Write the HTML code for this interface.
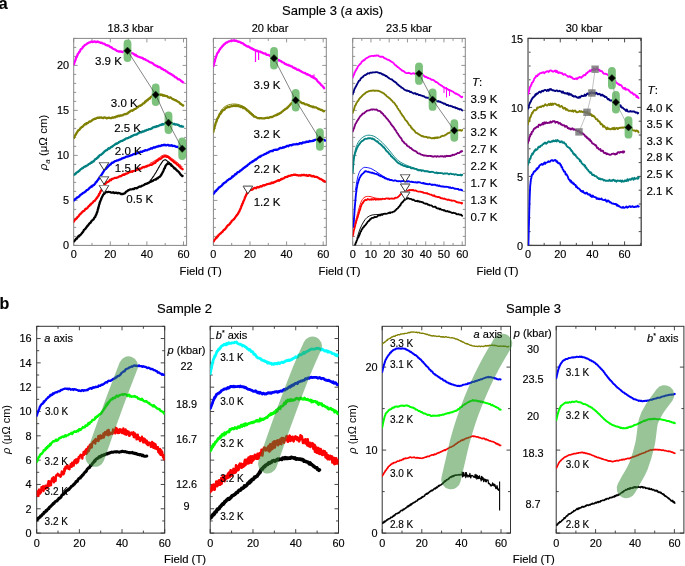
<!DOCTYPE html><html><head><meta charset="utf-8"><style>html,body{margin:0;padding:0;background:#fff;overflow:hidden}svg{display:block;will-change:transform}</style></head><body>
<svg width="685" height="566" viewBox="0 0 685 566" font-family='"Liberation Sans", sans-serif'>
<rect width="685" height="566" fill="#fff"/>
<clipPath id="a1"><rect x="73.7" y="38.4" width="112.89999999999999" height="207.0"/></clipPath>
<path d="M73.70,245.4 v-4.0 M73.70,38.4 v4.0 M92.00,245.4 v-2.5 M92.00,38.4 v2.5 M110.30,245.4 v-4.0 M110.30,38.4 v4.0 M128.60,245.4 v-2.5 M128.60,38.4 v2.5 M146.90,245.4 v-4.0 M146.90,38.4 v4.0 M165.20,245.4 v-2.5 M165.20,38.4 v2.5 M183.50,245.4 v-4.0 M183.50,38.4 v4.0 M73.7,245.40 h4.0 M186.6,245.40 h-4.0 M73.7,236.40 h2.5 M186.6,236.40 h-2.5 M73.7,227.40 h2.5 M186.6,227.40 h-2.5 M73.7,218.40 h2.5 M186.6,218.40 h-2.5 M73.7,209.40 h2.5 M186.6,209.40 h-2.5 M73.7,200.40 h4.0 M186.6,200.40 h-4.0 M73.7,191.40 h2.5 M186.6,191.40 h-2.5 M73.7,182.40 h2.5 M186.6,182.40 h-2.5 M73.7,173.40 h2.5 M186.6,173.40 h-2.5 M73.7,164.40 h2.5 M186.6,164.40 h-2.5 M73.7,155.40 h4.0 M186.6,155.40 h-4.0 M73.7,146.40 h2.5 M186.6,146.40 h-2.5 M73.7,137.40 h2.5 M186.6,137.40 h-2.5 M73.7,128.40 h2.5 M186.6,128.40 h-2.5 M73.7,119.40 h2.5 M186.6,119.40 h-2.5 M73.7,110.40 h4.0 M186.6,110.40 h-4.0 M73.7,101.40 h2.5 M186.6,101.40 h-2.5 M73.7,92.40 h2.5 M186.6,92.40 h-2.5 M73.7,83.40 h2.5 M186.6,83.40 h-2.5 M73.7,74.40 h2.5 M186.6,74.40 h-2.5 M73.7,65.40 h4.0 M186.6,65.40 h-4.0 M73.7,56.40 h2.5 M186.6,56.40 h-2.5 M73.7,47.40 h2.5 M186.6,47.40 h-2.5 M73.7,38.40 h2.5 M186.6,38.40 h-2.5" stroke="#888" stroke-width="0.9" fill="none"/>
<rect x="73.7" y="38.4" width="112.89999999999999" height="207.0" fill="none" stroke="#888" stroke-width="1.0"/>
<clipPath id="a2"><rect x="213.4" y="38.4" width="112.9" height="207.0"/></clipPath>
<path d="M213.40,245.4 v-4.0 M213.40,38.4 v4.0 M231.70,245.4 v-2.5 M231.70,38.4 v2.5 M250.00,245.4 v-4.0 M250.00,38.4 v4.0 M268.30,245.4 v-2.5 M268.30,38.4 v2.5 M286.60,245.4 v-4.0 M286.60,38.4 v4.0 M304.90,245.4 v-2.5 M304.90,38.4 v2.5 M323.20,245.4 v-4.0 M323.20,38.4 v4.0 M213.4,245.40 h4.0 M326.3,245.40 h-4.0 M213.4,236.40 h2.5 M326.3,236.40 h-2.5 M213.4,227.40 h2.5 M326.3,227.40 h-2.5 M213.4,218.40 h2.5 M326.3,218.40 h-2.5 M213.4,209.40 h2.5 M326.3,209.40 h-2.5 M213.4,200.40 h4.0 M326.3,200.40 h-4.0 M213.4,191.40 h2.5 M326.3,191.40 h-2.5 M213.4,182.40 h2.5 M326.3,182.40 h-2.5 M213.4,173.40 h2.5 M326.3,173.40 h-2.5 M213.4,164.40 h2.5 M326.3,164.40 h-2.5 M213.4,155.40 h4.0 M326.3,155.40 h-4.0 M213.4,146.40 h2.5 M326.3,146.40 h-2.5 M213.4,137.40 h2.5 M326.3,137.40 h-2.5 M213.4,128.40 h2.5 M326.3,128.40 h-2.5 M213.4,119.40 h2.5 M326.3,119.40 h-2.5 M213.4,110.40 h4.0 M326.3,110.40 h-4.0 M213.4,101.40 h2.5 M326.3,101.40 h-2.5 M213.4,92.40 h2.5 M326.3,92.40 h-2.5 M213.4,83.40 h2.5 M326.3,83.40 h-2.5 M213.4,74.40 h2.5 M326.3,74.40 h-2.5 M213.4,65.40 h4.0 M326.3,65.40 h-4.0 M213.4,56.40 h2.5 M326.3,56.40 h-2.5 M213.4,47.40 h2.5 M326.3,47.40 h-2.5 M213.4,38.40 h2.5 M326.3,38.40 h-2.5" stroke="#888" stroke-width="0.9" fill="none"/>
<rect x="213.4" y="38.4" width="112.9" height="207.0" fill="none" stroke="#888" stroke-width="1.0"/>
<clipPath id="a3"><rect x="352.7" y="38.4" width="112.60000000000002" height="207.0"/></clipPath>
<path d="M352.70,245.4 v-4.0 M352.70,38.4 v4.0 M361.82,245.4 v-2.5 M361.82,38.4 v2.5 M370.95,245.4 v-4.0 M370.95,38.4 v4.0 M380.07,245.4 v-2.5 M380.07,38.4 v2.5 M389.20,245.4 v-4.0 M389.20,38.4 v4.0 M398.32,245.4 v-2.5 M398.32,38.4 v2.5 M407.45,245.4 v-4.0 M407.45,38.4 v4.0 M416.57,245.4 v-2.5 M416.57,38.4 v2.5 M425.70,245.4 v-4.0 M425.70,38.4 v4.0 M434.82,245.4 v-2.5 M434.82,38.4 v2.5 M443.95,245.4 v-4.0 M443.95,38.4 v4.0 M453.07,245.4 v-2.5 M453.07,38.4 v2.5 M462.20,245.4 v-4.0 M462.20,38.4 v4.0 M352.7,245.40 h4.0 M465.3,245.40 h-4.0 M352.7,236.40 h2.5 M465.3,236.40 h-2.5 M352.7,227.40 h2.5 M465.3,227.40 h-2.5 M352.7,218.40 h2.5 M465.3,218.40 h-2.5 M352.7,209.40 h2.5 M465.3,209.40 h-2.5 M352.7,200.40 h4.0 M465.3,200.40 h-4.0 M352.7,191.40 h2.5 M465.3,191.40 h-2.5 M352.7,182.40 h2.5 M465.3,182.40 h-2.5 M352.7,173.40 h2.5 M465.3,173.40 h-2.5 M352.7,164.40 h2.5 M465.3,164.40 h-2.5 M352.7,155.40 h4.0 M465.3,155.40 h-4.0 M352.7,146.40 h2.5 M465.3,146.40 h-2.5 M352.7,137.40 h2.5 M465.3,137.40 h-2.5 M352.7,128.40 h2.5 M465.3,128.40 h-2.5 M352.7,119.40 h2.5 M465.3,119.40 h-2.5 M352.7,110.40 h4.0 M465.3,110.40 h-4.0 M352.7,101.40 h2.5 M465.3,101.40 h-2.5 M352.7,92.40 h2.5 M465.3,92.40 h-2.5 M352.7,83.40 h2.5 M465.3,83.40 h-2.5 M352.7,74.40 h2.5 M465.3,74.40 h-2.5 M352.7,65.40 h4.0 M465.3,65.40 h-4.0 M352.7,56.40 h2.5 M465.3,56.40 h-2.5 M352.7,47.40 h2.5 M465.3,47.40 h-2.5 M352.7,38.40 h2.5 M465.3,38.40 h-2.5" stroke="#888" stroke-width="0.9" fill="none"/>
<rect x="352.7" y="38.4" width="112.60000000000002" height="207.0" fill="none" stroke="#888" stroke-width="1.0"/>
<clipPath id="a4"><rect x="528.1" y="38.4" width="113.10000000000002" height="207.0"/></clipPath>
<path d="M528.10,245.4 v-4.0 M528.10,38.4 v4.0 M544.18,245.4 v-2.5 M544.18,38.4 v2.5 M560.26,245.4 v-4.0 M560.26,38.4 v4.0 M576.34,245.4 v-2.5 M576.34,38.4 v2.5 M592.42,245.4 v-4.0 M592.42,38.4 v4.0 M608.50,245.4 v-2.5 M608.50,38.4 v2.5 M624.58,245.4 v-4.0 M624.58,38.4 v4.0 M640.66,245.4 v-2.5 M640.66,38.4 v2.5 M528.1,245.40 h4.0 M641.2,245.40 h-4.0 M528.1,231.60 h2.5 M641.2,231.60 h-2.5 M528.1,217.80 h2.5 M641.2,217.80 h-2.5 M528.1,204.00 h2.5 M641.2,204.00 h-2.5 M528.1,190.20 h2.5 M641.2,190.20 h-2.5 M528.1,176.40 h4.0 M641.2,176.40 h-4.0 M528.1,162.60 h2.5 M641.2,162.60 h-2.5 M528.1,148.80 h2.5 M641.2,148.80 h-2.5 M528.1,135.00 h2.5 M641.2,135.00 h-2.5 M528.1,121.20 h2.5 M641.2,121.20 h-2.5 M528.1,107.40 h4.0 M641.2,107.40 h-4.0 M528.1,93.60 h2.5 M641.2,93.60 h-2.5 M528.1,79.80 h2.5 M641.2,79.80 h-2.5 M528.1,66.00 h2.5 M641.2,66.00 h-2.5 M528.1,52.20 h2.5 M641.2,52.20 h-2.5 M528.1,38.40 h4.0 M641.2,38.40 h-4.0" stroke="#333" stroke-width="0.9" fill="none"/>
<rect x="528.1" y="38.4" width="113.10000000000002" height="207.0" fill="none" stroke="#444" stroke-width="1.3"/>
<path d="M528.1,39 V244.8" stroke="#999" stroke-width="1.4"/>
<path d="M73.70,64.37 L73.87,64.54 L74.09,63.86 L74.34,62.67 L74.63,62.08 L74.94,61.16 L75.27,60.43 L75.61,59.63 L75.96,58.08 L76.31,57.14 L76.66,57.04 L77.00,55.94 L77.41,55.41 L77.82,53.93 L78.24,53.57 L78.67,53.08 L79.12,51.92 L79.57,51.87 L80.03,51.16 L80.51,49.72 L81.00,49.07 L81.57,48.82 L82.15,48.49 L82.74,47.31 L83.36,46.51 L83.99,46.07 L84.64,45.13 L85.31,44.75 L86.00,44.44 L86.72,44.03 L87.45,43.35 L88.21,42.94 L88.98,42.55 L89.78,42.44 L90.60,42.01 L91.44,41.54 L92.30,42.10 L93.10,41.75 L93.93,41.78 L94.79,41.36 L95.66,42.11 L96.54,42.06 L97.43,41.50 L98.30,41.82 L99.16,42.32 L100.00,42.49 L100.82,42.91 L101.64,42.71 L102.46,43.37 L103.26,43.56 L104.06,43.58 L104.84,44.19 L105.61,44.83 L106.37,45.16 L107.10,45.20 L107.89,45.67 L108.65,45.58 L109.39,46.19 L110.11,47.11 L110.82,47.18 L111.53,47.39 L112.26,48.14 L113.00,48.68 L113.77,49.08 L114.56,49.25 L115.36,49.76 L116.17,50.27 L116.96,50.93 L117.74,51.07 L118.49,51.27 L119.20,51.59 L120.10,51.35 L120.95,51.42 L121.77,51.97 L122.55,52.13 L123.29,51.67 L124.00,51.40 L124.87,50.96 L125.58,50.90 L126.37,51.09 L127.50,51.04 L128.08,51.04 L128.72,51.62 L129.40,51.40 L130.13,52.06 L130.89,52.89 L131.69,53.02 L132.50,53.39 L133.33,53.70 L134.16,54.41 L135.00,55.21 L135.71,54.70 L136.44,55.75 L137.19,56.13 L137.96,56.54 L138.73,56.77 L139.52,57.18 L140.31,57.28 L141.10,57.68 L141.89,57.92 L142.67,57.96 L143.44,59.06 L144.20,59.16 L144.94,59.20 L145.68,59.86 L146.40,60.21 L147.13,60.48 L147.84,60.85 L148.56,61.41 L149.28,61.88 L150.01,62.26 L150.74,62.52 L151.48,62.54 L152.23,63.14 L153.00,63.51 L153.67,64.24 L154.35,64.87 L155.04,65.19 L155.74,65.57 L156.45,65.98 L157.16,65.87 L157.88,66.80 L158.59,67.04 L159.30,66.91 L160.01,67.26 L160.72,67.66 L161.42,68.73 L162.12,68.67 L162.80,68.95 L163.52,69.84 L164.23,70.01 L164.92,70.18 L165.61,70.68 L166.29,71.43 L166.97,71.53 L167.65,72.05 L168.34,72.87 L169.04,73.08 L169.75,73.41 L170.48,74.01 L171.23,74.08 L172.00,74.90 L172.67,75.35 L173.38,75.61 L174.14,76.02 L174.92,77.24 L175.73,77.42 L176.55,77.68 L177.36,78.57 L178.18,79.29 L178.97,79.09 L179.73,79.59 L180.46,80.19 L181.14,81.15 L181.76,81.05 L182.32,81.91 L182.80,82.20 L183.20,82.34" fill="none" stroke="#ff00ff" stroke-width="2.3" stroke-linejoin="round" stroke-linecap="round" clip-path="url(#a1)"/>
<path d="M73.70,137.75 L73.95,138.00 L74.27,137.28 L74.65,136.37 L75.08,135.36 L75.54,134.95 L76.02,133.90 L76.52,133.24 L77.03,132.22 L77.52,131.77 L78.00,130.60 L78.59,130.09 L79.19,130.00 L79.80,129.26 L80.42,128.13 L81.05,128.02 L81.69,126.95 L82.34,126.95 L83.00,126.22 L83.67,125.39 L84.36,124.72 L85.06,124.01 L85.78,124.31 L86.49,123.09 L87.20,123.35 L87.91,123.04 L88.60,122.26 L89.38,121.43 L90.15,121.60 L90.91,121.26 L91.68,120.60 L92.44,120.02 L93.21,119.53 L94.00,119.16 L94.80,118.71 L95.62,118.83 L96.44,118.33 L97.27,117.86 L98.09,117.56 L98.90,117.88 L99.70,117.42 L100.60,117.53 L101.48,117.38 L102.34,117.93 L103.21,118.04 L104.09,117.32 L105.00,117.53 L105.79,117.67 L106.58,118.30 L107.38,118.15 L108.19,117.78 L109.03,117.66 L109.89,118.04 L110.80,118.10 L111.54,118.09 L112.30,117.42 L113.08,117.76 L113.88,117.41 L114.69,117.03 L115.51,117.28 L116.34,116.39 L117.17,116.62 L118.00,115.83 L118.75,115.71 L119.51,116.18 L120.29,115.35 L121.06,115.64 L121.84,115.28 L122.62,115.28 L123.40,114.61 L124.18,114.33 L124.94,114.01 L125.70,114.23 L126.45,113.67 L127.18,113.64 L127.91,113.22 L128.64,112.16 L129.36,112.13 L130.08,111.32 L130.81,110.85 L131.53,110.46 L132.26,110.75 L133.00,110.26 L133.75,109.87 L134.50,109.00 L135.27,108.81 L136.03,108.52 L136.80,107.71 L137.56,107.43 L138.32,106.66 L139.06,106.07 L139.79,105.76 L140.50,105.85 L141.20,105.07 L141.89,104.90 L142.57,103.97 L143.24,103.29 L143.91,103.23 L144.56,102.75 L145.19,101.50 L145.81,101.60 L146.42,100.59 L147.00,100.15 L147.71,100.28 L148.39,98.96 L149.04,98.60 L149.67,98.74 L150.29,97.72 L150.88,96.98 L151.45,96.59 L152.00,96.27 L152.81,96.19 L153.54,95.17 L154.24,95.55 L154.94,94.79 L155.70,95.12 L156.49,94.95 L157.27,94.36 L158.09,94.35 L158.99,94.65 L160.00,94.44 L160.69,95.03 L161.42,94.59 L162.19,94.68 L162.99,95.70 L163.82,95.26 L164.68,95.74 L165.58,95.86 L166.50,96.03 L167.20,96.06 L167.93,97.09 L168.68,97.44 L169.46,97.76 L170.25,97.32 L171.04,97.77 L171.85,98.50 L172.65,99.21 L173.45,99.21 L174.23,99.75 L175.00,100.15 L175.72,100.20 L176.48,100.92 L177.26,101.21 L178.06,101.68 L178.85,102.07 L179.63,102.79 L180.38,103.95 L181.09,103.96 L181.73,104.61 L182.31,105.01 L182.80,105.63 L183.20,105.40" fill="none" stroke="#808000" stroke-width="2.3" stroke-linejoin="round" stroke-linecap="round" clip-path="url(#a1)"/>
<path d="M73.50,175.03 L73.88,174.75 L74.35,174.38 L74.90,174.43 L75.51,174.00 L76.17,172.96 L76.88,172.44 L77.62,172.05 L78.40,171.49 L79.18,170.91 L79.97,169.99 L80.76,169.20 L81.53,168.83 L82.28,168.13 L83.00,168.05 L83.70,167.13 L84.39,166.67 L85.09,166.72 L85.79,165.96 L86.49,165.98 L87.20,165.27 L87.91,165.16 L88.62,164.08 L89.33,163.94 L90.06,163.74 L90.78,162.61 L91.51,162.89 L92.25,161.66 L93.00,161.65 L93.58,161.38 L94.17,160.76 L94.76,159.82 L95.36,159.12 L95.96,158.96 L96.56,158.80 L97.16,157.69 L97.77,157.69 L98.38,156.46 L98.99,156.60 L99.60,155.25 L100.22,154.96 L100.84,154.94 L101.47,154.32 L102.10,153.88 L102.73,153.30 L103.36,152.71 L104.00,152.17 L104.68,151.21 L105.35,150.94 L106.03,150.20 L106.71,150.21 L107.40,149.69 L108.08,148.85 L108.77,148.21 L109.46,148.55 L110.16,147.95 L110.87,147.27 L111.58,146.81 L112.29,146.64 L113.02,145.83 L113.75,145.33 L114.49,144.84 L115.24,144.32 L116.00,143.67 L116.69,143.84 L117.38,143.24 L118.08,142.99 L118.78,142.15 L119.49,142.03 L120.21,141.46 L120.93,141.07 L121.66,140.82 L122.39,140.96 L123.13,140.20 L123.87,139.83 L124.62,139.65 L125.37,138.95 L126.13,138.38 L126.89,138.48 L127.66,138.09 L128.44,137.86 L129.22,137.31 L130.00,137.17 L130.72,136.88 L131.46,136.10 L132.20,136.00 L132.97,135.64 L133.74,135.08 L134.52,134.91 L135.30,134.70 L136.09,134.68 L136.88,134.35 L137.67,133.44 L138.46,133.44 L139.25,132.58 L140.03,132.27 L140.81,132.35 L141.58,132.37 L142.34,131.41 L143.08,131.66 L143.81,131.47 L144.53,130.67 L145.22,130.74 L145.90,130.61 L146.76,129.85 L147.61,129.82 L148.43,129.54 L149.23,129.12 L150.02,129.06 L150.79,128.82 L151.55,128.61 L152.29,128.00 L153.03,127.38 L153.75,127.20 L154.47,126.93 L155.18,127.00 L155.89,126.94 L156.59,126.07 L157.30,126.40 L158.00,126.20 L158.86,125.57 L159.72,125.41 L160.57,124.78 L161.42,124.98 L162.25,124.05 L163.07,124.60 L163.88,124.16 L164.68,123.74 L165.46,123.18 L166.23,123.55 L166.97,123.42 L167.70,122.56 L168.40,123.05 L169.37,123.08 L170.29,122.98 L171.16,123.16 L172.00,123.13 L172.81,123.81 L173.61,124.12 L174.40,123.88 L175.19,124.53 L176.00,124.44 L176.85,124.45 L177.75,124.88 L178.67,125.00 L179.58,126.02 L180.46,126.37 L181.28,125.91 L182.01,126.61 L182.63,126.65 L183.10,126.56" fill="none" stroke="#008080" stroke-width="2.3" stroke-linejoin="round" stroke-linecap="round" clip-path="url(#a1)"/>
<path d="M73.50,200.62 L73.88,200.26 L74.38,200.31 L74.96,199.16 L75.61,198.79 L76.31,198.44 L77.05,197.46 L77.81,197.39 L78.56,196.75 L79.30,196.36 L80.00,195.24 L80.62,194.81 L81.24,194.55 L81.87,193.81 L82.51,193.59 L83.15,192.79 L83.79,192.68 L84.43,192.27 L85.08,191.78 L85.72,191.43 L86.36,190.54 L87.00,189.99 L87.64,189.82 L88.30,189.25 L88.96,188.58 L89.63,187.92 L90.29,187.33 L90.95,186.68 L91.60,186.81 L92.24,185.69 L92.85,185.75 L93.44,185.06 L94.00,184.92 L94.64,184.10 L95.25,183.66 L95.81,182.27 L96.36,181.95 L96.89,181.36 L97.41,180.46 L97.93,179.95 L98.46,179.11 L99.00,178.53 L99.45,177.42 L99.90,177.16 L100.34,176.49 L100.78,175.67 L101.22,175.05 L101.66,174.68 L102.11,173.88 L102.56,173.01 L103.03,172.46 L103.51,171.54 L104.00,170.73 L104.51,169.91 L105.03,169.52 L105.56,169.16 L106.11,168.78 L106.66,168.11 L107.22,167.21 L107.78,167.04 L108.34,165.99 L108.90,165.79 L109.45,164.89 L110.00,164.72 L110.72,164.36 L111.38,163.26 L112.03,162.72 L112.69,162.73 L113.38,162.28 L114.15,161.75 L115.01,161.02 L116.00,160.90 L116.63,160.64 L117.30,160.32 L118.01,160.42 L118.75,159.85 L119.52,159.65 L120.31,159.47 L121.12,159.00 L121.95,158.43 L122.79,158.33 L123.64,157.90 L124.49,157.58 L125.33,157.24 L126.17,156.72 L127.00,156.62 L127.77,156.34 L128.54,156.35 L129.32,155.94 L130.10,155.74 L130.89,155.41 L131.68,155.20 L132.48,154.76 L133.28,154.28 L134.08,153.95 L134.89,154.09 L135.70,153.99 L136.52,153.44 L137.34,152.82 L138.17,153.17 L139.00,152.59 L139.75,152.32 L140.51,151.69 L141.30,151.85 L142.10,151.80 L142.90,151.24 L143.72,150.91 L144.53,150.91 L145.34,150.07 L146.15,150.23 L146.95,150.36 L147.74,149.87 L148.51,149.36 L149.26,149.37 L149.99,149.05 L150.69,148.46 L151.36,148.24 L152.00,148.65 L153.01,147.76 L153.94,147.27 L154.81,147.66 L155.63,147.11 L156.40,146.71 L157.14,146.60 L157.86,146.58 L158.57,145.86 L159.28,146.11 L160.00,145.99 L160.88,145.89 L161.71,145.23 L162.50,145.39 L163.27,144.93 L164.05,145.13 L164.86,144.72 L165.70,145.25 L166.60,145.33 L167.37,144.88 L168.18,144.84 L169.03,145.59 L169.89,145.46 L170.76,145.70 L171.64,145.11 L172.51,146.04 L173.37,145.96 L174.20,145.85 L175.00,146.14 L175.89,146.67 L176.82,146.97 L177.76,146.75 L178.68,147.47 L179.56,147.39 L180.38,148.43 L181.11,148.24 L181.72,148.90 L182.20,148.91" fill="none" stroke="#0000ff" stroke-width="2.3" stroke-linejoin="round" stroke-linecap="round" clip-path="url(#a1)"/>
<path d="M73.50,221.90 L73.81,221.23 L74.19,221.03 L74.63,220.17 L75.13,219.59 L75.67,219.48 L76.25,218.49 L76.86,218.15 L77.48,216.98 L78.12,216.71 L78.75,216.01 L79.39,214.96 L80.00,214.15 L80.57,213.83 L81.17,213.33 L81.78,212.39 L82.42,211.87 L83.06,211.15 L83.71,211.04 L84.36,210.70 L85.00,209.51 L85.64,208.76 L86.26,208.80 L86.86,208.34 L87.45,207.94 L88.00,207.10 L88.69,206.21 L89.38,206.01 L90.04,204.74 L90.69,204.66 L91.31,203.54 L91.91,203.24 L92.48,202.79 L93.02,202.16 L93.53,201.47 L94.00,201.06 L94.80,200.76 L95.44,199.75 L95.98,199.22 L96.48,198.26 L97.00,197.99 L97.45,196.97 L97.89,196.49 L98.31,196.03 L98.72,195.36 L99.12,193.78 L99.50,193.77 L99.92,193.05 L100.31,191.83 L100.69,191.17 L101.08,190.62 L101.50,190.18 L101.98,188.91 L102.49,188.49 L103.01,187.54 L103.52,186.20 L104.00,186.17 L104.49,184.64 L104.91,184.17 L105.37,184.07 L106.00,182.90 L106.53,182.71 L107.11,181.99 L107.75,181.77 L108.44,181.59 L109.19,181.14 L110.00,179.88 L110.62,179.58 L111.23,180.00 L111.86,179.01 L112.53,178.95 L113.26,178.53 L114.07,178.19 L114.97,177.78 L116.00,177.92 L116.60,177.77 L117.25,177.46 L117.93,177.33 L118.65,176.87 L119.39,176.33 L120.16,176.23 L120.94,176.22 L121.75,175.60 L122.56,174.92 L123.39,174.42 L124.22,174.88 L125.05,174.24 L125.87,173.70 L126.69,173.61 L127.50,173.25 L128.25,172.93 L129.01,172.22 L129.78,172.19 L130.55,171.95 L131.32,171.46 L132.10,171.78 L132.88,171.07 L133.67,170.99 L134.46,170.74 L135.25,170.47 L136.04,170.16 L136.83,169.89 L137.62,169.15 L138.42,169.51 L139.21,168.47 L140.00,168.88 L140.80,168.53 L141.63,168.24 L142.48,167.24 L143.33,166.99 L144.20,167.36 L145.07,166.77 L145.93,166.40 L146.79,166.67 L147.64,165.54 L148.47,165.71 L149.28,165.35 L150.06,164.79 L150.80,164.75 L151.51,164.75 L152.18,164.62 L152.80,163.57 L153.78,163.52 L154.62,162.61 L155.35,162.73 L156.00,161.56 L156.59,161.00 L157.16,160.81 L157.74,160.63 L158.34,159.78 L159.00,159.17 L159.71,159.32 L160.44,158.85 L161.19,158.42 L161.93,157.47 L162.67,157.15 L163.39,156.61 L164.09,156.59 L164.77,156.16 L165.40,156.05 L166.25,156.48 L167.01,156.86 L167.73,156.91 L168.43,156.97 L169.17,158.03 L170.00,158.45 L170.60,159.37 L171.23,159.61 L171.87,160.23 L172.54,160.67 L173.22,161.10 L173.90,162.02 L174.60,162.57 L175.30,162.70 L176.00,163.19 L176.60,163.91 L177.25,164.62 L177.94,164.84 L178.63,165.69 L179.33,166.52 L180.01,166.66 L180.66,167.93 L181.26,168.33 L181.79,168.51 L182.25,168.90 L182.60,169.27" fill="none" stroke="#ff0000" stroke-width="2.3" stroke-linejoin="round" stroke-linecap="round" clip-path="url(#a1)"/>
<path d="M73.80,241.34 L74.20,241.29 L74.75,240.47 L75.40,239.79 L76.11,238.68 L76.82,238.60 L77.50,237.34 L78.04,236.78 L78.56,236.02 L79.09,236.32 L79.63,235.32 L80.20,235.12 L80.82,234.46 L81.50,233.72 L81.93,233.07 L82.38,232.62 L82.85,232.04 L83.33,231.32 L83.83,230.08 L84.34,229.78 L84.86,229.16 L85.38,228.87 L85.91,228.01 L86.44,227.27 L86.97,226.66 L87.50,225.68 L88.04,225.56 L88.61,224.64 L89.21,223.76 L89.81,223.15 L90.42,222.94 L91.03,221.88 L91.62,220.90 L92.19,220.25 L92.73,220.12 L93.24,219.42 L93.70,219.18 L94.10,218.02 L94.75,217.33 L95.24,216.88 L95.61,215.62 L95.91,215.04 L96.19,214.79 L96.50,213.79 L96.78,212.93 L97.04,212.32 L97.28,211.89 L97.51,211.00 L97.73,209.79 L97.96,208.95 L98.20,208.82 L98.41,207.87 L98.62,206.65 L98.83,206.45 L99.04,204.87 L99.25,204.36 L99.46,203.99 L99.68,203.11 L99.90,202.01 L100.21,201.66 L100.53,200.55 L100.85,199.99 L101.17,199.26 L101.49,198.12 L101.80,197.66 L102.20,196.59 L102.56,196.10 L102.97,195.19 L103.50,194.40 L104.04,193.92 L104.66,193.53 L105.34,192.36 L106.06,191.90 L106.80,192.12 L107.57,192.05 L108.38,191.86 L109.22,191.98 L110.09,192.07 L111.00,192.64 L111.75,192.67 L112.50,192.59 L113.26,192.22 L114.08,193.08 L114.98,192.85 L116.00,192.72 L116.70,192.90 L117.48,193.36 L118.32,192.86 L119.20,193.08 L120.09,193.36 L120.98,193.98 L121.84,193.92 L122.64,194.14 L123.37,193.73 L124.00,193.66 L124.90,193.26 L125.45,192.63 L125.91,191.93 L126.51,191.44 L127.50,190.91 L128.13,190.16 L128.84,190.11 L129.62,189.59 L130.46,189.35 L131.35,189.30 L132.26,189.14 L133.18,188.88 L134.10,189.02 L135.00,188.04 L135.88,188.20 L136.70,188.25 L137.49,187.72 L138.27,187.26 L139.04,186.76 L139.81,186.46 L140.56,186.60 L141.31,186.22 L142.06,185.68 L142.80,185.54 L143.53,185.23 L144.27,184.83 L145.00,184.10 L145.82,183.82 L146.65,183.77 L147.49,183.04 L148.33,183.04 L149.16,182.46 L149.96,181.99 L150.74,181.77 L151.48,181.15 L152.17,181.06 L152.80,180.82 L153.72,180.02 L154.49,179.75 L155.17,179.45 L155.79,179.61 L156.38,178.99 L157.00,178.31 L157.75,178.47 L158.47,177.35 L159.17,177.09 L159.84,176.73 L160.50,175.97 L160.96,175.12 L161.41,174.72 L161.85,173.68 L162.28,173.08 L162.69,172.06 L163.10,171.69 L163.50,170.69 L163.95,169.25 L164.39,168.38 L164.81,168.23 L165.22,166.71 L165.62,165.75 L166.00,165.28 L166.67,164.36 L167.28,163.97 L168.00,163.11 L168.63,163.50 L169.31,163.98 L170.09,163.89 L171.00,165.10 L171.52,165.86 L172.07,165.93 L172.66,166.42 L173.28,166.80 L173.92,167.93 L174.59,168.57 L175.28,168.45 L176.00,169.55 L176.56,169.98 L177.19,170.84 L177.86,171.03 L178.56,171.88 L179.26,172.62 L179.96,173.52 L180.62,174.50 L181.23,175.20 L181.78,175.70 L182.24,176.09 L182.60,175.93" fill="none" stroke="#000000" stroke-width="2.3" stroke-linejoin="round" stroke-linecap="round" clip-path="url(#a1)"/>
<path d="M149.50,181.47 L149.81,181.16 L150.23,180.54 L150.73,179.99 L151.28,179.43 L151.86,178.45 L152.44,177.89 L153.00,176.88 L153.43,176.33 L153.86,175.80 L154.31,174.87 L154.77,174.23 L155.23,173.44 L155.69,172.82 L156.14,172.10 L156.57,171.15 L157.00,170.50 L157.47,169.83 L157.93,168.92 L158.39,168.03 L158.84,167.40 L159.28,166.51 L159.71,165.82 L160.11,164.99 L160.50,164.65 L161.07,163.62 L161.59,162.85 L162.07,162.12 L162.54,161.26 L163.00,160.81 L163.73,160.15 L164.43,159.91 L165.20,159.90 L165.83,159.92 L166.49,160.33 L167.20,160.98 L168.00,161.47 L168.64,161.85 L169.39,162.42 L170.18,163.12 L170.92,163.70 L171.55,164.30 L172.00,164.51" fill="none" stroke="#000000" stroke-width="1.1" stroke-linejoin="round" stroke-linecap="round" clip-path="url(#a1)"/>
<path d="M150.00,163.54 L150.47,163.09 L151.10,162.84 L151.85,162.36 L152.69,162.05 L153.56,161.37 L154.43,160.84 L155.26,160.41 L156.00,159.99 L156.78,159.42 L157.55,158.99 L158.29,158.28 L159.01,158.03 L159.71,157.45 L160.37,156.92 L161.00,156.32 L161.98,155.81 L162.84,155.43 L163.66,155.04 L164.50,154.92 L165.32,154.99 L166.09,154.97 L166.95,155.43 L168.00,155.93 L168.55,156.16 L169.13,156.51 L169.74,156.94 L170.39,157.28 L171.06,157.91 L171.76,158.46 L172.48,158.91 L173.23,159.50 L174.00,159.89 L174.62,160.35 L175.31,161.04 L176.05,161.76 L176.81,162.19 L177.60,162.66 L178.38,163.31 L179.13,164.05 L179.85,164.77 L180.52,165.11 L181.11,165.65 L181.61,166.25 L182.00,166.69" fill="none" stroke="#ff0000" stroke-width="1.0" stroke-linejoin="round" stroke-linecap="round" clip-path="url(#a1)"/>
<path d="M213.40,66.36 L213.52,66.12 L213.67,65.45 L213.85,64.30 L214.05,63.78 L214.26,62.75 L214.49,61.94 L214.74,61.48 L214.99,60.47 L215.24,58.99 L215.50,58.15 L215.75,57.93 L216.00,56.64 L216.32,55.97 L216.64,55.12 L216.96,54.16 L217.29,53.41 L217.63,52.81 L218.00,52.35 L218.39,52.13 L218.82,51.16 L219.30,50.07 L219.72,49.83 L220.17,48.81 L220.64,48.36 L221.13,47.51 L221.64,47.40 L222.17,46.20 L222.71,45.96 L223.27,45.20 L223.83,44.81 L224.41,44.07 L225.00,43.83 L225.74,42.90 L226.51,42.67 L227.30,42.18 L228.11,41.72 L228.94,41.42 L229.78,41.11 L230.62,40.76 L231.46,41.06 L232.30,40.72 L233.14,40.62 L234.00,40.23 L234.86,40.76 L235.73,40.63 L236.60,40.89 L237.46,41.35 L238.32,41.73 L239.17,41.77 L240.00,42.09 L240.73,42.62 L241.45,42.90 L242.15,43.20 L242.84,43.31 L243.54,43.95 L244.23,44.61 L244.93,44.93 L245.64,45.34 L246.36,46.02 L247.10,46.30 L247.79,46.62 L248.50,46.40 L249.22,47.02 L249.95,47.73 L250.69,47.63 L251.42,48.68 L252.16,48.35 L252.89,49.37 L253.61,49.11 L254.31,50.00 L255.00,50.31 L255.82,50.20 L256.61,51.01 L257.39,50.65 L258.15,51.55 L258.91,51.40 L259.67,51.71 L260.43,51.69 L261.21,52.40 L262.00,52.39 L262.82,53.05 L263.67,53.48 L264.54,53.61 L265.42,53.39 L266.28,54.55 L267.13,54.84 L267.94,54.90 L268.70,54.98 L269.40,55.46 L270.27,56.19 L270.94,56.22 L271.54,56.93 L272.17,57.21 L272.95,57.55 L274.00,58.59 L274.59,58.42 L275.25,58.93 L275.95,58.78 L276.70,59.51 L277.48,59.50 L278.28,60.48 L279.11,60.24 L279.94,60.67 L280.78,61.13 L281.62,61.55 L282.44,62.27 L283.23,62.51 L284.00,62.79 L284.75,63.79 L285.49,64.07 L286.23,64.19 L286.96,64.67 L287.69,65.03 L288.42,64.85 L289.14,65.70 L289.87,65.53 L290.59,66.16 L291.32,66.32 L292.04,66.49 L292.77,67.39 L293.50,67.87 L294.23,67.69 L294.95,68.56 L295.66,68.44 L296.38,69.08 L297.09,69.74 L297.80,69.91 L298.52,69.63 L299.24,70.34 L299.97,70.66 L300.71,70.96 L301.46,71.81 L302.22,71.86 L303.00,72.48 L303.70,72.77 L304.43,73.01 L305.18,72.95 L305.96,73.87 L306.74,74.43 L307.54,74.15 L308.33,74.94 L309.12,75.17 L309.89,75.41 L310.64,76.11 L311.37,76.72 L312.07,76.22 L312.73,77.36 L313.34,77.25 L313.90,78.00 L314.82,78.03 L315.58,79.12 L316.24,79.16 L316.81,79.95 L317.34,81.11 L317.86,81.41 L318.40,82.13 L319.00,82.47 L319.59,83.08 L320.23,83.76 L320.89,84.70 L321.55,85.36 L322.18,85.56 L322.78,86.42 L323.31,87.09 L323.76,87.60 L324.10,88.28" fill="none" stroke="#ff00ff" stroke-width="2.3" stroke-linejoin="round" stroke-linecap="round" clip-path="url(#a2)"/>
<path d="M255.5,50.5 V61.9 M258.6,51.5 V60 M313.9,77 V74.5" stroke="#ff00ff" stroke-width="1.2"/>
<path d="M213.40,131.81 L213.53,130.72 L213.69,130.33 L213.87,129.40 L214.08,128.55 L214.30,127.75 L214.54,126.96 L214.79,126.55 L215.06,125.52 L215.33,124.70 L215.62,123.31 L215.91,122.30 L216.20,122.20 L216.50,121.29 L216.83,120.61 L217.16,118.99 L217.51,118.56 L217.87,118.01 L218.24,117.35 L218.62,116.78 L219.02,115.73 L219.41,114.90 L219.82,113.89 L220.24,113.96 L220.67,113.51 L221.10,112.87 L221.69,111.92 L222.30,110.95 L222.93,110.22 L223.57,110.10 L224.22,109.70 L224.90,109.21 L225.58,108.03 L226.28,107.97 L227.00,107.51 L227.74,107.09 L228.52,107.12 L229.32,106.99 L230.14,106.59 L230.96,106.39 L231.78,106.24 L232.58,106.09 L233.36,105.90 L234.10,105.57 L235.01,106.01 L235.89,105.44 L236.74,105.98 L237.58,105.86 L238.39,106.17 L239.20,106.42 L240.00,106.48 L240.80,107.16 L241.59,106.76 L242.37,106.86 L243.14,108.04 L243.88,107.82 L244.61,108.18 L245.30,108.72 L246.07,109.42 L246.79,110.37 L247.48,110.76 L248.16,111.07 L248.82,111.91 L249.50,112.45 L250.17,113.12 L250.83,113.67 L251.48,114.07 L252.14,114.87 L252.81,115.42 L253.50,115.73 L254.21,116.70 L254.91,116.64 L255.64,116.76 L256.39,117.40 L257.17,117.89 L258.00,118.05 L258.74,118.09 L259.49,118.36 L260.27,118.16 L261.08,118.10 L261.93,118.29 L262.83,118.40 L263.80,118.30 L264.52,118.41 L265.28,118.03 L266.07,117.90 L266.89,117.88 L267.73,117.66 L268.58,118.03 L269.44,117.58 L270.30,117.05 L271.16,117.01 L272.00,117.13 L272.77,116.61 L273.54,116.30 L274.32,115.85 L275.11,115.35 L275.90,115.40 L276.69,114.55 L277.47,114.82 L278.25,113.77 L279.01,113.98 L279.76,113.23 L280.50,113.06 L281.23,112.52 L281.97,111.60 L282.70,111.43 L283.43,110.46 L284.15,110.04 L284.85,109.59 L285.54,108.93 L286.20,108.71 L286.83,108.45 L287.43,107.36 L288.00,107.30 L288.81,106.02 L289.54,105.73 L290.21,104.72 L290.82,104.23 L291.40,103.21 L291.95,103.30 L292.50,102.24 L293.37,101.67 L294.11,100.84 L294.85,100.82 L295.70,100.38 L296.45,100.45 L297.24,100.80 L298.07,100.71 L298.98,100.96 L300.00,102.10 L300.69,101.92 L301.42,102.69 L302.19,103.16 L302.99,103.23 L303.82,103.13 L304.68,104.18 L305.58,104.36 L306.50,104.37 L307.20,104.59 L307.92,105.12 L308.66,105.02 L309.42,105.98 L310.19,106.06 L310.98,106.42 L311.78,106.29 L312.58,107.04 L313.39,106.60 L314.20,107.40 L315.00,107.28 L315.77,107.34 L316.59,107.76 L317.45,108.17 L318.33,109.02 L319.21,109.02 L320.08,109.47 L320.92,109.92 L321.72,109.93 L322.45,110.56 L323.10,110.85 L323.66,111.30 L324.10,111.10" fill="none" stroke="#808000" stroke-width="2.3" stroke-linejoin="round" stroke-linecap="round" clip-path="url(#a2)"/>
<path d="M216.00,121.50 C216.85,119.67 219.27,113.17 221.10,110.50 C222.93,107.83 224.83,106.58 227.00,105.50 C229.17,104.42 231.93,104.08 234.10,104.00 C236.27,103.92 238.13,104.42 240.00,105.00 C241.87,105.58 243.63,106.42 245.30,107.50 C246.97,108.58 248.55,110.25 250.00,111.50 C251.45,112.75 253.33,114.42 254.00,115.00" fill="none" stroke="#808000" stroke-width="1.0" stroke-linejoin="round" stroke-linecap="round" clip-path="url(#a2)"/>
<path d="M213.40,193.92 L213.72,193.70 L214.10,193.13 L214.53,192.36 L215.01,191.72 L215.54,191.01 L216.11,191.08 L216.70,189.83 L217.33,189.57 L217.97,188.82 L218.64,187.78 L219.31,187.27 L219.99,187.15 L220.67,186.25 L221.34,185.98 L222.00,185.37 L222.58,184.13 L223.18,184.15 L223.78,183.07 L224.40,182.90 L225.03,182.41 L225.66,182.37 L226.31,181.54 L226.96,180.67 L227.62,180.45 L228.28,179.95 L228.95,179.15 L229.62,178.78 L230.29,178.73 L230.97,178.31 L231.65,177.60 L232.32,176.44 L233.00,176.67 L233.64,175.76 L234.29,175.59 L234.95,174.48 L235.62,173.93 L236.29,174.09 L236.96,173.00 L237.64,172.25 L238.32,172.13 L239.00,172.04 L239.68,171.37 L240.36,170.45 L241.04,170.46 L241.71,169.77 L242.38,169.29 L243.05,168.61 L243.71,167.88 L244.36,167.85 L245.00,166.97 L245.71,166.86 L246.42,165.98 L247.12,165.78 L247.82,164.86 L248.51,164.30 L249.20,163.94 L249.88,163.19 L250.56,162.53 L251.24,162.44 L251.92,162.19 L252.60,161.19 L253.27,161.24 L253.95,160.71 L254.63,160.24 L255.31,159.47 L256.00,159.55 L256.73,158.90 L257.46,158.25 L258.18,157.39 L258.91,157.36 L259.63,156.43 L260.35,156.81 L261.08,155.88 L261.80,155.50 L262.53,155.27 L263.26,154.96 L263.99,154.53 L264.74,154.06 L265.48,153.83 L266.24,153.66 L267.00,152.95 L267.77,152.66 L268.56,152.61 L269.35,151.56 L270.15,151.39 L270.96,151.24 L271.78,150.84 L272.59,151.17 L273.41,150.21 L274.22,149.90 L275.04,149.82 L275.85,149.73 L276.65,149.75 L277.44,149.65 L278.23,149.27 L279.00,148.80 L279.81,148.02 L280.62,147.79 L281.41,148.05 L282.19,147.97 L282.96,147.24 L283.73,147.64 L284.50,147.03 L285.27,146.83 L286.04,146.65 L286.81,145.95 L287.59,145.82 L288.38,146.30 L289.19,145.49 L290.00,145.12 L290.78,145.12 L291.57,145.33 L292.38,144.73 L293.21,144.51 L294.04,144.40 L294.87,144.41 L295.71,144.47 L296.54,143.91 L297.37,144.27 L298.19,144.20 L298.99,143.90 L299.78,143.07 L300.54,143.14 L301.29,143.53 L302.00,143.32 L302.93,142.47 L303.82,142.55 L304.67,142.28 L305.50,142.44 L306.30,141.60 L307.08,141.68 L307.86,141.89 L308.63,141.84 L309.41,140.91 L310.20,141.24 L311.00,141.15 L311.83,141.17 L312.68,140.60 L313.54,140.92 L314.40,140.05 L315.27,139.81 L316.12,139.67 L316.95,139.94 L317.75,139.40 L318.51,139.42 L319.23,139.28 L319.90,139.10 L321.03,139.91 L322.07,139.45 L323.01,140.17 L323.82,140.14 L324.49,139.85 L325.00,140.59" fill="none" stroke="#0000ff" stroke-width="2.3" stroke-linejoin="round" stroke-linecap="round" clip-path="url(#a2)"/>
<path d="M213.40,240.96 L213.75,241.42 L214.20,240.02 L214.74,239.56 L215.34,239.10 L215.98,237.84 L216.66,237.74 L217.34,236.35 L218.00,236.29 L218.52,235.04 L219.04,234.96 L219.58,234.16 L220.12,233.72 L220.67,233.39 L221.25,232.74 L221.85,232.19 L222.47,231.81 L223.12,230.74 L223.80,230.01 L224.28,229.95 L224.79,229.04 L225.32,229.03 L225.87,227.96 L226.44,227.38 L227.01,226.32 L227.60,225.66 L228.18,225.07 L228.76,224.88 L229.34,224.25 L229.91,223.85 L230.46,222.74 L231.00,222.36 L231.51,221.43 L232.00,220.62 L232.58,220.24 L233.15,219.84 L233.70,219.30 L234.24,218.81 L234.76,218.10 L235.26,217.26 L235.75,216.65 L236.23,216.01 L236.69,215.38 L237.14,214.95 L237.58,214.22 L238.00,213.82 L238.44,212.72 L238.86,211.98 L239.26,211.53 L239.64,210.60 L240.01,209.67 L240.36,208.91 L240.70,208.33 L241.04,207.37 L241.36,206.28 L241.68,205.57 L242.00,205.09 L242.34,203.79 L242.66,203.37 L242.97,202.97 L243.27,201.59 L243.56,201.01 L243.85,200.49 L244.13,199.95 L244.42,199.03 L244.70,198.28 L245.00,197.40 L245.42,196.53 L245.83,195.82 L246.23,194.72 L246.64,194.30 L247.07,192.85 L247.52,192.84 L248.00,192.22 L248.74,191.12 L249.53,190.31 L250.35,190.15 L251.18,189.98 L252.00,189.76 L252.72,189.46 L253.36,188.55 L254.04,188.14 L254.88,187.86 L256.00,188.24 L256.63,187.72 L257.33,187.02 L258.08,187.29 L258.89,187.28 L259.73,186.70 L260.60,186.10 L261.49,186.49 L262.38,185.98 L263.27,185.24 L264.15,185.50 L265.00,185.00 L265.78,184.83 L266.56,184.40 L267.36,184.10 L268.17,183.98 L268.98,183.83 L269.79,183.53 L270.59,183.66 L271.39,182.70 L272.17,182.57 L272.93,182.99 L273.68,182.45 L274.40,182.21 L275.23,181.92 L276.02,181.27 L276.78,181.10 L277.53,180.63 L278.26,180.27 L278.98,180.72 L279.71,180.19 L280.45,179.99 L281.21,178.88 L282.00,179.18 L282.74,178.51 L283.48,178.34 L284.23,178.15 L284.98,177.20 L285.75,177.14 L286.52,176.95 L287.30,176.89 L288.09,176.25 L288.88,175.78 L289.69,175.79 L290.50,175.58 L291.33,175.16 L292.17,175.28 L293.04,174.97 L293.91,174.69 L294.78,174.94 L295.67,174.74 L296.55,175.12 L297.43,175.15 L298.30,175.50 L299.16,175.41 L300.00,175.42 L300.83,175.65 L301.67,175.00 L302.49,175.10 L303.31,174.99 L304.13,174.89 L304.94,175.29 L305.75,175.32 L306.55,175.03 L307.34,175.81 L308.12,175.94 L308.90,175.21 L309.74,175.27 L310.57,175.45 L311.39,176.20 L312.20,176.46 L313.01,175.93 L313.81,176.07 L314.60,176.76 L315.40,176.80 L316.20,176.78 L317.00,177.06 L317.76,177.55 L318.57,177.90 L319.41,178.39 L320.25,179.05 L321.09,179.22 L321.91,179.65 L322.68,180.06 L323.40,181.07 L324.03,180.84 L324.57,181.42 L325.00,181.56" fill="none" stroke="#ff0000" stroke-width="2.3" stroke-linejoin="round" stroke-linecap="round" clip-path="url(#a2)"/>
<path d="M352.70,77.55 L352.89,77.16 L353.12,76.21 L353.39,75.66 L353.70,75.28 L354.03,74.54 L354.39,73.16 L354.77,72.22 L355.17,72.00 L355.58,70.42 L356.00,70.27 L356.39,69.66 L356.81,68.31 L357.24,68.24 L357.69,66.93 L358.15,66.15 L358.63,65.69 L359.11,65.08 L359.60,64.66 L360.10,63.90 L360.60,63.63 L361.10,62.95 L361.71,61.81 L362.33,61.26 L362.96,61.15 L363.60,60.02 L364.25,60.24 L364.91,59.61 L365.59,58.61 L366.29,58.22 L367.00,57.78 L367.74,57.54 L368.52,57.02 L369.32,56.49 L370.14,56.38 L370.96,56.05 L371.78,55.95 L372.58,55.84 L373.36,56.06 L374.10,55.74 L375.00,55.61 L375.84,55.81 L376.65,55.42 L377.45,55.56 L378.26,55.54 L379.10,56.26 L380.00,56.54 L380.74,56.79 L381.52,56.77 L382.32,56.61 L383.14,56.89 L383.96,57.88 L384.78,58.32 L385.58,58.37 L386.36,59.10 L387.10,59.49 L387.90,59.76 L388.68,59.87 L389.43,60.42 L390.17,60.82 L390.89,61.36 L391.60,61.93 L392.30,62.04 L393.00,62.66 L393.69,63.24 L394.36,64.17 L395.02,65.02 L395.67,65.47 L396.31,65.54 L396.94,66.39 L397.57,67.10 L398.20,67.17 L398.91,67.69 L399.61,68.72 L400.30,68.91 L400.98,69.79 L401.66,69.84 L402.33,70.91 L403.00,70.83 L403.76,71.37 L404.49,71.88 L405.21,72.54 L405.94,72.87 L406.70,73.08 L407.50,73.17 L408.35,72.79 L409.24,73.01 L410.16,73.40 L411.09,73.86 L412.04,73.66 L413.00,73.22 L413.82,73.38 L414.65,73.88 L415.48,73.40 L416.33,73.68 L417.20,73.66 L418.09,73.67 L419.00,73.71 L419.73,73.98 L420.48,73.99 L421.24,74.14 L422.02,75.28 L422.80,74.88 L423.59,75.53 L424.39,76.28 L425.19,77.02 L426.00,76.74 L426.73,77.12 L427.48,78.00 L428.24,77.87 L429.01,78.28 L429.78,78.59 L430.55,78.65 L431.31,79.81 L432.06,79.94 L432.79,79.69 L433.50,80.14 L434.27,80.59 L435.01,81.23 L435.74,82.14 L436.46,81.90 L437.17,82.43 L437.87,82.96 L438.57,83.59 L439.28,84.40 L440.00,84.54 L440.71,85.33 L441.41,85.48 L442.09,85.85 L442.78,86.73 L443.47,86.95 L444.19,87.34 L444.92,87.86 L445.69,88.20 L446.50,88.74 L447.20,88.80 L447.94,89.30 L448.71,90.19 L449.50,90.00 L450.30,90.45 L451.11,90.79 L451.92,91.35 L452.72,91.45 L453.51,92.11 L454.27,92.72 L455.00,93.16 L455.81,93.77 L456.64,93.54 L457.48,94.52 L458.32,94.61 L459.13,95.22 L459.90,95.89 L460.61,96.55 L461.24,96.78 L461.78,97.39 L462.20,96.77" fill="none" stroke="#ff00ff" stroke-width="1.85" stroke-linejoin="round" stroke-linecap="round" clip-path="url(#a3)"/>
<path d="M446.5,87 V97.5 M449.5,89 V96 M444,87 V93" stroke="#ff00ff" stroke-width="1"/>
<path d="M352.70,94.23 L352.87,93.93 L353.07,92.95 L353.31,92.29 L353.58,91.80 L353.88,91.15 L354.19,89.90 L354.53,88.95 L354.88,88.28 L355.25,87.80 L355.62,86.82 L356.00,86.45 L356.39,85.37 L356.81,84.91 L357.24,83.90 L357.69,83.10 L358.15,82.33 L358.63,81.33 L359.11,80.65 L359.60,80.53 L360.10,80.08 L360.60,78.73 L361.10,78.31 L361.71,77.79 L362.33,77.17 L362.96,77.05 L363.60,75.98 L364.25,75.52 L364.91,75.20 L365.59,75.18 L366.29,74.18 L367.00,74.12 L367.74,73.26 L368.52,73.32 L369.32,73.51 L370.14,72.66 L370.96,72.60 L371.78,72.72 L372.58,72.52 L373.36,72.44 L374.10,72.40 L375.00,72.41 L375.84,72.08 L376.65,72.14 L377.45,72.27 L378.26,72.53 L379.10,72.78 L380.00,73.34 L380.66,73.15 L381.33,73.48 L382.02,74.14 L382.72,74.61 L383.43,74.33 L384.14,75.17 L384.87,75.15 L385.61,76.03 L386.35,75.84 L387.10,76.71 L387.79,77.18 L388.50,77.74 L389.22,78.39 L389.95,78.75 L390.69,79.02 L391.42,79.46 L392.16,79.52 L392.89,80.52 L393.61,81.03 L394.31,81.71 L395.00,81.70 L395.67,82.60 L396.34,82.67 L397.00,83.84 L397.65,84.51 L398.30,84.74 L398.94,85.54 L399.57,86.08 L400.19,86.30 L400.80,86.62 L401.40,87.70 L402.00,87.77 L402.79,88.12 L403.55,88.84 L404.28,89.60 L405.01,90.08 L405.73,90.07 L406.46,90.76 L407.21,90.37 L408.00,90.99 L408.72,90.85 L409.43,91.33 L410.15,92.16 L410.88,91.68 L411.63,92.46 L412.40,92.58 L413.20,93.27 L414.03,93.55 L414.90,93.06 L415.58,93.42 L416.30,94.32 L417.03,93.97 L417.79,94.09 L418.56,95.01 L419.34,95.01 L420.13,95.00 L420.92,95.49 L421.71,95.64 L422.49,95.94 L423.25,96.29 L424.00,96.20 L424.81,96.89 L425.61,97.48 L426.41,97.45 L427.21,97.92 L428.01,97.75 L428.80,97.93 L429.58,98.08 L430.35,99.24 L431.12,98.74 L431.87,99.24 L432.60,99.74 L433.48,100.11 L434.34,100.28 L435.19,100.39 L436.02,100.99 L436.84,100.91 L437.64,101.51 L438.44,101.07 L439.22,101.93 L440.00,101.64 L440.84,102.21 L441.64,102.58 L442.42,102.66 L443.18,103.22 L443.96,103.91 L444.76,103.51 L445.60,103.98 L446.50,105.03 L447.20,104.81 L447.94,105.01 L448.71,105.75 L449.50,105.89 L450.30,105.62 L451.11,106.27 L451.92,106.17 L452.72,106.97 L453.51,107.04 L454.27,107.52 L455.00,107.11 L455.90,108.20 L456.83,107.90 L457.76,108.80 L458.68,108.77 L459.57,109.49 L460.38,109.08 L461.11,109.30 L461.72,109.90 L462.20,110.49" fill="none" stroke="#000080" stroke-width="1.85" stroke-linejoin="round" stroke-linecap="round" clip-path="url(#a3)"/>
<path d="M352.70,112.87 L352.87,112.42 L353.07,111.49 L353.31,111.09 L353.58,110.17 L353.88,109.69 L354.19,108.62 L354.53,107.44 L354.88,106.20 L355.25,105.29 L355.62,105.19 L356.00,104.10 L356.43,102.98 L356.89,102.76 L357.37,101.50 L357.87,101.01 L358.39,100.71 L358.92,99.35 L359.45,98.70 L360.00,98.02 L360.55,97.49 L361.10,97.09 L361.71,96.37 L362.33,95.67 L362.96,94.77 L363.60,94.56 L364.25,93.92 L364.91,93.62 L365.59,92.70 L366.29,92.48 L367.00,91.83 L367.74,91.88 L368.52,91.08 L369.32,91.12 L370.14,90.89 L370.96,90.76 L371.78,90.71 L372.58,90.63 L373.36,90.37 L374.10,90.79 L375.00,90.89 L375.84,90.55 L376.65,90.68 L377.45,90.88 L378.26,90.71 L379.10,91.22 L380.00,91.47 L380.66,91.79 L381.33,92.06 L382.02,92.57 L382.72,92.71 L383.43,93.19 L384.14,93.65 L384.87,94.53 L385.61,94.77 L386.35,95.84 L387.10,96.56 L387.68,96.92 L388.28,97.04 L388.89,98.13 L389.50,98.13 L390.12,98.71 L390.74,99.51 L391.37,100.17 L391.99,100.56 L392.61,101.54 L393.22,102.25 L393.83,102.41 L394.42,103.05 L395.00,103.91 L395.46,104.78 L395.92,105.38 L396.38,105.58 L396.84,106.45 L397.29,107.60 L397.73,108.36 L398.18,108.75 L398.62,109.63 L399.06,110.40 L399.49,110.56 L399.92,111.13 L400.34,112.31 L400.76,112.79 L401.18,113.74 L401.59,114.01 L402.00,114.74 L402.53,115.85 L403.05,115.95 L403.55,116.94 L404.04,117.40 L404.53,118.42 L405.01,119.25 L405.49,120.13 L405.97,120.57 L406.46,120.67 L406.96,121.59 L407.47,122.35 L408.00,123.12 L408.50,123.84 L409.01,124.76 L409.53,125.42 L410.05,125.46 L410.58,126.12 L411.11,127.56 L411.65,127.52 L412.19,128.93 L412.73,128.83 L413.28,129.88 L413.82,130.08 L414.36,130.65 L414.90,131.35 L415.59,132.39 L416.27,132.88 L416.94,133.06 L417.61,133.38 L418.28,134.03 L418.97,134.28 L419.68,134.72 L420.42,135.32 L421.19,135.66 L422.00,136.38 L422.72,135.89 L423.49,136.54 L424.30,136.79 L425.13,136.62 L425.98,137.01 L426.84,136.99 L427.70,137.82 L428.54,137.47 L429.37,137.34 L430.16,137.82 L430.90,137.95 L431.60,138.35 L432.55,138.27 L433.42,137.83 L434.23,138.44 L434.99,137.57 L435.73,138.11 L436.46,137.40 L437.21,137.95 L438.00,137.22 L438.79,137.58 L439.56,137.39 L440.32,137.12 L441.09,136.26 L441.89,136.23 L442.73,135.63 L443.63,135.81 L444.60,135.64 L445.25,134.92 L445.94,134.70 L446.66,134.33 L447.42,133.46 L448.19,133.24 L448.97,132.79 L449.77,132.72 L450.56,131.99 L451.35,131.56 L452.12,131.36 L452.88,130.72 L453.60,130.32 L454.30,130.26 L455.30,129.86 L456.33,130.34 L457.36,130.11 L458.37,130.28 L459.33,130.30 L460.22,129.92 L461.01,130.69 L461.68,130.76 L462.20,130.06" fill="none" stroke="#808000" stroke-width="1.85" stroke-linejoin="round" stroke-linecap="round" clip-path="url(#a3)"/>
<path d="M352.70,131.44 L352.87,131.30 L353.07,130.38 L353.31,130.09 L353.58,129.16 L353.88,128.29 L354.19,127.63 L354.53,126.61 L354.88,125.54 L355.25,124.18 L355.62,123.72 L356.00,123.17 L356.39,122.30 L356.81,121.64 L357.24,120.72 L357.69,120.45 L358.15,119.23 L358.63,118.90 L359.11,118.06 L359.60,117.15 L360.10,116.42 L360.60,115.93 L361.10,115.51 L361.72,115.02 L362.35,114.00 L363.00,113.44 L363.65,113.53 L364.31,113.17 L364.98,112.18 L365.65,111.76 L366.33,111.46 L367.00,110.64 L367.76,110.66 L368.51,110.45 L369.28,110.41 L370.04,109.90 L370.82,109.63 L371.60,109.39 L372.39,109.77 L373.20,109.42 L374.02,109.43 L374.86,109.76 L375.71,109.65 L376.56,109.52 L377.42,110.27 L378.29,110.87 L379.15,110.86 L380.00,111.14 L380.57,111.55 L381.13,112.72 L381.69,112.50 L382.25,113.52 L382.81,113.57 L383.38,114.55 L383.94,115.53 L384.50,115.56 L385.07,116.29 L385.64,117.23 L386.22,117.88 L386.80,118.55 L387.30,119.00 L387.79,119.28 L388.29,120.39 L388.78,120.73 L389.27,121.67 L389.77,122.16 L390.27,122.67 L390.77,124.00 L391.29,124.09 L391.81,125.38 L392.34,125.67 L392.88,126.47 L393.43,127.00 L394.00,127.71 L394.43,128.80 L394.87,129.21 L395.33,130.00 L395.79,130.34 L396.27,131.35 L396.75,132.21 L397.23,133.04 L397.72,133.71 L398.21,134.23 L398.70,135.23 L399.19,135.89 L399.68,136.52 L400.16,137.37 L400.64,137.78 L401.11,138.24 L401.58,138.96 L402.03,140.31 L402.47,140.82 L402.90,141.29 L403.55,141.55 L404.17,142.77 L404.76,143.35 L405.33,143.70 L405.89,144.02 L406.44,144.33 L407.00,145.60 L407.56,146.06 L408.13,146.38 L408.73,146.47 L409.35,147.20 L410.00,147.87 L410.63,148.03 L411.28,148.15 L411.95,149.42 L412.63,149.53 L413.32,150.25 L414.03,150.61 L414.74,150.60 L415.45,151.44 L416.17,151.49 L416.88,152.15 L417.60,153.19 L418.30,153.33 L419.00,153.56 L419.82,153.52 L420.63,154.36 L421.44,154.58 L422.26,154.87 L423.07,155.16 L423.88,155.58 L424.70,155.34 L425.52,155.66 L426.34,155.74 L427.17,155.94 L428.00,156.16 L428.82,155.85 L429.63,155.83 L430.42,155.97 L431.21,155.98 L432.00,156.49 L432.81,156.30 L433.65,156.76 L434.52,156.21 L435.42,156.21 L436.38,156.84 L437.40,156.13 L438.10,156.36 L438.83,156.65 L439.59,156.53 L440.38,156.25 L441.19,156.12 L442.02,156.50 L442.86,156.19 L443.72,156.71 L444.57,156.14 L445.43,156.69 L446.28,155.82 L447.13,156.28 L447.96,155.90 L448.78,155.98 L449.58,155.83 L450.35,156.03 L451.10,155.32 L451.94,155.63 L452.80,154.72 L453.66,154.97 L454.54,154.81 L455.40,154.11 L456.26,154.12 L457.10,153.30 L457.91,152.93 L458.68,153.06 L459.42,152.77 L460.10,152.25 L460.73,151.44 L461.30,151.81 L461.79,151.06 L462.20,151.33" fill="none" stroke="#800080" stroke-width="1.85" stroke-linejoin="round" stroke-linecap="round" clip-path="url(#a3)"/>
<path d="M352.70,172.74 L352.74,172.18 L352.78,171.65 L352.82,171.39 L352.87,170.92 L352.92,169.71 L352.98,168.48 L353.04,168.10 L353.10,167.36 L353.17,166.30 L353.24,164.62 L353.32,163.92 L353.40,163.37 L353.49,162.34 L353.58,161.68 L353.68,160.70 L353.78,159.77 L353.89,158.89 L354.00,157.89 L354.18,156.59 L354.37,156.32 L354.56,155.16 L354.77,154.69 L354.98,153.23 L355.21,153.11 L355.45,152.17 L355.71,151.67 L355.98,150.79 L356.27,149.85 L356.58,149.22 L356.90,148.14 L357.27,147.49 L357.67,147.02 L358.08,145.89 L358.51,145.30 L358.96,144.81 L359.43,144.06 L359.91,143.64 L360.41,142.59 L360.93,142.09 L361.46,141.42 L362.00,141.23 L362.70,140.58 L363.45,140.39 L364.23,139.26 L365.04,138.89 L365.85,138.75 L366.67,138.80 L367.48,138.64 L368.26,138.11 L369.00,138.09 L369.90,138.36 L370.75,138.13 L371.58,138.80 L372.40,138.40 L373.23,139.34 L374.09,139.19 L375.00,140.19 L375.61,140.62 L376.24,141.18 L376.89,141.60 L377.55,141.30 L378.21,142.40 L378.89,143.17 L379.56,143.62 L380.23,143.93 L380.90,144.80 L381.56,144.99 L382.20,146.07 L382.78,146.29 L383.35,147.40 L383.92,147.17 L384.49,148.31 L385.05,148.55 L385.61,149.78 L386.17,150.63 L386.73,150.87 L387.30,151.85 L387.86,151.97 L388.43,152.43 L389.00,153.77 L389.58,154.06 L390.17,154.43 L390.76,155.63 L391.36,156.51 L391.95,156.45 L392.55,157.59 L393.14,158.01 L393.73,158.37 L394.32,159.01 L394.89,159.56 L395.45,160.33 L396.00,160.83 L396.79,161.69 L397.53,162.34 L398.24,163.06 L398.95,163.52 L399.66,163.32 L400.40,164.13 L401.17,164.74 L402.00,164.57 L402.70,165.21 L403.41,165.85 L404.13,165.81 L404.88,166.14 L405.64,166.04 L406.42,166.91 L407.23,167.02 L408.06,166.81 L408.91,167.05 L409.80,167.05 L410.49,167.70 L411.16,168.26 L411.84,168.40 L412.53,168.04 L413.22,168.35 L413.93,168.49 L414.67,168.80 L415.44,168.97 L416.25,169.15 L417.11,169.71 L418.01,170.25 L418.97,170.41 L420.00,170.41 L420.68,170.26 L421.40,170.93 L422.15,170.43 L422.94,170.41 L423.75,170.71 L424.59,171.36 L425.44,171.42 L426.32,171.20 L427.21,171.25 L428.10,171.76 L429.00,171.78 L429.90,172.17 L430.80,171.98 L431.69,171.78 L432.57,171.89 L433.43,172.15 L434.28,172.52 L435.10,172.80 L435.90,172.76 L436.67,172.37 L437.40,173.31 L438.38,172.98 L439.32,173.16 L440.23,172.94 L441.11,173.07 L441.97,173.12 L442.80,173.54 L443.62,173.87 L444.43,173.35 L445.22,173.49 L446.01,173.49 L446.79,173.31 L447.58,173.36 L448.38,174.11 L449.18,174.36 L450.00,173.59 L450.85,173.70 L451.74,174.12 L452.66,174.08 L453.60,174.12 L454.55,174.77 L455.49,174.25 L456.43,174.35 L457.34,175.08 L458.22,174.91 L459.05,175.05 L459.83,175.11 L460.55,174.61 L461.19,175.53 L461.74,174.73 L462.20,174.95" fill="none" stroke="#008080" stroke-width="1.85" stroke-linejoin="round" stroke-linecap="round" clip-path="url(#a3)"/>
<path d="M353.50,160.00 C353.83,158.17 354.58,152.17 355.50,149.00 C356.42,145.83 357.58,143.08 359.00,141.00 C360.42,138.92 362.33,137.47 364.00,136.50 C365.67,135.53 367.17,135.15 369.00,135.20 C370.83,135.25 372.80,135.58 375.00,136.80 C377.20,138.02 379.87,140.30 382.20,142.50 C384.53,144.70 386.70,147.33 389.00,150.00 C391.30,152.67 393.83,156.33 396.00,158.50 C398.17,160.67 399.70,161.67 402.00,163.00 C404.30,164.33 406.80,165.37 409.80,166.50 C412.80,167.63 416.63,168.97 420.00,169.80 C423.37,170.63 428.33,171.22 430.00,171.50" fill="none" stroke="#008080" stroke-width="0.9" stroke-linejoin="round" stroke-linecap="round" clip-path="url(#a3)"/>
<path d="M353.50,226.88 L353.53,226.76 L353.56,226.36 L353.60,224.95 L353.64,224.44 L353.69,223.66 L353.73,223.05 L353.78,222.98 L353.83,221.43 L353.89,221.00 L353.95,219.82 L354.00,218.76 L354.06,218.09 L354.13,217.14 L354.19,216.45 L354.25,215.80 L354.32,214.53 L354.38,213.58 L354.44,212.40 L354.51,211.37 L354.57,210.71 L354.64,209.73 L354.70,209.30 L354.76,207.82 L354.83,206.82 L354.89,206.06 L354.94,205.54 L355.00,204.75 L355.08,203.89 L355.16,203.34 L355.24,202.24 L355.32,201.17 L355.40,200.47 L355.48,199.61 L355.56,198.00 L355.64,197.70 L355.72,196.36 L355.80,195.80 L355.88,194.98 L355.96,194.09 L356.05,193.13 L356.13,192.52 L356.22,192.26 L356.31,191.78 L356.40,191.04 L356.50,189.57 L356.66,189.01 L356.83,187.67 L357.00,187.04 L357.17,186.17 L357.35,185.00 L357.53,184.15 L357.71,183.74 L357.90,182.64 L358.10,182.65 L358.30,182.01 L358.50,180.56 L358.83,180.28 L359.16,179.41 L359.51,177.87 L359.87,177.60 L360.23,176.79 L360.61,175.85 L361.00,175.79 L361.58,174.72 L362.19,174.17 L362.81,173.61 L363.42,173.07 L364.00,172.35 L364.65,172.04 L365.24,171.12 L366.50,171.45 L367.10,171.65 L367.79,171.79 L368.56,171.79 L369.40,172.34 L370.28,172.31 L371.20,172.74 L372.15,172.61 L373.11,173.31 L374.06,173.06 L375.00,173.94 L375.73,173.83 L376.50,173.96 L377.29,174.52 L378.10,174.42 L378.92,175.32 L379.74,175.64 L380.57,176.22 L381.38,175.95 L382.17,176.64 L382.93,177.16 L383.67,177.02 L384.36,177.97 L385.00,178.36 L386.04,178.54 L386.92,179.01 L387.69,179.47 L388.43,179.29 L389.18,179.57 L390.02,180.13 L391.00,180.16 L391.70,179.94 L392.44,180.36 L393.22,180.65 L394.02,180.84 L394.84,180.32 L395.69,180.46 L396.54,181.03 L397.41,181.15 L398.27,181.25 L399.14,181.12 L400.00,181.10 L400.79,181.67 L401.58,181.07 L402.38,181.12 L403.19,180.90 L404.01,180.96 L404.83,181.46 L405.65,181.50 L406.47,181.11 L407.30,181.59 L408.13,181.11 L408.97,181.33 L409.80,181.62 L410.61,181.82 L411.39,181.60 L412.15,182.00 L412.90,181.78 L413.66,182.05 L414.43,182.30 L415.22,182.16 L416.05,182.28 L416.93,182.74 L417.88,182.07 L418.90,182.21 L420.00,182.38 L420.65,182.72 L421.33,183.03 L422.05,183.21 L422.79,183.38 L423.56,182.90 L424.36,183.79 L425.17,183.34 L426.00,184.13 L426.84,183.70 L427.69,184.28 L428.55,184.30 L429.41,183.81 L430.27,184.39 L431.12,184.42 L431.97,185.09 L432.81,184.54 L433.63,184.81 L434.43,184.74 L435.21,184.71 L435.97,185.31 L436.70,185.50 L437.40,185.20 L438.38,185.96 L439.32,185.55 L440.23,186.33 L441.11,186.22 L441.97,186.62 L442.80,186.27 L443.62,186.75 L444.43,186.66 L445.22,186.88 L446.01,186.73 L446.79,186.95 L447.58,186.87 L448.38,187.06 L449.18,187.73 L450.00,187.12 L450.85,187.96 L451.74,188.06 L452.66,187.72 L453.60,188.16 L454.55,188.72 L455.49,188.63 L456.43,188.83 L457.34,189.03 L458.22,188.92 L459.05,189.85 L459.83,189.80 L460.55,189.54 L461.19,189.74 L461.74,190.19 L462.20,190.43" fill="none" stroke="#0000ff" stroke-width="1.85" stroke-linejoin="round" stroke-linecap="round" clip-path="url(#a3)"/>
<path d="M355.50,190.00 C355.83,188.00 356.75,181.17 357.50,178.00 C358.25,174.83 359.08,172.67 360.00,171.00 C360.92,169.33 362.00,168.60 363.00,168.00 C364.00,167.40 364.50,167.23 366.00,167.40 C367.50,167.57 369.83,167.98 372.00,169.00 C374.17,170.02 376.67,172.03 379.00,173.50 C381.33,174.97 383.83,176.72 386.00,177.80 C388.17,178.88 391.00,179.63 392.00,180.00" fill="none" stroke="#0000ff" stroke-width="0.9" stroke-linejoin="round" stroke-linecap="round" clip-path="url(#a3)"/>
<path d="M352.70,236.15 L352.81,235.43 L352.93,234.92 L353.07,234.42 L353.23,233.97 L353.40,232.99 L353.59,231.68 L353.79,230.56 L354.01,230.17 L354.24,228.82 L354.48,228.36 L354.73,226.70 L355.00,226.45 L355.19,225.58 L355.39,224.36 L355.61,223.39 L355.83,223.32 L356.07,221.88 L356.31,221.09 L356.56,220.46 L356.81,219.42 L357.07,218.50 L357.33,218.07 L357.58,217.33 L357.83,216.62 L358.08,215.16 L358.32,214.38 L358.56,214.01 L358.78,213.53 L359.00,212.37 L359.20,212.09 L359.53,210.59 L359.83,210.31 L360.10,209.38 L360.36,208.58 L360.61,207.29 L360.85,206.26 L361.11,206.22 L361.38,205.21 L361.67,204.48 L362.00,203.93 L362.50,203.36 L363.02,202.62 L363.57,201.68 L364.15,200.93 L364.76,200.31 L365.41,199.77 L366.10,200.22 L366.85,199.95 L367.66,198.98 L368.52,199.38 L369.40,199.71 L370.28,199.37 L371.16,199.74 L372.00,198.98 L372.79,199.48 L373.54,199.59 L374.27,198.94 L375.02,199.04 L375.80,199.72 L376.66,199.08 L377.60,199.40 L378.32,199.64 L379.08,199.43 L379.86,199.45 L380.68,198.98 L381.53,199.43 L382.39,198.73 L383.27,198.91 L384.17,198.93 L385.08,199.06 L386.00,198.38 L386.79,198.36 L387.61,198.59 L388.46,198.36 L389.33,199.01 L390.21,198.56 L391.09,198.64 L391.97,198.44 L392.84,198.75 L393.68,198.70 L394.49,198.55 L395.27,197.64 L396.00,197.90 L396.82,197.72 L397.61,197.43 L398.35,196.64 L399.07,196.04 L399.76,195.24 L400.42,194.54 L401.06,194.02 L401.68,193.75 L402.30,193.69 L402.90,193.01 L403.87,192.60 L404.77,191.89 L405.62,192.13 L406.44,191.74 L407.23,190.85 L408.00,190.70 L408.77,190.15 L409.36,190.17 L409.98,189.85 L410.82,190.23 L412.10,189.93 L412.70,190.34 L413.38,189.84 L414.13,190.58 L414.94,190.65 L415.79,190.50 L416.67,191.10 L417.58,191.37 L418.50,191.60 L419.42,191.61 L420.32,191.58 L421.21,191.91 L422.06,192.27 L422.86,192.05 L423.60,192.75 L424.56,192.90 L425.45,193.07 L426.30,193.37 L427.11,192.99 L427.89,193.93 L428.67,193.85 L429.46,194.33 L430.27,194.57 L431.11,194.65 L432.00,195.21 L432.72,195.55 L433.45,195.91 L434.20,195.28 L434.96,196.34 L435.73,196.48 L436.51,196.57 L437.29,196.98 L438.08,196.87 L438.87,197.18 L439.66,197.10 L440.45,198.14 L441.23,198.26 L442.00,198.21 L442.83,198.52 L443.66,198.92 L444.50,198.53 L445.33,199.08 L446.16,199.40 L446.99,199.46 L447.82,199.99 L448.65,199.52 L449.49,200.08 L450.32,200.36 L451.16,200.20 L452.00,200.90 L452.81,200.62 L453.66,200.60 L454.55,200.85 L455.46,201.29 L456.37,202.07 L457.28,202.25 L458.16,202.47 L459.01,202.49 L459.81,202.56 L460.54,202.88 L461.19,203.02 L461.75,203.49 L462.20,203.10" fill="none" stroke="#ff0000" stroke-width="1.85" stroke-linejoin="round" stroke-linecap="round" clip-path="url(#a3)"/>
<path d="M355.00,224.00 C355.58,221.67 357.42,213.83 358.50,210.00 C359.58,206.17 360.42,203.17 361.50,201.00 C362.58,198.83 363.58,197.75 365.00,197.00 C366.42,196.25 368.33,196.33 370.00,196.50 C371.67,196.67 373.33,197.67 375.00,198.00 C376.67,198.33 379.17,198.42 380.00,198.50" fill="none" stroke="#ff0000" stroke-width="0.9" stroke-linejoin="round" stroke-linecap="round" clip-path="url(#a3)"/>
<path d="M354.50,245.90 L354.71,245.73 L354.98,245.18 L355.29,244.39 L355.65,243.06 L356.03,242.60 L356.43,241.35 L356.84,240.43 L357.24,239.49 L357.63,238.38 L358.00,237.66 L358.35,237.37 L358.68,236.68 L359.02,235.27 L359.35,235.23 L359.69,234.01 L360.03,233.52 L360.38,232.09 L360.74,231.37 L361.11,231.30 L361.50,229.94 L361.96,229.12 L362.43,228.92 L362.92,227.64 L363.42,227.26 L363.93,226.92 L364.45,225.61 L364.97,225.60 L365.49,225.01 L366.00,224.43 L366.58,223.39 L367.17,222.85 L367.77,221.55 L368.36,221.24 L368.96,220.86 L369.55,220.25 L370.13,219.08 L370.70,219.20 L371.58,218.22 L372.42,217.91 L373.26,217.85 L374.11,217.46 L375.00,216.84 L375.77,217.04 L376.54,216.84 L377.34,216.48 L378.16,215.54 L379.01,215.24 L379.90,215.47 L380.70,214.78 L381.54,214.50 L382.41,214.92 L383.29,213.89 L384.19,213.83 L385.10,213.58 L386.00,213.89 L386.80,213.71 L387.62,213.41 L388.45,212.98 L389.29,212.54 L390.12,213.15 L390.94,212.29 L391.73,212.43 L392.50,212.25 L393.24,211.64 L393.96,211.58 L394.66,211.18 L395.35,210.19 L396.03,209.97 L396.69,208.86 L397.35,208.57 L398.00,208.15 L398.52,207.24 L399.02,206.71 L399.52,206.38 L400.02,205.19 L400.51,205.12 L400.99,203.71 L401.47,203.10 L401.95,202.80 L402.42,201.87 L402.90,201.91 L403.65,200.72 L404.35,199.83 L405.04,199.73 L405.76,199.05 L406.57,198.89 L407.50,198.25 L408.20,198.19 L408.95,198.50 L409.74,198.87 L410.57,198.82 L411.43,199.10 L412.31,199.96 L413.20,199.72 L414.10,200.11 L415.00,200.83 L415.74,201.14 L416.50,201.13 L417.27,200.75 L418.05,201.51 L418.85,201.10 L419.64,201.94 L420.44,201.68 L421.24,201.84 L422.03,202.26 L422.82,202.23 L423.60,202.95 L424.37,203.35 L425.12,203.47 L425.86,203.86 L426.60,203.57 L427.34,203.96 L428.08,204.76 L428.84,204.61 L429.60,205.29 L430.38,205.44 L431.18,205.37 L432.00,205.75 L432.72,206.65 L433.45,206.91 L434.20,206.92 L434.96,206.70 L435.73,206.99 L436.51,208.12 L437.29,208.29 L438.08,208.50 L438.87,208.40 L439.66,209.27 L440.45,208.79 L441.23,209.61 L442.00,209.87 L442.83,209.85 L443.66,210.50 L444.50,210.18 L445.33,211.11 L446.16,211.32 L446.99,211.01 L447.82,211.22 L448.65,211.86 L449.49,211.67 L450.32,212.12 L451.16,212.44 L452.00,212.90 L452.81,212.96 L453.66,212.77 L454.55,213.09 L455.46,213.10 L456.37,214.01 L457.28,214.31 L458.16,214.00 L459.01,214.47 L459.81,214.58 L460.54,214.73 L461.19,214.69 L461.75,215.36 L462.20,215.81" fill="none" stroke="#000000" stroke-width="1.85" stroke-linejoin="round" stroke-linecap="round" clip-path="url(#a3)"/>
<path d="M357.00,238.00 C357.50,236.50 358.92,231.67 360.00,229.00 C361.08,226.33 362.33,223.92 363.50,222.00 C364.67,220.08 365.58,218.67 367.00,217.50 C368.42,216.33 370.17,215.50 372.00,215.00 C373.83,214.50 376.33,214.67 378.00,214.50 C379.67,214.33 381.33,214.08 382.00,214.00" fill="none" stroke="#000000" stroke-width="0.9" stroke-linejoin="round" stroke-linecap="round" clip-path="url(#a3)"/>
<path d="M528.00,93.41 L528.16,93.97 L528.36,93.36 L528.59,92.17 L528.86,91.89 L529.14,90.20 L529.45,89.61 L529.76,87.65 L530.08,86.85 L530.40,86.73 L530.70,86.35 L531.00,84.95 L531.40,84.88 L531.79,83.25 L532.20,82.32 L532.61,82.25 L533.02,81.80 L533.44,81.10 L533.87,80.02 L534.30,78.59 L534.87,77.95 L535.43,77.64 L536.01,76.00 L536.61,75.81 L537.27,76.08 L538.00,74.55 L538.67,74.83 L539.36,73.82 L540.08,73.16 L540.85,73.20 L541.68,72.87 L542.59,72.50 L543.60,72.26 L544.31,73.15 L545.09,72.32 L545.93,71.97 L546.81,71.33 L547.71,71.17 L548.62,71.89 L549.52,70.87 L550.41,70.39 L551.26,70.70 L552.06,71.14 L552.80,71.59 L553.71,71.44 L554.55,70.94 L555.32,70.53 L556.05,72.05 L556.76,70.79 L557.48,72.06 L558.22,73.05 L559.00,72.17 L559.74,72.82 L560.50,72.73 L561.28,73.26 L562.07,73.05 L562.85,74.31 L563.63,74.81 L564.38,74.12 L565.11,74.23 L565.80,74.93 L566.62,75.49 L567.38,75.97 L568.10,76.79 L568.80,76.74 L569.50,76.15 L570.23,76.39 L571.00,77.40 L571.82,77.15 L572.69,78.56 L573.57,78.70 L574.46,79.02 L575.34,78.84 L576.19,78.19 L577.00,79.23 L577.90,78.16 L578.77,77.64 L579.61,77.03 L580.43,77.21 L581.22,77.77 L582.00,76.83 L582.75,76.34 L583.47,75.36 L584.17,74.96 L584.86,75.31 L585.53,74.97 L586.20,73.30 L586.97,73.21 L587.71,72.49 L588.44,71.46 L589.20,71.50 L590.00,70.26 L590.73,71.12 L591.52,69.99 L592.33,70.03 L593.13,69.89 L593.89,68.61 L594.60,69.71 L595.50,69.68 L596.28,68.85 L597.07,68.34 L598.00,69.75 L598.63,70.14 L599.31,69.72 L600.04,71.19 L600.78,70.80 L601.51,71.26 L602.23,71.43 L602.90,72.81 L603.76,73.57 L604.56,73.92 L605.35,73.67 L606.15,74.12 L607.00,74.20 L607.65,74.83 L608.34,75.40 L609.04,75.76 L609.75,75.92 L610.45,77.04 L611.14,76.82 L611.80,78.21 L612.42,77.81 L613.01,79.01 L613.57,79.02 L614.14,79.68 L614.72,81.20 L615.34,80.65 L616.00,82.50 L616.60,82.85 L617.21,83.32 L617.84,83.67 L618.48,84.57 L619.16,84.24 L619.88,85.15 L620.66,85.04 L621.50,85.61 L622.10,86.74 L622.74,87.50 L623.41,88.52 L624.11,88.70 L624.83,87.68 L625.56,89.65 L626.31,89.12 L627.06,89.57 L627.80,89.54 L628.55,89.86 L629.28,90.95 L630.00,91.58 L630.68,92.59 L631.39,92.75 L632.14,92.42 L632.89,93.69 L633.66,94.66 L634.41,94.18 L635.15,94.81 L635.85,95.28 L636.51,97.06 L637.12,96.03 L637.66,97.31 L638.12,97.17 L638.50,98.10" fill="none" stroke="#ff00ff" stroke-width="1.9" stroke-linejoin="round" stroke-linecap="round" clip-path="url(#a4)"/>
<path d="M528.00,108.80 L528.18,107.82 L528.40,108.35 L528.67,107.02 L528.97,105.26 L529.29,104.72 L529.63,103.71 L529.98,103.07 L530.33,101.91 L530.67,101.97 L531.00,101.20 L531.43,99.91 L531.85,98.85 L532.27,98.76 L532.70,97.57 L533.17,97.59 L533.70,97.10 L534.30,96.20 L534.86,96.04 L535.43,94.35 L536.03,94.83 L536.67,93.54 L537.37,93.88 L538.15,93.01 L539.02,92.00 L540.00,91.60 L540.68,92.42 L541.44,91.52 L542.26,90.71 L543.12,91.27 L544.03,90.28 L544.95,89.94 L545.89,90.13 L546.82,90.89 L547.74,89.73 L548.63,90.79 L549.47,89.20 L550.27,89.66 L551.00,89.01 L552.06,90.22 L553.01,90.14 L553.88,90.55 L554.70,90.76 L555.49,91.11 L556.29,90.45 L557.11,90.56 L558.00,91.20 L558.76,91.14 L559.55,90.79 L560.36,91.41 L561.19,91.54 L562.01,92.64 L562.83,91.40 L563.63,92.78 L564.39,92.96 L565.12,93.54 L565.80,93.12 L566.81,93.70 L567.70,92.98 L568.51,94.65 L569.30,93.50 L570.12,94.84 L571.00,94.30 L571.70,94.81 L572.42,95.99 L573.15,95.81 L573.89,96.72 L574.64,96.22 L575.41,96.28 L576.20,96.93 L577.00,97.31 L577.73,97.84 L578.47,97.85 L579.23,96.81 L580.00,97.62 L580.78,96.69 L581.57,95.74 L582.37,96.03 L583.18,96.08 L584.00,95.97 L584.76,94.58 L585.57,95.85 L586.39,94.81 L587.24,93.52 L588.08,93.72 L588.90,94.42 L589.70,92.75 L590.46,92.98 L591.16,93.45 L591.80,92.33 L592.86,93.29 L593.70,93.10 L594.43,92.67 L595.16,93.85 L596.00,92.73 L596.78,93.10 L597.57,94.29 L598.38,94.19 L599.23,93.73 L600.14,94.34 L601.10,95.53 L601.78,94.61 L602.49,94.76 L603.23,95.93 L603.99,95.81 L604.77,97.09 L605.56,96.74 L606.36,97.09 L607.18,98.28 L608.00,99.33 L608.77,98.96 L609.58,100.10 L610.42,100.53 L611.27,100.49 L612.13,100.56 L612.97,100.58 L613.78,100.44 L614.55,101.63 L615.26,101.37 L615.90,102.42 L616.79,102.74 L617.51,103.48 L618.12,104.01 L618.69,104.49 L619.30,105.69 L620.00,105.60 L620.59,105.31 L621.19,107.23 L621.80,107.54 L622.43,107.45 L623.08,108.16 L623.76,108.91 L624.47,109.09 L625.20,110.01 L625.98,110.94 L626.80,109.51 L627.66,111.30 L628.54,111.63 L629.42,111.58 L630.30,111.03 L631.17,111.58 L632.00,111.44 L632.85,111.52 L633.74,111.39 L634.64,111.75 L635.52,112.52 L636.36,112.43 L637.10,112.53 L637.73,113.45 L638.20,113.01" fill="none" stroke="#000080" stroke-width="1.9" stroke-linejoin="round" stroke-linecap="round" clip-path="url(#a4)"/>
<path d="M528.00,124.20 L528.18,122.40 L528.40,122.04 L528.67,121.67 L528.97,120.48 L529.29,120.74 L529.63,119.23 L529.98,117.56 L530.33,116.96 L530.67,117.06 L531.00,115.66 L531.42,114.76 L531.79,113.78 L532.16,112.66 L532.56,113.27 L533.03,111.79 L533.60,110.94 L534.30,109.99 L534.82,110.25 L535.38,110.20 L535.97,110.10 L536.60,109.60 L537.27,107.49 L537.97,107.90 L538.71,107.44 L539.49,107.15 L540.29,106.54 L541.13,107.09 L542.00,106.17 L542.73,105.66 L543.51,106.39 L544.34,105.38 L545.21,104.27 L546.10,105.20 L547.01,105.65 L547.93,104.94 L548.85,103.99 L549.76,105.03 L550.64,103.50 L551.50,104.89 L552.32,103.56 L553.09,104.81 L553.80,103.62 L554.80,103.63 L555.72,103.97 L556.56,104.64 L557.34,105.24 L558.09,105.21 L558.81,104.74 L559.52,106.65 L560.25,106.79 L561.00,106.26 L561.75,105.99 L562.47,107.01 L563.17,108.39 L563.87,108.75 L564.57,107.73 L565.29,108.16 L566.05,109.92 L566.84,109.11 L567.70,110.05 L568.44,110.69 L569.22,110.71 L570.02,110.86 L570.85,110.69 L571.70,111.21 L572.57,110.34 L573.44,111.69 L574.33,110.59 L575.22,110.56 L576.11,111.86 L577.00,112.38 L577.84,112.07 L578.71,111.91 L579.61,111.02 L580.53,111.87 L581.46,111.29 L582.38,112.00 L583.29,111.82 L584.17,111.40 L585.01,112.21 L585.80,112.75 L586.54,112.74 L587.20,111.85 L588.16,113.60 L588.95,113.95 L589.60,113.32 L590.18,114.87 L590.74,113.93 L591.33,114.80 L592.00,116.11 L592.63,115.22 L593.26,116.24 L593.89,116.03 L594.54,116.90 L595.20,117.70 L595.90,119.15 L596.63,119.42 L597.40,119.17 L597.91,120.93 L598.45,121.41 L599.02,121.20 L599.60,121.60 L600.20,123.27 L600.81,124.31 L601.42,123.68 L602.02,124.53 L602.62,125.16 L603.20,126.88 L603.76,125.76 L604.30,126.16 L604.80,126.83 L605.76,127.90 L606.60,129.13 L607.37,127.60 L608.16,129.00 L609.01,128.51 L610.00,129.20 L610.74,129.37 L611.50,128.95 L612.30,128.11 L613.13,129.28 L613.99,127.63 L614.89,129.34 L615.82,128.26 L616.79,127.95 L617.80,128.99 L618.54,128.24 L619.35,127.96 L620.20,127.73 L621.08,127.83 L621.99,127.42 L622.90,127.79 L623.81,127.54 L624.70,127.13 L625.57,126.59 L626.39,126.79 L627.17,127.89 L627.87,127.75 L628.50,128.16 L629.60,126.94 L630.42,128.63 L631.08,128.93 L631.66,128.39 L632.26,129.91 L633.00,130.37 L633.78,130.48 L634.66,130.36 L635.58,131.34 L636.48,130.46 L637.30,130.80 L637.99,131.12 L638.50,132.35" fill="none" stroke="#808000" stroke-width="1.9" stroke-linejoin="round" stroke-linecap="round" clip-path="url(#a4)"/>
<path d="M528.00,143.03 L528.18,141.18 L528.40,140.46 L528.67,141.07 L528.97,140.24 L529.29,138.01 L529.63,136.94 L529.98,136.48 L530.33,135.60 L530.67,134.32 L531.00,133.86 L531.42,134.22 L531.79,132.02 L532.16,131.98 L532.56,131.73 L533.03,131.02 L533.60,129.59 L534.30,128.54 L534.82,128.58 L535.39,127.96 L536.00,127.60 L536.65,126.80 L537.33,126.62 L538.04,127.01 L538.79,124.78 L539.56,124.71 L540.35,125.39 L541.17,124.36 L542.00,124.51 L542.74,122.96 L543.53,124.34 L544.35,122.31 L545.21,123.49 L546.09,122.30 L546.98,122.94 L547.88,122.93 L548.77,122.65 L549.64,122.91 L550.49,121.48 L551.31,122.53 L552.08,122.05 L552.80,121.23 L553.76,121.30 L554.63,121.14 L555.45,122.72 L556.22,121.86 L556.96,122.10 L557.70,121.95 L558.44,123.45 L559.20,123.29 L560.00,122.97 L560.73,124.33 L561.45,124.20 L562.17,125.03 L562.88,125.27 L563.61,125.18 L564.35,125.47 L565.12,126.86 L565.93,126.00 L566.79,126.28 L567.70,128.05 L568.40,128.02 L569.16,128.74 L569.96,128.46 L570.80,129.45 L571.66,128.71 L572.53,128.34 L573.41,129.72 L574.28,129.26 L575.13,129.80 L575.96,130.05 L576.75,130.25 L577.49,130.88 L578.18,131.30 L578.80,130.63 L579.85,132.63 L580.70,132.13 L581.40,133.31 L582.03,133.08 L582.64,133.17 L583.27,134.09 L584.00,134.51 L584.62,135.15 L585.24,136.34 L585.87,136.91 L586.51,136.61 L587.16,138.12 L587.82,138.58 L588.49,138.39 L589.19,139.78 L589.90,139.50 L590.45,141.11 L591.03,140.94 L591.62,142.09 L592.22,143.30 L592.83,143.48 L593.45,143.80 L594.07,144.42 L594.68,144.42 L595.28,145.39 L595.87,145.19 L596.45,146.50 L597.00,147.84 L597.71,147.61 L598.39,148.61 L599.06,149.44 L599.71,149.35 L600.35,149.05 L600.99,151.07 L601.62,150.65 L602.26,150.94 L602.90,150.71 L603.62,152.39 L604.32,153.10 L605.02,153.01 L605.71,152.83 L606.42,154.18 L607.15,153.59 L607.90,154.15 L608.70,154.13 L609.44,154.71 L610.20,154.92 L610.99,154.68 L611.79,153.83 L612.61,153.79 L613.44,153.57 L614.29,153.89 L615.14,154.51 L616.00,153.78 L616.82,153.99 L617.71,152.42 L618.65,152.10 L619.61,152.82 L620.56,152.04 L621.47,152.02 L622.31,152.55 L623.07,151.22 L623.71,152.49 L624.20,151.54" fill="none" stroke="#800080" stroke-width="1.9" stroke-linejoin="round" stroke-linecap="round" clip-path="url(#a4)"/>
<path d="M528.00,164.67 L528.17,163.19 L528.39,162.59 L528.65,162.94 L528.94,160.95 L529.25,161.12 L529.58,159.60 L529.93,158.65 L530.29,158.92 L530.65,157.91 L531.00,156.15 L531.40,155.53 L531.81,154.62 L532.23,153.59 L532.67,154.40 L533.11,153.19 L533.57,152.66 L534.04,151.52 L534.51,150.54 L535.00,150.74 L535.63,149.36 L536.27,149.94 L536.93,149.42 L537.60,148.92 L538.30,147.03 L539.03,146.66 L539.80,147.15 L540.49,145.97 L541.20,145.67 L541.93,145.49 L542.69,144.13 L543.47,144.14 L544.28,143.04 L545.12,142.54 L546.00,143.84 L546.73,143.09 L547.49,142.59 L548.27,141.52 L549.06,141.37 L549.88,142.19 L550.72,142.06 L551.57,141.20 L552.43,141.52 L553.31,140.46 L554.20,141.22 L554.97,141.03 L555.78,140.18 L556.63,141.54 L557.49,140.04 L558.37,140.67 L559.24,141.27 L560.11,142.29 L560.95,141.49 L561.76,141.31 L562.53,142.70 L563.25,142.90 L563.90,142.22 L564.66,143.67 L565.31,143.60 L565.89,144.16 L566.40,145.63 L566.88,146.01 L567.36,146.87 L567.85,147.01 L568.39,147.10 L569.00,147.77 L569.49,147.90 L569.99,148.32 L570.50,149.70 L571.02,149.67 L571.55,151.05 L572.09,151.01 L572.65,152.18 L573.21,153.56 L573.79,153.45 L574.38,154.96 L574.98,154.54 L575.60,154.94 L576.11,156.55 L576.62,156.64 L577.15,157.66 L577.69,158.10 L578.24,158.46 L578.80,158.96 L579.36,159.32 L579.93,161.35 L580.50,160.58 L581.08,161.69 L581.66,163.11 L582.25,163.62 L582.83,164.57 L583.42,164.57 L584.00,164.61 L584.55,166.28 L585.10,165.47 L585.65,167.71 L586.21,167.48 L586.77,168.58 L587.33,169.64 L587.90,169.64 L588.47,170.86 L589.04,171.56 L589.61,171.61 L590.19,172.97 L590.77,172.39 L591.35,172.81 L591.93,174.36 L592.51,175.10 L593.10,174.84 L593.83,174.71 L594.56,175.95 L595.31,176.07 L596.06,176.25 L596.81,176.85 L597.57,178.03 L598.32,178.00 L599.08,179.09 L599.83,178.37 L600.58,179.35 L601.33,179.02 L602.07,179.29 L602.80,179.27 L603.65,180.55 L604.49,179.88 L605.32,180.69 L606.14,180.78 L606.95,180.57 L607.77,180.77 L608.59,180.80 L609.43,179.74 L610.27,180.95 L611.12,180.50 L612.00,181.07 L612.83,179.85 L613.68,179.80 L614.56,180.92 L615.45,180.37 L616.35,181.64 L617.24,180.48 L618.14,180.78 L619.02,180.63 L619.88,181.04 L620.72,180.42 L621.53,181.76 L622.30,180.49 L623.26,181.58 L624.16,181.59 L625.02,180.28 L625.84,180.98 L626.64,180.95 L627.45,179.21 L628.26,180.71 L629.11,179.46 L630.00,179.21 L630.79,179.90 L631.65,178.60 L632.56,178.18 L633.49,179.71 L634.42,177.83 L635.33,178.78 L636.20,178.50 L637.00,178.08 L637.72,178.68 L638.33,178.56 L638.80,177.04" fill="none" stroke="#008080" stroke-width="1.9" stroke-linejoin="round" stroke-linecap="round" clip-path="url(#a4)"/>
<path d="M528.40,245.21 L528.41,245.22 L528.42,243.89 L528.44,242.89 L528.45,243.12 L528.46,241.49 L528.48,241.49 L528.50,240.99 L528.52,239.74 L528.53,239.64 L528.55,239.27 L528.57,237.80 L528.60,237.07 L528.62,235.56 L528.64,234.34 L528.66,234.27 L528.68,232.95 L528.71,232.70 L528.73,230.81 L528.76,230.50 L528.78,229.67 L528.80,229.21 L528.83,226.95 L528.85,227.53 L528.88,225.28 L528.90,225.75 L528.92,224.83 L528.94,224.21 L528.96,223.50 L528.98,221.20 L529.00,220.89 L529.02,220.49 L529.04,219.19 L529.07,218.94 L529.09,218.47 L529.11,216.42 L529.13,215.76 L529.16,215.90 L529.18,214.05 L529.20,212.74 L529.23,213.07 L529.25,211.38 L529.27,211.04 L529.30,209.25 L529.32,209.30 L529.34,208.90 L529.37,207.40 L529.39,206.43 L529.41,206.35 L529.44,205.11 L529.46,204.24 L529.48,202.93 L529.51,203.09 L529.53,202.64 L529.55,200.44 L529.58,200.31 L529.60,200.27 L529.64,198.28 L529.68,198.50 L529.71,196.18 L529.75,195.40 L529.78,194.84 L529.81,193.35 L529.85,193.85 L529.88,192.27 L529.92,191.24 L529.95,190.84 L529.99,190.31 L530.03,189.19 L530.07,188.64 L530.11,188.00 L530.15,186.86 L530.20,185.91 L530.25,184.97 L530.30,185.29 L530.40,183.68 L530.50,183.71 L530.60,181.57 L530.71,181.64 L530.82,180.24 L530.94,178.99 L531.07,178.72 L531.20,178.49 L531.35,177.94 L531.50,176.73 L531.77,175.54 L532.06,174.58 L532.37,174.62 L532.71,174.11 L533.09,173.86 L533.50,172.48 L534.06,171.46 L534.69,171.63 L535.36,170.70 L536.03,170.24 L536.70,168.42 L537.33,169.13 L537.96,167.70 L538.59,167.55 L539.26,165.84 L540.00,165.10 L540.63,164.68 L541.26,164.31 L541.91,163.89 L542.64,164.85 L543.49,163.84 L544.50,162.51 L545.14,163.92 L545.85,162.57 L546.62,162.67 L547.43,162.27 L548.28,161.35 L549.14,161.86 L550.00,161.80 L550.85,160.54 L551.68,160.25 L552.46,160.27 L553.20,161.00 L554.05,160.52 L554.89,160.04 L555.71,160.21 L556.51,161.80 L557.27,161.37 L558.01,163.02 L558.71,163.29 L559.38,163.19 L560.00,163.52 L560.56,165.21 L561.04,164.95 L561.48,167.11 L561.88,166.99 L562.26,167.41 L562.64,169.05 L563.05,169.52 L563.50,170.43 L564.00,171.52 L564.38,171.54 L564.79,171.47 L565.21,172.37 L565.64,174.59 L566.09,174.66 L566.54,174.32 L567.00,175.29 L567.46,175.95 L567.92,176.93 L568.38,178.34 L568.83,179.49 L569.27,179.46 L569.70,179.90 L570.31,181.40 L570.92,180.63 L571.53,182.62 L572.13,182.71 L572.72,182.50 L573.31,183.96 L573.88,183.39 L574.45,184.64 L575.00,184.93 L575.58,184.90 L576.11,186.99 L576.61,186.24 L577.11,187.13 L577.63,188.19 L578.18,188.10 L578.80,188.33 L579.50,189.24 L580.13,189.80 L580.80,190.98 L581.51,190.90 L582.26,191.97 L583.03,190.94 L583.82,192.56 L584.62,193.23 L585.42,193.60 L586.22,192.75 L587.00,192.78 L587.71,194.34 L588.42,194.13 L589.15,194.86 L589.87,194.27 L590.60,196.21 L591.34,195.56 L592.07,196.95 L592.80,195.58 L593.54,196.43 L594.27,197.06 L595.00,197.16 L595.80,197.16 L596.61,198.79 L597.41,198.23 L598.22,199.12 L599.02,198.55 L599.83,199.21 L600.63,199.13 L601.43,198.41 L602.22,199.63 L603.00,199.95 L603.79,200.14 L604.58,200.01 L605.38,199.50 L606.17,201.19 L606.96,201.74 L607.74,200.41 L608.49,200.66 L609.23,201.64 L609.93,202.47 L610.60,202.21 L611.48,203.22 L612.28,203.64 L613.02,203.44 L613.74,203.77 L614.46,204.12 L615.20,203.94 L616.00,203.97 L616.73,205.57 L617.48,204.76 L618.24,206.17 L619.01,206.01 L619.80,206.77 L620.61,207.18 L621.44,207.62 L622.30,207.71 L623.09,206.86 L623.90,207.78 L624.72,207.79 L625.57,207.30 L626.43,206.39 L627.30,207.68 L628.19,207.22 L629.09,206.37 L630.00,206.15 L630.79,207.02 L631.65,206.70 L632.56,206.14 L633.49,207.06 L634.42,207.16 L635.33,206.56 L636.20,206.80 L637.00,206.35 L637.72,205.79 L638.33,206.66 L638.80,206.46" fill="none" stroke="#0000ff" stroke-width="1.9" stroke-linejoin="round" stroke-linecap="round" clip-path="url(#a4)"/>
<rect x="123.60" y="39.60" width="7.8" height="22.4" rx="3.9" ry="3.9" fill="#7cc17c" fill-opacity="1.0"/>
<rect x="151.80" y="83.50" width="7.8" height="22.4" rx="3.9" ry="3.9" fill="#7cc17c" fill-opacity="1.0"/>
<rect x="164.60" y="111.60" width="7.8" height="22.4" rx="3.9" ry="3.9" fill="#7cc17c" fill-opacity="1.0"/>
<rect x="178.30" y="137.50" width="7.8" height="22.4" rx="3.9" ry="3.9" fill="#7cc17c" fill-opacity="1.0"/>
<rect x="270.10" y="47.00" width="7.8" height="22.4" rx="3.9" ry="3.9" fill="#7cc17c" fill-opacity="1.0"/>
<rect x="291.80" y="89.10" width="7.8" height="22.4" rx="3.9" ry="3.9" fill="#7cc17c" fill-opacity="1.0"/>
<rect x="316.00" y="128.30" width="7.8" height="22.4" rx="3.9" ry="3.9" fill="#7cc17c" fill-opacity="1.0"/>
<rect x="415.10" y="62.40" width="7.8" height="22.4" rx="3.9" ry="3.9" fill="#7cc17c" fill-opacity="1.0"/>
<rect x="428.70" y="88.40" width="7.8" height="22.4" rx="3.9" ry="3.9" fill="#7cc17c" fill-opacity="1.0"/>
<rect x="450.40" y="119.30" width="7.8" height="22.4" rx="3.9" ry="3.9" fill="#7cc17c" fill-opacity="1.0"/>
<rect x="608.00" y="66.90" width="7.8" height="22.4" rx="3.9" ry="3.9" fill="#7cc17c" fill-opacity="1.0"/>
<rect x="612.00" y="91.10" width="7.8" height="22.4" rx="3.9" ry="3.9" fill="#7cc17c" fill-opacity="1.0"/>
<rect x="624.60" y="116.20" width="7.8" height="22.4" rx="3.9" ry="3.9" fill="#7cc17c" fill-opacity="1.0"/>
<polyline points="127.5,50.8 155.7,94.7 168.5,122.8 182.2,148.7" fill="none" stroke="#333" stroke-width="0.6"/>
<polyline points="274,58.2 295.7,100.3 319.9,139.5" fill="none" stroke="#333" stroke-width="0.6"/>
<polyline points="419,73.6 432.6,99.6 454.3,130.5" fill="none" stroke="#333" stroke-width="0.6"/>
<polyline points="611.9,78.1 615.9,102.3 628.5,127.4" fill="none" stroke="#7a9a7a" stroke-width="0.6"/>
<polyline points="595.1,69.2 591.9,93 587,112.3 579,131.9" fill="none" stroke="#999" stroke-width="0.6"/>
<path d="M127.5,47.099999999999994 L131.2,50.8 L127.5,54.5 L123.8,50.8 Z" fill="#000" stroke="#1f5f1f" stroke-width="0.5"/>
<path d="M155.7,91.0 L159.39999999999998,94.7 L155.7,98.4 L152.0,94.7 Z" fill="#000" stroke="#1f5f1f" stroke-width="0.5"/>
<path d="M168.5,119.1 L172.2,122.8 L168.5,126.5 L164.8,122.8 Z" fill="#000" stroke="#1f5f1f" stroke-width="0.5"/>
<path d="M182.2,145.0 L185.89999999999998,148.7 L182.2,152.39999999999998 L178.5,148.7 Z" fill="#000" stroke="#1f5f1f" stroke-width="0.5"/>
<path d="M274,54.5 L277.7,58.2 L274,61.900000000000006 L270.3,58.2 Z" fill="#000" stroke="#1f5f1f" stroke-width="0.5"/>
<path d="M295.7,96.6 L299.4,100.3 L295.7,104.0 L292.0,100.3 Z" fill="#000" stroke="#1f5f1f" stroke-width="0.5"/>
<path d="M319.9,135.8 L323.59999999999997,139.5 L319.9,143.2 L316.2,139.5 Z" fill="#000" stroke="#1f5f1f" stroke-width="0.5"/>
<path d="M419,69.89999999999999 L422.7,73.6 L419,77.3 L415.3,73.6 Z" fill="#000" stroke="#1f5f1f" stroke-width="0.5"/>
<path d="M432.6,95.89999999999999 L436.3,99.6 L432.6,103.3 L428.90000000000003,99.6 Z" fill="#000" stroke="#1f5f1f" stroke-width="0.5"/>
<path d="M454.3,126.8 L458.0,130.5 L454.3,134.2 L450.6,130.5 Z" fill="#000" stroke="#1f5f1f" stroke-width="0.5"/>
<path d="M611.9,74.39999999999999 L615.6,78.1 L611.9,81.8 L608.1999999999999,78.1 Z" fill="#000" stroke="#1f5f1f" stroke-width="0.5"/>
<path d="M615.9,98.6 L619.6,102.3 L615.9,106.0 L612.1999999999999,102.3 Z" fill="#000" stroke="#1f5f1f" stroke-width="0.5"/>
<path d="M628.5,123.7 L632.2,127.4 L628.5,131.1 L624.8,127.4 Z" fill="#000" stroke="#1f5f1f" stroke-width="0.5"/>
<rect x="591.4" y="65.5" width="7.4" height="7.4" fill="#6e6e6e" fill-opacity="0.8"/>
<rect x="588.1999999999999" y="89.3" width="7.4" height="7.4" fill="#6e6e6e" fill-opacity="0.8"/>
<rect x="583.3" y="108.6" width="7.4" height="7.4" fill="#6e6e6e" fill-opacity="0.8"/>
<rect x="575.3" y="128.20000000000002" width="7.4" height="7.4" fill="#6e6e6e" fill-opacity="0.8"/>
<path d="M99.20,162.6 L108.80,162.6 L104,170.2 Z" fill="#fff" stroke="#222" stroke-width="0.9" stroke-linejoin="round"/>
<path d="M99.50,162.6 H108.50" stroke="#999" stroke-width="1"/>
<path d="M99.20,176.7 L108.80,176.7 L104,184.29999999999998 Z" fill="#fff" stroke="#222" stroke-width="0.9" stroke-linejoin="round"/>
<path d="M99.50,176.7 H108.50" stroke="#999" stroke-width="1"/>
<path d="M99.20,185.5 L108.80,185.5 L104,193.1 Z" fill="#fff" stroke="#222" stroke-width="0.9" stroke-linejoin="round"/>
<path d="M99.50,185.5 H108.50" stroke="#999" stroke-width="1"/>
<path d="M243.10,186.2 L252.70,186.2 L247.9,193.79999999999998 Z" fill="#fff" stroke="#222" stroke-width="0.9" stroke-linejoin="round"/>
<path d="M243.40,186.2 H252.40" stroke="#999" stroke-width="1"/>
<path d="M400.40,174.6 L410.00,174.6 L405.2,182.2 Z" fill="#fff" stroke="#222" stroke-width="0.9" stroke-linejoin="round"/>
<path d="M400.70,174.6 H409.70" stroke="#999" stroke-width="1"/>
<path d="M400.40,184 L410.00,184 L405.2,191.6 Z" fill="#fff" stroke="#222" stroke-width="0.9" stroke-linejoin="round"/>
<path d="M400.70,184 H409.70" stroke="#999" stroke-width="1"/>
<path d="M400.40,192 L410.00,192 L405.2,199.6 Z" fill="#fff" stroke="#222" stroke-width="0.9" stroke-linejoin="round"/>
<path d="M400.70,192 H409.70" stroke="#999" stroke-width="1"/>
<clipPath id="b1"><rect x="36.7" y="326.3" width="127.99999999999999" height="206.8"/></clipPath>
<path d="M36.70,533.1 v-4.0 M36.70,326.3 v4.0 M58.03,533.1 v-2.5 M58.03,326.3 v2.5 M79.37,533.1 v-4.0 M79.37,326.3 v4.0 M100.70,533.1 v-2.5 M100.70,326.3 v2.5 M122.03,533.1 v-4.0 M122.03,326.3 v4.0 M143.37,533.1 v-2.5 M143.37,326.3 v2.5 M164.70,533.1 v-4.0 M164.70,326.3 v4.0 M36.7,533.10 h4.0 M164.7,533.10 h-4.0 M36.7,520.94 h2.5 M164.7,520.94 h-2.5 M36.7,508.78 h4.0 M164.7,508.78 h-4.0 M36.7,496.62 h2.5 M164.7,496.62 h-2.5 M36.7,484.46 h4.0 M164.7,484.46 h-4.0 M36.7,472.30 h2.5 M164.7,472.30 h-2.5 M36.7,460.14 h4.0 M164.7,460.14 h-4.0 M36.7,447.98 h2.5 M164.7,447.98 h-2.5 M36.7,435.82 h4.0 M164.7,435.82 h-4.0 M36.7,423.66 h2.5 M164.7,423.66 h-2.5 M36.7,411.50 h4.0 M164.7,411.50 h-4.0 M36.7,399.34 h2.5 M164.7,399.34 h-2.5 M36.7,387.18 h4.0 M164.7,387.18 h-4.0 M36.7,375.02 h2.5 M164.7,375.02 h-2.5 M36.7,362.86 h4.0 M164.7,362.86 h-4.0 M36.7,350.70 h2.5 M164.7,350.70 h-2.5 M36.7,338.54 h4.0 M164.7,338.54 h-4.0 M36.7,326.38 h2.5 M164.7,326.38 h-2.5" stroke="#333" stroke-width="0.9" fill="none"/>
<rect x="36.7" y="326.3" width="127.99999999999999" height="206.8" fill="none" stroke="#333" stroke-width="1.0"/>
<clipPath id="b2"><rect x="210.2" y="326.3" width="128.3" height="206.8"/></clipPath>
<path d="M210.20,533.1 v-4.0 M210.20,326.3 v4.0 M231.58,533.1 v-2.5 M231.58,326.3 v2.5 M252.97,533.1 v-4.0 M252.97,326.3 v4.0 M274.35,533.1 v-2.5 M274.35,326.3 v2.5 M295.73,533.1 v-4.0 M295.73,326.3 v4.0 M317.12,533.1 v-2.5 M317.12,326.3 v2.5 M338.50,533.1 v-4.0 M338.50,326.3 v4.0 M210.2,533.10 h4.0 M338.5,533.10 h-4.0 M210.2,520.94 h2.5 M338.5,520.94 h-2.5 M210.2,508.78 h4.0 M338.5,508.78 h-4.0 M210.2,496.62 h2.5 M338.5,496.62 h-2.5 M210.2,484.46 h4.0 M338.5,484.46 h-4.0 M210.2,472.30 h2.5 M338.5,472.30 h-2.5 M210.2,460.14 h4.0 M338.5,460.14 h-4.0 M210.2,447.98 h2.5 M338.5,447.98 h-2.5 M210.2,435.82 h4.0 M338.5,435.82 h-4.0 M210.2,423.66 h2.5 M338.5,423.66 h-2.5 M210.2,411.50 h4.0 M338.5,411.50 h-4.0 M210.2,399.34 h2.5 M338.5,399.34 h-2.5 M210.2,387.18 h4.0 M338.5,387.18 h-4.0 M210.2,375.02 h2.5 M338.5,375.02 h-2.5 M210.2,362.86 h4.0 M338.5,362.86 h-4.0 M210.2,350.70 h2.5 M338.5,350.70 h-2.5 M210.2,338.54 h4.0 M338.5,338.54 h-4.0 M210.2,326.38 h2.5 M338.5,326.38 h-2.5" stroke="#333" stroke-width="0.9" fill="none"/>
<rect x="210.2" y="326.3" width="128.3" height="206.8" fill="none" stroke="#333" stroke-width="1.0"/>
<clipPath id="b3"><rect x="382.2" y="326.3" width="128.3" height="206.8"/></clipPath>
<path d="M382.20,533.1 v-4.0 M382.20,326.3 v4.0 M402.00,533.1 v-2.5 M402.00,326.3 v2.5 M421.80,533.1 v-4.0 M421.80,326.3 v4.0 M441.60,533.1 v-2.5 M441.60,326.3 v2.5 M461.40,533.1 v-4.0 M461.40,326.3 v4.0 M481.20,533.1 v-2.5 M481.20,326.3 v2.5 M501.00,533.1 v-4.0 M501.00,326.3 v4.0 M382.2,533.10 h4.0 M510.5,533.10 h-4.0 M382.2,491.60 h2.5 M510.5,491.60 h-2.5 M382.2,450.10 h4.0 M510.5,450.10 h-4.0 M382.2,408.60 h2.5 M510.5,408.60 h-2.5 M382.2,367.10 h4.0 M510.5,367.10 h-4.0" stroke="#333" stroke-width="0.9" fill="none"/>
<rect x="382.2" y="326.3" width="128.3" height="206.8" fill="none" stroke="#333" stroke-width="1.0"/>
<clipPath id="b4"><rect x="556.2" y="326.3" width="127.69999999999993" height="206.8"/></clipPath>
<path d="M556.20,533.1 v-4.0 M556.20,326.3 v4.0 M575.90,533.1 v-2.5 M575.90,326.3 v2.5 M595.60,533.1 v-4.0 M595.60,326.3 v4.0 M615.30,533.1 v-2.5 M615.30,326.3 v2.5 M635.00,533.1 v-4.0 M635.00,326.3 v4.0 M654.70,533.1 v-2.5 M654.70,326.3 v2.5 M674.40,533.1 v-4.0 M674.40,326.3 v4.0 M556.2,533.10 h4.0 M683.9,533.10 h-4.0 M556.2,491.60 h2.5 M683.9,491.60 h-2.5 M556.2,450.10 h4.0 M683.9,450.10 h-4.0 M556.2,408.60 h2.5 M683.9,408.60 h-2.5 M556.2,367.10 h4.0 M683.9,367.10 h-4.0" stroke="#333" stroke-width="0.9" fill="none"/>
<rect x="556.2" y="326.3" width="127.69999999999993" height="206.8" fill="none" stroke="#333" stroke-width="1.0"/>
<path d="M36.70,415.86 L36.87,414.77 L37.06,414.90 L37.29,413.92 L37.55,413.22 L37.83,412.50 L38.14,411.17 L38.47,410.74 L38.82,409.92 L39.20,409.15 L39.59,407.88 L40.00,406.47 L40.44,405.97 L40.93,405.19 L41.44,404.40 L41.99,403.97 L42.55,403.52 L43.13,403.31 L43.70,401.54 L44.28,401.94 L44.84,400.82 L45.38,400.53 L45.90,399.99 L46.56,398.71 L47.19,398.47 L47.80,397.91 L48.39,396.84 L49.00,397.02 L49.62,396.46 L50.29,394.91 L51.00,395.43 L51.67,394.43 L52.37,394.70 L53.10,393.22 L53.84,393.77 L54.60,393.00 L55.38,392.36 L56.18,392.27 L56.98,392.34 L57.80,391.51 L58.55,391.24 L59.30,391.44 L60.07,391.06 L60.86,390.00 L61.65,390.05 L62.46,389.64 L63.27,389.14 L64.10,388.93 L64.95,388.65 L65.80,388.60 L66.59,388.85 L67.41,388.64 L68.24,389.24 L69.08,388.55 L69.93,388.82 L70.79,389.80 L71.65,389.45 L72.50,389.11 L73.35,389.99 L74.18,389.13 L75.00,389.57 L75.89,389.46 L76.78,389.90 L77.66,390.09 L78.54,390.76 L79.41,390.38 L80.28,390.97 L81.13,391.12 L81.97,390.08 L82.79,390.16 L83.60,390.97 L84.47,390.25 L85.30,390.30 L86.11,390.33 L86.91,389.82 L87.70,390.08 L88.50,388.79 L89.30,388.78 L90.14,388.25 L91.00,388.21 L91.73,388.86 L92.48,387.49 L93.24,387.88 L94.01,387.25 L94.79,387.64 L95.57,386.70 L96.36,387.14 L97.15,386.61 L97.94,386.86 L98.72,385.50 L99.50,385.73 L100.27,385.87 L101.03,385.05 L101.79,384.58 L102.55,384.81 L103.31,384.31 L104.08,383.87 L104.84,383.02 L105.62,382.52 L106.40,382.06 L107.19,382.48 L108.00,380.99 L108.70,380.71 L109.43,380.95 L110.19,380.89 L110.95,380.64 L111.72,379.82 L112.50,379.75 L113.26,378.78 L114.02,378.58 L114.76,378.51 L115.47,377.42 L116.15,377.68 L116.80,376.98 L117.40,376.15 L118.19,376.00 L118.89,375.93 L119.52,375.48 L120.11,374.81 L120.67,374.34 L121.22,373.39 L121.78,372.80 L122.37,372.39 L123.00,371.93 L123.66,371.27 L124.32,371.40 L124.99,370.63 L125.66,369.43 L126.35,368.87 L127.06,368.77 L127.78,368.49 L128.53,368.12 L129.30,367.41 L130.03,367.28 L130.78,367.03 L131.56,366.39 L132.35,366.76 L133.16,365.99 L133.97,365.56 L134.79,365.42 L135.60,365.91 L136.41,365.61 L137.20,366.01 L138.07,366.06 L138.93,365.34 L139.80,366.11 L140.66,366.14 L141.52,366.18 L142.38,366.90 L143.25,366.14 L144.12,366.67 L145.00,366.89 L145.79,366.93 L146.56,367.57 L147.32,368.08 L148.08,367.87 L148.86,367.64 L149.64,368.13 L150.45,368.98 L151.30,369.00 L152.18,368.86 L153.10,369.50 L153.77,370.14 L154.50,370.23 L155.28,370.46 L156.09,371.07 L156.93,371.17 L157.78,372.53 L158.63,372.29 L159.47,372.90 L160.29,373.39 L161.07,373.71 L161.80,374.66 L162.47,374.09 L163.07,374.81 L163.58,374.67 L164.00,374.77" fill="none" stroke="#0000ff" stroke-width="2.3" stroke-linejoin="round" stroke-linecap="round" clip-path="url(#b1)"/>
<path d="M36.70,462.07 L36.93,460.98 L37.21,461.17 L37.54,460.07 L37.91,458.54 L38.31,457.84 L38.74,456.93 L39.19,457.10 L39.65,455.98 L40.11,455.00 L40.56,454.29 L41.00,453.88 L41.53,453.95 L42.08,453.33 L42.64,452.59 L43.22,451.85 L43.80,450.14 L44.39,450.02 L44.99,450.26 L45.59,448.56 L46.20,448.91 L46.81,447.17 L47.44,447.81 L48.07,446.16 L48.70,445.52 L49.35,446.16 L50.00,444.00 L50.66,444.82 L51.33,443.16 L52.00,442.60 L52.68,441.87 L53.36,441.26 L54.04,441.42 L54.74,441.14 L55.44,440.52 L56.16,439.59 L56.89,440.80 L57.63,440.32 L58.40,439.53 L59.11,438.27 L59.83,437.91 L60.56,438.12 L61.30,437.17 L62.06,436.98 L62.82,436.48 L63.60,437.09 L64.39,436.53 L65.19,435.33 L66.00,436.31 L66.75,435.37 L67.51,435.42 L68.29,434.91 L69.07,434.26 L69.87,434.00 L70.67,433.64 L71.48,432.71 L72.28,433.99 L73.09,432.60 L73.90,431.75 L74.70,431.49 L75.44,431.65 L76.18,431.89 L76.92,431.14 L77.67,430.47 L78.42,431.12 L79.17,429.22 L79.92,429.17 L80.66,429.87 L81.41,428.69 L82.14,428.25 L82.88,427.10 L83.60,427.57 L84.26,427.38 L84.91,427.13 L85.55,425.38 L86.19,425.75 L86.82,425.72 L87.45,425.38 L88.08,423.45 L88.71,423.05 L89.35,423.91 L90.00,422.44 L90.65,421.98 L91.32,421.99 L92.00,420.49 L92.61,419.86 L93.24,420.08 L93.89,419.64 L94.56,419.65 L95.23,417.59 L95.91,417.99 L96.59,416.47 L97.27,416.70 L97.94,416.22 L98.59,415.22 L99.22,414.60 L99.84,414.05 L100.43,414.21 L100.98,413.69 L101.50,412.41 L102.10,412.25 L102.64,411.00 L103.14,410.32 L103.60,409.95 L104.03,409.23 L104.44,408.28 L104.85,407.64 L105.25,407.67 L105.66,406.06 L106.08,405.95 L106.52,404.46 L107.00,405.36 L107.54,403.04 L108.09,403.73 L108.64,402.00 L109.19,402.28 L109.76,400.50 L110.33,400.51 L110.92,399.44 L111.51,399.59 L112.13,399.44 L112.75,397.88 L113.40,398.39 L114.14,397.66 L114.90,398.06 L115.70,396.79 L116.50,395.74 L117.33,395.76 L118.15,396.58 L118.98,395.59 L119.80,395.17 L120.61,394.83 L121.40,394.62 L122.26,394.23 L123.10,394.94 L123.94,394.18 L124.77,394.23 L125.60,394.32 L126.44,394.60 L127.28,395.92 L128.13,394.81 L129.00,394.66 L129.80,396.45 L130.61,395.78 L131.43,396.82 L132.26,396.68 L133.09,396.31 L133.92,396.46 L134.75,395.92 L135.58,396.93 L136.39,396.86 L137.20,397.38 L137.99,398.53 L138.78,398.39 L139.56,399.29 L140.33,399.30 L141.11,399.79 L141.88,398.79 L142.65,399.88 L143.43,400.81 L144.21,401.11 L145.00,401.57 L145.71,401.23 L146.42,401.04 L147.11,402.09 L147.81,402.53 L148.50,403.25 L149.21,402.92 L149.94,404.28 L150.68,404.67 L151.45,404.90 L152.26,405.40 L153.10,406.38 L153.72,405.18 L154.40,406.12 L155.13,406.79 L155.88,407.30 L156.67,408.33 L157.46,408.49 L158.26,408.97 L159.06,408.93 L159.83,409.55 L160.59,410.91 L161.30,411.15 L161.98,411.50 L162.59,411.58 L163.14,412.10 L163.61,412.64 L164.00,413.46" fill="none" stroke="#00ff00" stroke-width="2.4" stroke-linejoin="round" stroke-linecap="round" clip-path="url(#b1)"/>
<path d="M36.70,492.89 L36.89,494.09 L37.10,495.58 L37.33,491.37 L37.59,494.45 L37.87,494.97 L38.17,495.58 L38.48,495.83 L38.81,490.68 L39.16,489.50 L39.52,492.80 L39.89,491.83 L40.27,493.65 L40.66,491.44 L41.05,492.44 L41.45,487.21 L41.85,489.60 L42.26,487.60 L42.66,487.14 L43.06,486.12 L43.46,491.01 L43.86,487.34 L44.25,489.43 L44.63,488.96 L45.00,488.85 L45.34,485.53 L45.68,488.03 L46.03,485.87 L46.37,488.46 L46.72,486.66 L47.07,487.68 L47.42,487.73 L47.77,483.87 L48.13,483.58 L48.49,481.18 L48.84,485.87 L49.20,484.30 L49.56,481.30 L49.92,483.76 L50.29,485.40 L50.65,485.01 L51.01,485.12 L51.38,480.90 L51.74,480.09 L52.11,478.32 L52.47,478.87 L52.84,479.25 L53.20,481.17 L53.57,477.15 L53.93,482.38 L54.30,480.39 L54.64,481.36 L54.98,477.63 L55.32,478.77 L55.66,480.82 L55.99,475.70 L56.33,475.21 L56.67,475.34 L57.01,475.36 L57.35,474.90 L57.69,473.72 L58.03,474.16 L58.38,475.56 L58.72,474.53 L59.06,474.98 L59.41,475.00 L59.75,475.93 L60.10,474.84 L60.45,476.89 L60.79,476.42 L61.14,475.84 L61.50,473.27 L61.85,471.29 L62.20,472.23 L62.56,472.16 L62.92,471.99 L63.28,474.24 L63.64,472.32 L64.00,473.62 L64.34,468.62 L64.69,471.28 L65.04,468.75 L65.40,466.98 L65.76,466.61 L66.13,468.53 L66.50,467.12 L66.87,467.69 L67.24,465.70 L67.62,465.34 L67.99,466.36 L68.37,468.94 L68.75,467.20 L69.12,468.35 L69.50,469.23 L69.87,466.45 L70.25,466.70 L70.62,464.09 L70.98,464.73 L71.35,466.83 L71.71,466.78 L72.06,462.66 L72.42,462.69 L72.76,464.02 L73.10,463.68 L73.44,464.41 L73.76,465.66 L74.08,461.69 L74.40,460.52 L74.70,460.23 L75.10,461.24 L75.49,461.25 L75.87,459.44 L76.24,463.39 L76.60,460.25 L76.95,459.28 L77.29,459.18 L77.62,462.48 L77.95,460.66 L78.27,461.45 L78.59,457.05 L78.90,457.01 L79.21,458.16 L79.52,458.21 L79.82,455.96 L80.13,456.02 L80.44,455.02 L80.74,454.68 L81.05,454.87 L81.36,455.10 L81.68,455.13 L82.00,456.61 L82.32,458.67 L82.65,455.79 L82.97,454.88 L83.29,453.99 L83.61,451.98 L83.93,454.94 L84.25,453.36 L84.57,454.24 L84.89,452.31 L85.21,450.86 L85.52,451.24 L85.84,449.79 L86.15,450.15 L86.47,453.90 L86.78,449.02 L87.09,451.08 L87.39,452.71 L87.70,449.23 L88.00,448.41 L88.30,446.79 L88.60,446.62 L88.90,451.07 L89.24,447.96 L89.58,446.72 L89.91,444.67 L90.24,448.31 L90.56,444.50 L90.89,446.34 L91.21,447.52 L91.52,447.47 L91.84,447.46 L92.16,443.51 L92.47,442.57 L92.79,442.01 L93.10,442.87 L93.42,442.68 L93.73,441.48 L94.05,440.70 L94.36,442.14 L94.68,441.84 L95.00,439.80 L95.33,443.58 L95.66,438.86 L95.98,440.32 L96.30,439.97 L96.62,439.68 L96.93,440.70 L97.24,439.76 L97.56,439.95 L97.87,440.41 L98.20,436.25 L98.52,441.17 L98.86,438.21 L99.20,439.29 L99.56,435.65 L99.92,437.00 L100.30,438.50 L100.69,435.49 L101.10,436.64 L101.46,438.30 L101.84,436.00 L102.22,435.73 L102.61,436.55 L103.01,437.66 L103.42,433.46 L103.84,437.52 L104.26,435.89 L104.69,433.59 L105.13,432.04 L105.56,432.36 L106.00,433.04 L106.45,434.63 L106.89,432.62 L107.34,430.33 L107.79,430.31 L108.23,435.28 L108.68,429.95 L109.12,434.72 L109.56,434.63 L110.00,432.67 L110.44,432.81 L110.87,433.83 L111.31,433.58 L111.74,432.70 L112.18,432.81 L112.61,433.69 L113.05,429.48 L113.49,430.36 L113.93,432.30 L114.37,431.78 L114.82,429.98 L115.26,433.47 L115.71,427.68 L116.16,428.46 L116.61,428.16 L117.07,429.26 L117.53,432.82 L117.99,433.12 L118.46,431.79 L118.93,429.70 L119.40,432.78 L119.82,429.23 L120.24,430.51 L120.67,431.66 L121.11,429.53 L121.55,431.77 L121.99,433.13 L122.43,429.85 L122.88,432.51 L123.33,428.43 L123.78,433.58 L124.23,431.09 L124.68,430.58 L125.13,434.35 L125.59,429.31 L126.04,432.02 L126.49,434.83 L126.94,431.54 L127.39,431.03 L127.83,432.37 L128.27,433.79 L128.71,431.56 L129.14,435.82 L129.57,435.82 L130.00,435.21 L130.42,433.84 L130.84,433.39 L131.27,432.45 L131.68,433.33 L132.10,434.21 L132.52,433.60 L132.94,434.93 L133.35,432.08 L133.76,437.06 L134.18,436.98 L134.59,437.35 L134.99,433.44 L135.40,434.69 L135.80,434.61 L136.20,436.87 L136.60,439.46 L137.00,436.05 L137.39,439.12 L137.79,434.55 L138.17,438.54 L138.56,437.05 L138.94,437.04 L139.32,439.08 L139.70,440.37 L140.15,441.12 L140.59,438.19 L141.02,439.01 L141.45,438.92 L141.88,436.70 L142.30,439.92 L142.72,441.24 L143.14,442.51 L143.55,438.47 L143.96,440.74 L144.36,442.37 L144.77,439.00 L145.17,439.68 L145.58,440.71 L145.98,442.50 L146.38,443.71 L146.78,440.59 L147.19,442.68 L147.59,445.04 L148.00,445.21 L148.41,444.68 L148.81,442.42 L149.22,444.36 L149.62,443.26 L150.02,443.66 L150.42,442.94 L150.82,446.95 L151.22,445.70 L151.61,444.68 L152.01,441.83 L152.41,443.80 L152.81,447.26 L153.20,442.88 L153.60,447.90 L154.00,445.50 L154.40,443.65 L154.80,446.25 L155.20,448.49 L155.60,444.36 L156.00,447.37 L156.30,448.81 L156.62,447.58 L156.94,447.05 L157.27,449.26 L157.61,449.23 L157.95,447.05 L158.29,452.06 L158.64,452.22 L158.99,450.69 L159.34,453.41 L159.69,452.00 L160.04,448.90 L160.38,454.75 L160.72,453.51 L161.05,450.82 L161.37,450.43 L161.69,455.19 L162.00,453.34 L162.29,452.21 L162.57,455.78 L162.84,455.42 L163.10,457.36 L163.33,456.30 L163.56,455.66 L163.76,455.17 L163.94,459.36 L164.10,459.31" fill="none" stroke="#ff0000" stroke-width="2.3" stroke-linejoin="round" stroke-linecap="round" clip-path="url(#b1)"/>
<path d="M36.70,519.28 L37.02,520.08 L37.41,519.44 L37.86,518.41 L38.35,518.58 L38.90,517.91 L39.48,517.34 L40.09,517.05 L40.73,515.77 L41.38,515.77 L42.05,514.83 L42.73,513.97 L43.41,514.04 L44.08,512.32 L44.74,512.31 L45.38,512.00 L46.00,510.48 L46.57,510.88 L47.14,509.93 L47.72,509.40 L48.30,508.55 L48.89,508.53 L49.48,507.21 L50.07,507.04 L50.66,506.32 L51.25,505.96 L51.85,504.97 L52.44,504.80 L53.04,503.58 L53.63,503.74 L54.23,503.12 L54.82,502.01 L55.41,501.65 L56.00,501.23 L56.59,501.14 L57.18,500.76 L57.76,499.72 L58.35,499.39 L58.94,498.34 L59.53,498.42 L60.12,497.92 L60.71,497.41 L61.29,496.41 L61.88,495.21 L62.47,494.81 L63.06,494.26 L63.65,494.17 L64.24,493.30 L64.82,492.84 L65.41,492.68 L66.00,491.32 L66.59,490.67 L67.19,490.35 L67.79,490.28 L68.40,489.22 L69.00,489.47 L69.61,488.42 L70.22,487.87 L70.82,487.25 L71.43,486.14 L72.02,486.26 L72.62,485.63 L73.21,485.21 L73.78,484.20 L74.35,484.31 L74.92,483.20 L75.46,483.06 L76.00,481.60 L76.64,481.64 L77.27,481.41 L77.88,479.86 L78.49,479.00 L79.09,478.38 L79.68,478.16 L80.26,478.08 L80.82,476.72 L81.38,476.64 L81.93,476.20 L82.46,474.93 L82.98,475.12 L83.50,474.17 L84.00,473.40 L84.62,472.65 L85.21,471.72 L85.78,471.84 L86.33,471.17 L86.87,469.80 L87.39,468.99 L87.90,468.48 L88.41,468.16 L88.90,467.52 L89.40,467.62 L89.90,466.82 L90.50,465.38 L91.07,465.54 L91.62,464.92 L92.17,464.23 L92.71,463.01 L93.26,462.53 L93.81,462.20 L94.39,460.71 L95.00,461.10 L95.62,459.67 L96.23,459.19 L96.86,458.53 L97.49,458.57 L98.14,458.11 L98.82,457.02 L99.54,456.55 L100.29,457.03 L101.10,456.37 L101.80,455.37 L102.54,455.69 L103.31,455.22 L104.11,454.57 L104.93,454.87 L105.76,454.32 L106.61,453.49 L107.46,453.98 L108.31,453.07 L109.16,453.35 L110.00,452.79 L110.84,452.51 L111.70,452.10 L112.58,452.33 L113.46,452.22 L114.34,451.86 L115.22,451.67 L116.09,451.96 L116.95,451.75 L117.79,451.84 L118.61,452.05 L119.40,452.22 L120.32,451.68 L121.19,451.77 L122.03,451.17 L122.85,451.31 L123.65,451.58 L124.46,451.81 L125.28,451.48 L126.12,451.94 L127.00,452.29 L127.83,452.36 L128.71,452.65 L129.61,452.49 L130.52,452.82 L131.44,452.84 L132.34,452.37 L133.22,453.18 L134.07,453.39 L134.87,453.10 L135.60,453.85 L136.54,453.55 L137.36,454.35 L138.12,454.59 L138.83,454.26 L139.52,454.92 L140.24,454.48 L141.00,454.63 L141.86,455.66 L142.80,455.00 L143.76,455.98 L144.70,456.31 L145.55,456.25 L146.27,456.16 L146.80,456.04" fill="none" stroke="#000000" stroke-width="3.0" stroke-linejoin="round" stroke-linecap="round" clip-path="url(#b1)"/>
<path d="M128.50,365.80 C126.08,372.17 119.58,388.75 114.00,404.00 C108.42,419.25 98.17,448.42 95.00,457.30" fill="none" stroke="#328a32" stroke-opacity="0.5" stroke-width="19" stroke-linecap="round"/>
<path d="M210.20,373.85 L210.30,373.40 L210.41,372.92 L210.53,371.90 L210.67,371.28 L210.82,370.40 L210.98,369.42 L211.15,368.79 L211.33,368.61 L211.52,367.66 L211.72,366.24 L211.92,365.48 L212.13,364.46 L212.34,363.52 L212.56,362.47 L212.78,361.98 L213.00,360.82 L213.31,359.81 L213.64,358.79 L213.98,358.14 L214.34,357.76 L214.72,355.94 L215.09,356.16 L215.47,355.41 L215.86,354.50 L216.23,353.75 L216.60,352.34 L216.96,352.00 L217.30,351.10 L217.85,350.67 L218.38,349.80 L218.89,349.05 L219.40,349.26 L219.91,347.91 L220.44,348.02 L221.00,346.75 L221.62,346.03 L222.20,345.80 L222.79,345.40 L223.47,345.16 L224.32,344.20 L225.40,344.59 L226.00,344.86 L226.66,343.45 L227.38,344.19 L228.14,343.34 L228.94,342.72 L229.76,343.41 L230.61,343.47 L231.48,342.94 L232.34,342.89 L233.21,342.85 L234.06,342.76 L234.89,342.27 L235.70,342.38 L236.44,341.96 L237.20,343.12 L237.97,343.60 L238.74,343.99 L239.52,344.35 L240.29,344.06 L241.06,344.90 L241.82,344.82 L242.56,345.92 L243.29,345.44 L243.99,345.70 L244.66,346.32 L245.30,346.83 L245.90,347.05 L246.76,348.02 L247.53,348.86 L248.24,349.04 L248.89,350.06 L249.51,349.47 L250.12,349.75 L250.72,350.66 L251.34,351.72 L252.00,351.56 L252.60,351.86 L253.19,352.79 L253.77,354.22 L254.35,353.96 L254.94,354.40 L255.53,355.18 L256.14,356.07 L256.76,357.04 L257.42,357.42 L258.10,358.21 L258.75,358.08 L259.42,358.20 L260.11,358.61 L260.81,358.84 L261.54,360.04 L262.27,360.05 L263.01,360.48 L263.75,360.88 L264.50,360.75 L265.25,361.56 L266.00,361.52 L266.83,361.81 L267.66,363.13 L268.51,362.39 L269.36,363.34 L270.21,363.23 L271.07,363.24 L271.93,364.26 L272.79,363.73 L273.65,364.37 L274.50,363.40 L275.34,363.83 L276.18,363.33 L277.01,363.99 L277.83,362.80 L278.66,362.85 L279.50,363.63 L280.35,362.81 L281.21,362.46 L282.09,362.03 L283.00,362.67 L283.71,362.46 L284.43,361.59 L285.16,361.37 L285.90,360.66 L286.65,360.84 L287.41,360.28 L288.17,360.55 L288.94,360.04 L289.72,360.46 L290.50,359.90 L291.30,359.78 L292.10,359.31 L292.90,358.34 L293.60,358.37 L294.32,357.83 L295.04,357.62 L295.77,356.73 L296.50,357.44 L297.24,357.19 L297.98,356.75 L298.73,355.24 L299.48,354.68 L300.23,354.86 L300.99,354.99 L301.74,354.26 L302.50,353.92 L303.25,352.71 L304.00,352.35 L304.75,353.26 L305.51,352.25 L306.27,351.85 L307.04,351.49 L307.81,351.05 L308.58,350.65 L309.35,349.86 L310.12,349.76 L310.88,349.36 L311.65,348.88 L312.41,349.07 L313.17,349.16 L313.92,349.31 L314.66,348.95 L315.40,348.92 L316.24,348.19 L317.06,348.66 L317.88,348.05 L318.68,348.42 L319.48,348.59 L320.28,349.18 L321.07,349.98 L321.87,348.91 L322.68,349.41 L323.49,350.08 L324.31,350.74 L325.15,351.19 L326.00,350.61 L326.78,350.56 L327.60,352.16 L328.47,351.33 L329.37,352.12 L330.28,352.23 L331.20,352.44 L332.11,353.60 L333.01,353.70 L333.87,353.88 L334.70,354.18 L335.47,355.30 L336.18,355.54 L336.81,354.67 L337.35,356.00 L337.80,355.23" fill="none" stroke="#00ffff" stroke-width="2.8" stroke-linejoin="round" stroke-linecap="round" clip-path="url(#b2)"/>
<path d="M210.20,408.42 L210.36,408.33 L210.56,407.97 L210.79,407.21 L211.04,405.86 L211.32,406.27 L211.61,405.11 L211.93,404.03 L212.26,403.64 L212.60,402.80 L212.94,401.37 L213.29,400.34 L213.65,399.87 L214.00,399.34 L214.45,397.55 L214.89,397.73 L215.33,396.71 L215.78,396.20 L216.25,394.89 L216.76,394.14 L217.30,394.22 L217.90,393.29 L218.56,393.41 L219.30,393.06 L219.88,392.08 L220.50,392.15 L221.16,390.79 L221.86,390.50 L222.58,390.07 L223.33,389.71 L224.09,388.85 L224.87,389.02 L225.66,388.75 L226.44,389.08 L227.23,387.91 L228.00,387.45 L228.76,388.18 L229.50,387.66 L230.35,386.45 L231.20,386.51 L232.05,386.38 L232.90,386.89 L233.74,386.10 L234.59,386.88 L235.44,386.51 L236.29,386.69 L237.14,386.65 L237.99,386.42 L238.85,386.27 L239.70,386.87 L240.48,385.98 L241.26,386.64 L242.03,386.75 L242.80,386.62 L243.57,387.23 L244.34,387.02 L245.11,387.89 L245.90,387.45 L246.69,388.54 L247.49,388.72 L248.31,389.47 L249.15,389.30 L250.00,389.69 L250.71,389.79 L251.45,390.29 L252.20,390.41 L252.97,391.13 L253.75,391.32 L254.54,391.46 L255.34,390.77 L256.13,391.11 L256.93,392.40 L257.72,392.85 L258.50,392.12 L259.27,393.28 L260.03,392.34 L260.78,393.12 L261.50,393.03 L262.20,394.07 L263.10,393.06 L263.96,393.47 L264.80,394.12 L265.61,393.73 L266.41,394.00 L267.19,393.42 L267.97,392.68 L268.76,392.85 L269.54,393.13 L270.34,392.74 L271.16,393.33 L272.00,392.59 L272.79,392.29 L273.58,392.42 L274.38,392.00 L275.18,391.85 L275.98,391.66 L276.79,391.69 L277.61,392.34 L278.43,391.37 L279.27,391.86 L280.11,391.05 L280.96,390.85 L281.83,391.29 L282.70,390.67 L283.38,389.91 L284.09,389.35 L284.80,390.12 L285.53,388.94 L286.27,389.22 L287.02,389.01 L287.77,387.91 L288.52,387.50 L289.28,386.70 L290.02,387.24 L290.76,385.97 L291.49,386.29 L292.21,385.05 L292.91,384.82 L293.60,385.29 L294.26,384.29 L294.90,383.66 L295.77,383.35 L296.59,383.10 L297.39,383.74 L298.16,382.28 L298.90,381.83 L299.63,381.53 L300.35,381.42 L301.07,381.00 L301.78,381.07 L302.51,380.56 L303.24,380.41 L304.00,380.33 L304.75,379.87 L305.48,378.71 L306.19,378.53 L306.90,378.93 L307.61,378.41 L308.33,377.69 L309.06,378.37 L309.82,377.71 L310.62,377.40 L311.46,377.24 L312.35,377.71 L313.30,377.39 L313.98,377.45 L314.69,377.44 L315.44,377.34 L316.22,377.32 L317.02,377.61 L317.85,378.22 L318.69,377.91 L319.54,377.46 L320.39,377.93 L321.25,378.82 L322.11,378.28 L322.95,378.46 L323.79,378.65 L324.60,379.68 L325.40,379.91 L326.16,380.32 L326.90,380.18 L327.60,380.66 L328.55,380.12 L329.50,381.02 L330.44,381.14 L331.38,381.79 L332.29,382.46 L333.17,381.78 L334.01,383.28 L334.81,383.16 L335.55,382.77 L336.23,383.54 L336.83,384.12 L337.36,384.76 L337.80,384.73" fill="none" stroke="#0000ff" stroke-width="2.8" stroke-linejoin="round" stroke-linecap="round" clip-path="url(#b2)"/>
<path d="M210.20,451.00 L210.45,450.88 L210.76,449.20 L211.12,450.00 L211.53,447.71 L211.97,447.90 L212.45,445.92 L212.94,446.84 L213.45,444.33 L213.97,445.17 L214.49,444.12 L215.00,443.04 L215.51,441.91 L216.04,442.08 L216.57,441.16 L217.12,440.74 L217.68,439.40 L218.26,438.42 L218.84,438.59 L219.44,438.44 L220.05,436.70 L220.67,437.46 L221.30,436.56 L221.94,434.66 L222.60,434.28 L223.27,434.80 L223.95,435.13 L224.65,432.72 L225.35,434.03 L226.07,433.08 L226.79,432.37 L227.52,431.76 L228.26,431.57 L229.00,432.05 L229.74,429.54 L230.47,429.91 L231.20,428.94 L231.94,428.57 L232.68,428.48 L233.45,429.03 L234.23,428.72 L235.04,427.55 L235.89,428.27 L236.77,428.53 L237.70,427.17 L238.37,426.61 L239.07,427.48 L239.78,427.34 L240.52,426.15 L241.28,425.04 L242.05,426.45 L242.84,425.47 L243.63,424.40 L244.43,425.76 L245.24,423.69 L246.04,423.87 L246.85,424.93 L247.65,424.05 L248.44,423.68 L249.23,423.34 L250.00,423.17 L250.77,422.92 L251.56,422.36 L252.36,422.80 L253.16,421.85 L253.97,422.36 L254.78,421.56 L255.58,421.43 L256.38,420.56 L257.17,420.23 L257.95,421.23 L258.72,420.96 L259.46,421.07 L260.19,418.72 L260.89,420.31 L261.56,419.73 L262.20,418.98 L263.16,419.58 L264.06,418.91 L264.90,418.31 L265.70,417.89 L266.46,417.38 L267.18,417.62 L267.89,416.39 L268.59,415.67 L269.29,414.84 L270.00,415.09 L270.78,413.61 L271.55,414.47 L272.30,413.10 L273.03,413.58 L273.75,413.31 L274.46,411.90 L275.15,412.70 L275.83,411.03 L276.50,409.99 L277.15,411.33 L277.76,409.40 L278.36,409.06 L278.94,407.82 L279.52,408.39 L280.11,408.71 L280.71,406.97 L281.34,406.33 L282.00,406.16 L282.60,406.07 L283.19,405.16 L283.77,404.88 L284.37,402.91 L284.98,403.89 L285.63,403.64 L286.32,400.93 L287.07,401.79 L287.90,400.02 L288.80,400.47 L289.46,400.02 L290.18,400.83 L290.95,399.54 L291.75,400.39 L292.59,399.97 L293.44,400.38 L294.32,399.71 L295.21,399.35 L296.09,398.33 L296.97,398.19 L297.84,398.52 L298.68,399.30 L299.49,399.10 L300.27,398.13 L301.00,397.86 L301.94,399.00 L302.83,399.28 L303.67,399.04 L304.49,398.00 L305.28,399.39 L306.06,399.48 L306.83,399.65 L307.60,399.22 L308.38,400.02 L309.18,400.15 L310.00,400.60 L310.77,399.87 L311.55,401.98 L312.34,400.80 L313.13,401.90 L313.93,401.42 L314.73,401.34 L315.52,401.33 L316.31,402.40 L317.10,401.94 L317.87,403.67 L318.64,404.47 L319.40,403.15 L320.14,404.05 L320.87,403.91 L321.58,403.63 L322.28,405.26 L322.98,405.78 L323.67,405.49 L324.37,405.96 L325.07,406.48 L325.78,406.74 L326.51,407.18 L327.24,407.08 L328.00,408.52 L328.74,409.00 L329.54,408.94 L330.38,408.24 L331.25,408.79 L332.13,409.81 L333.00,409.66 L333.86,410.42 L334.69,412.12 L335.47,410.84 L336.18,411.75 L336.82,412.17 L337.36,413.07 L337.80,413.86" fill="none" stroke="#00ff00" stroke-width="2.8" stroke-linejoin="round" stroke-linecap="round" clip-path="url(#b2)"/>
<path d="M210.20,492.27 L210.38,491.38 L210.58,491.17 L210.81,489.22 L211.05,488.00 L211.31,490.73 L211.60,488.39 L211.89,485.45 L212.20,489.92 L212.53,488.61 L212.87,484.96 L213.22,487.01 L213.58,484.54 L213.94,488.99 L214.32,489.65 L214.70,489.61 L215.09,485.70 L215.48,484.93 L215.88,484.59 L216.28,481.49 L216.67,482.97 L217.07,486.18 L217.46,483.74 L217.86,482.91 L218.24,485.15 L218.63,480.49 L219.00,480.26 L219.32,481.33 L219.65,480.39 L219.98,484.77 L220.31,484.65 L220.65,481.45 L220.99,480.20 L221.33,477.99 L221.68,483.73 L222.03,478.51 L222.37,480.77 L222.72,480.01 L223.08,475.74 L223.43,478.99 L223.79,477.05 L224.14,478.16 L224.50,481.11 L224.86,479.41 L225.22,479.39 L225.58,478.92 L225.94,475.97 L226.30,477.99 L226.66,476.19 L227.01,478.22 L227.37,477.71 L227.73,474.82 L228.09,473.64 L228.44,477.58 L228.80,473.45 L229.15,473.14 L229.50,472.16 L229.86,476.91 L230.23,475.85 L230.59,470.22 L230.95,470.37 L231.32,471.24 L231.68,472.94 L232.05,475.59 L232.41,471.51 L232.78,470.59 L233.14,471.44 L233.51,468.93 L233.87,470.74 L234.23,470.63 L234.60,472.99 L234.96,469.11 L235.33,468.60 L235.69,472.45 L236.05,465.33 L236.42,471.15 L236.78,468.83 L237.14,468.50 L237.50,466.46 L237.86,469.63 L238.22,470.01 L238.58,469.67 L238.93,467.67 L239.29,464.46 L239.65,465.79 L240.00,463.67 L240.41,466.21 L240.83,467.04 L241.25,463.72 L241.67,467.75 L242.09,464.43 L242.52,466.30 L242.95,464.30 L243.37,466.60 L243.80,466.19 L244.22,464.34 L244.65,461.21 L245.07,459.75 L245.48,465.17 L245.90,461.10 L246.30,463.24 L246.71,462.69 L247.11,459.65 L247.50,463.41 L247.88,458.79 L248.26,463.33 L248.63,457.61 L248.98,459.56 L249.33,463.03 L249.67,461.04 L250.00,458.59 L250.52,456.40 L250.99,459.04 L251.44,462.64 L251.86,460.70 L252.26,456.35 L252.63,458.93 L253.00,460.51 L253.36,459.39 L253.72,457.88 L254.08,459.29 L254.45,456.09 L254.83,454.80 L255.23,458.23 L255.65,456.99 L256.10,458.15 L256.45,458.60 L256.81,457.92 L257.18,455.33 L257.56,453.75 L257.94,458.81 L258.32,454.14 L258.71,458.02 L259.11,453.57 L259.50,455.91 L259.91,453.16 L260.31,455.14 L260.72,454.78 L261.13,454.69 L261.54,449.79 L261.95,453.32 L262.36,455.59 L262.77,452.42 L263.18,451.20 L263.59,448.85 L264.00,447.92 L264.37,447.68 L264.75,448.70 L265.13,447.95 L265.51,449.60 L265.89,450.34 L266.28,449.28 L266.66,449.29 L267.05,450.24 L267.44,449.32 L267.83,447.31 L268.22,448.54 L268.61,446.14 L269.00,449.31 L269.38,451.46 L269.77,448.72 L270.15,444.36 L270.54,450.30 L270.91,444.48 L271.29,444.69 L271.66,444.91 L272.03,448.76 L272.40,448.92 L272.82,442.51 L273.24,446.25 L273.65,441.72 L274.07,446.44 L274.48,441.29 L274.89,447.55 L275.30,443.94 L275.70,441.92 L276.11,443.03 L276.51,441.19 L276.90,442.35 L277.30,444.16 L277.69,440.29 L278.08,445.16 L278.47,443.56 L278.86,441.38 L279.24,441.80 L279.62,443.77 L280.00,439.59 L280.46,441.79 L280.90,441.34 L281.31,444.11 L281.71,438.16 L282.09,438.92 L282.48,441.51 L282.86,438.01 L283.25,438.62 L283.66,438.38 L284.09,442.68 L284.54,438.94 L285.02,439.95 L285.53,440.17 L286.09,437.35 L286.70,436.03 L287.06,436.44 L287.44,438.62 L287.84,441.79 L288.26,441.37 L288.69,439.08 L289.14,437.03 L289.60,435.70 L290.07,436.45 L290.54,440.87 L291.03,439.88 L291.52,438.13 L292.02,438.85 L292.52,436.84 L293.02,440.26 L293.52,441.27 L294.02,440.43 L294.52,438.60 L295.01,436.82 L295.50,436.38 L295.98,438.58 L296.45,437.02 L296.91,438.65 L297.36,439.99 L297.79,437.65 L298.21,438.63 L298.61,439.06 L299.00,441.35 L299.52,440.49 L300.02,438.85 L300.50,435.35 L300.96,438.73 L301.40,436.94 L301.83,436.36 L302.25,439.02 L302.65,440.61 L303.05,443.00 L303.44,440.08 L303.82,440.74 L304.21,442.47 L304.59,440.51 L304.98,442.44 L305.36,439.20 L305.76,443.53 L306.16,443.05 L306.58,443.21 L307.00,443.25 L307.36,445.44 L307.71,439.41 L308.06,445.44 L308.41,444.65 L308.76,442.87 L309.11,446.14 L309.46,444.24 L309.81,442.83 L310.16,445.20 L310.51,446.93 L310.86,445.69 L311.22,445.20 L311.57,444.96 L311.93,445.34 L312.30,443.17 L312.67,443.49 L313.04,445.88 L313.42,448.85 L313.80,447.21 L314.19,447.56 L314.59,444.72 L314.99,451.74 L315.40,446.38 L315.75,447.54 L316.11,452.04 L316.47,447.85 L316.84,452.67 L317.21,451.42 L317.58,448.16 L317.96,451.65 L318.34,447.96 L318.73,453.46 L319.11,451.52 L319.50,452.44 L319.89,454.03 L320.29,450.67 L320.69,448.97 L321.09,453.40 L321.49,451.73 L321.89,451.96 L322.30,455.02 L322.70,450.99 L323.11,450.90 L323.52,454.16 L323.93,454.59 L324.34,453.73 L324.76,451.36 L325.17,453.77 L325.59,457.38 L326.00,456.83 L326.37,453.01 L326.75,456.78 L327.14,456.27 L327.55,459.18 L327.96,455.25 L328.39,457.24 L328.82,457.12 L329.25,459.37 L329.69,458.07 L330.13,455.82 L330.58,457.19 L331.02,459.13 L331.47,456.93 L331.91,456.47 L332.35,462.52 L332.78,461.54 L333.21,457.71 L333.62,458.95 L334.04,458.04 L334.44,464.19 L334.82,459.38 L335.20,458.37 L335.56,463.80 L335.91,462.68 L336.24,458.35 L336.55,460.53 L336.85,459.71 L337.12,463.01 L337.37,463.39 L337.60,463.11 L337.80,460.19" fill="none" stroke="#ff0000" stroke-width="2.6" stroke-linejoin="round" stroke-linecap="round" clip-path="url(#b2)"/>
<path d="M210.20,518.32 L210.50,517.36 L210.83,517.58 L211.19,517.41 L211.59,516.86 L212.01,516.22 L212.45,515.10 L212.93,515.23 L213.42,514.01 L213.94,514.48 L214.48,513.77 L215.04,512.04 L215.62,512.05 L216.22,511.84 L216.82,510.25 L217.45,509.19 L218.08,509.37 L218.72,508.78 L219.38,508.29 L220.04,506.78 L220.70,506.41 L221.37,505.52 L222.05,504.70 L222.72,503.77 L223.40,504.14 L224.07,503.10 L224.74,501.84 L225.40,501.65 L225.97,501.02 L226.56,500.09 L227.18,500.04 L227.81,499.05 L228.46,498.60 L229.12,499.10 L229.80,498.43 L230.49,497.80 L231.19,497.14 L231.90,495.95 L232.61,495.47 L233.33,495.38 L234.05,494.78 L234.78,494.45 L235.50,493.77 L236.22,492.92 L236.93,492.51 L237.64,492.22 L238.34,491.14 L239.03,490.38 L239.71,490.24 L240.38,490.26 L241.03,489.37 L241.66,488.34 L242.28,488.47 L242.87,488.20 L243.44,487.57 L243.99,487.32 L244.51,485.88 L245.00,486.48 L245.47,486.37 L245.90,485.91 L247.09,484.70 L248.04,483.01 L248.79,483.21 L249.38,481.84 L249.85,482.71 L250.25,481.00 L250.62,481.08 L251.01,481.41 L251.45,480.03 L252.00,479.55 L252.62,479.02 L253.26,479.34 L253.90,478.56 L254.55,477.17 L255.19,477.41 L255.82,476.86 L256.43,476.33 L257.02,476.13 L257.58,475.30 L258.10,474.49 L258.69,473.98 L259.22,473.15 L259.71,472.01 L260.16,472.32 L260.60,470.59 L261.05,469.72 L261.51,469.37 L262.00,468.55 L262.56,468.92 L263.10,467.77 L263.64,467.02 L264.20,466.43 L264.81,466.68 L265.50,465.34 L266.30,464.91 L266.93,464.55 L267.61,464.48 L268.33,463.27 L269.09,462.70 L269.88,463.17 L270.68,462.23 L271.51,462.16 L272.34,461.03 L273.17,460.84 L274.00,460.58 L274.76,461.19 L275.53,460.63 L276.32,460.19 L277.12,459.63 L277.92,459.19 L278.73,459.78 L279.54,458.97 L280.34,459.20 L281.14,459.22 L281.93,459.50 L282.70,458.10 L283.53,458.01 L284.36,458.66 L285.17,457.75 L285.98,458.50 L286.78,457.95 L287.58,458.53 L288.38,458.31 L289.18,458.10 L289.99,458.25 L290.80,457.57 L291.62,457.27 L292.43,457.72 L293.25,457.69 L294.07,458.18 L294.89,457.74 L295.72,458.96 L296.54,459.14 L297.36,458.89 L298.18,459.01 L299.00,459.13 L299.83,458.95 L300.68,459.17 L301.54,459.73 L302.40,459.53 L303.25,459.84 L304.09,461.18 L304.92,461.02 L305.71,461.47 L306.48,461.84 L307.20,462.00 L308.04,462.22 L308.80,463.14 L309.52,463.80 L310.21,463.03 L310.89,463.96 L311.56,464.58 L312.26,465.02 L313.00,465.45 L313.72,466.33 L314.50,466.78 L315.33,467.56 L316.15,467.83 L316.96,467.89 L317.72,469.55 L318.40,469.66 L318.97,470.29 L319.40,469.84" fill="none" stroke="#000000" stroke-width="3.6" stroke-linejoin="round" stroke-linecap="round" clip-path="url(#b2)"/>
<path d="M312.50,346.00 C310.42,350.83 304.92,362.67 300.00,375.00 C295.08,387.33 288.42,405.17 283.00,420.00 C277.58,434.83 270.08,456.67 267.50,464.00" fill="none" stroke="#328a32" stroke-opacity="0.5" stroke-width="19" stroke-linecap="round"/>
<path d="M382.20,344.76 L382.59,343.76 L383.09,343.30 L383.69,342.71 L384.35,342.51 L385.07,341.72 L385.81,341.51 L386.57,340.26 L387.30,340.32 L388.00,339.15 L388.74,338.87 L389.46,338.50 L390.18,338.38 L390.91,337.68 L391.67,337.02 L392.47,336.97 L393.35,336.26 L394.30,336.27 L394.99,336.29 L395.71,335.36 L396.46,335.39 L397.24,335.21 L398.04,334.63 L398.87,334.61 L399.71,334.85 L400.56,334.01 L401.42,334.12 L402.28,333.86 L403.14,333.79 L404.00,333.77 L404.80,333.35 L405.61,333.40 L406.43,333.38 L407.26,333.10 L408.10,332.73 L408.95,332.40 L409.79,332.74 L410.64,332.16 L411.49,331.98 L412.33,332.08 L413.16,331.83 L413.99,332.15 L414.80,332.16 L415.67,332.37 L416.53,332.08 L417.39,332.73 L418.24,332.40 L419.09,332.38 L419.94,333.14 L420.78,333.09 L421.62,333.38 L422.46,333.19 L423.31,333.38 L424.15,333.60 L425.00,333.94 L425.77,333.96 L426.53,334.55 L427.27,334.23 L428.00,334.73 L428.74,335.22 L429.47,334.91 L430.22,335.45 L430.98,335.76 L431.76,335.81 L432.57,335.96 L433.40,335.70 L434.28,336.17 L435.20,335.85 L435.95,336.07 L436.74,336.51 L437.57,336.39 L438.43,336.11 L439.31,336.20 L440.22,336.77 L441.14,336.76 L442.06,336.97 L442.98,336.73 L443.89,337.01 L444.79,337.22 L445.67,336.65 L446.52,336.88 L447.33,337.34 L448.10,337.33 L448.83,337.26 L449.50,337.57 L450.64,337.87 L451.64,337.75 L452.53,337.75 L453.34,338.17 L454.09,338.24 L454.80,338.51 L455.51,338.96 L456.23,338.87 L457.00,339.14 L457.79,339.69 L458.57,339.79 L459.34,340.43 L460.10,340.58 L460.86,341.26 L461.60,341.07 L462.34,342.15 L463.07,341.96 L463.80,342.28 L464.60,342.96 L465.39,343.48 L466.17,343.44 L466.94,344.00 L467.71,343.77 L468.47,344.36 L469.23,344.71 L470.00,345.26 L470.86,345.22 L471.70,345.51 L472.53,345.79 L473.37,346.07 L474.23,345.91 L475.13,346.41 L476.10,346.40 L476.90,346.29 L477.72,346.62 L478.58,346.12 L479.45,346.13 L480.35,346.73 L481.26,346.13 L482.17,346.40 L483.09,346.45 L484.00,346.29 L484.83,346.17 L485.68,345.54 L486.54,346.07 L487.40,345.50 L488.27,346.03 L489.14,345.17 L490.00,345.63 L490.85,345.39 L491.69,345.22 L492.50,345.27 L493.37,345.59 L494.21,345.12 L495.03,345.71 L495.83,345.40 L496.63,345.61 L497.44,346.12 L498.27,346.25 L499.12,346.19 L500.00,346.27 L500.78,345.95 L501.64,346.20 L502.54,346.37 L503.47,346.00 L504.41,346.43 L505.32,346.05 L506.19,346.49 L507.00,346.77 L507.72,346.81 L508.33,346.75 L508.80,346.25" fill="none" stroke="#808000" stroke-width="1.4" stroke-linejoin="round" stroke-linecap="round" clip-path="url(#b3)"/>
<path d="M382.20,372.10 L382.32,371.30 L382.46,370.82 L382.62,370.33 L382.81,369.03 L383.01,368.56 L383.23,367.46 L383.46,366.79 L383.71,365.65 L383.97,364.94 L384.23,364.14 L384.50,363.24 L384.80,362.37 L385.11,361.09 L385.43,360.40 L385.76,359.56 L386.11,359.23 L386.48,358.23 L386.87,357.61 L387.28,356.98 L387.73,356.12 L388.20,355.53 L388.70,354.84 L389.23,354.61 L389.79,353.38 L390.37,352.59 L390.97,352.56 L391.59,351.27 L392.24,351.29 L392.91,350.27 L393.59,349.98 L394.30,349.57 L395.05,349.50 L395.85,348.94 L396.69,348.40 L397.56,348.53 L398.44,348.36 L399.31,348.45 L400.17,348.45 L401.00,348.81 L401.78,348.47 L402.50,348.33 L403.42,348.62 L404.23,348.65 L404.98,348.76 L405.69,349.02 L406.41,349.82 L407.17,349.80 L408.00,350.28 L408.69,350.69 L409.40,351.14 L410.12,351.91 L410.86,351.81 L411.61,352.54 L412.38,353.01 L413.17,353.72 L413.98,354.10 L414.80,354.94 L415.39,355.01 L415.99,355.19 L416.60,356.10 L417.22,356.18 L417.86,357.49 L418.50,357.54 L419.14,358.29 L419.79,359.00 L420.44,359.19 L421.09,360.01 L421.73,360.63 L422.37,361.73 L423.00,361.72 L423.55,362.81 L424.09,363.28 L424.65,363.94 L425.20,364.62 L425.75,365.00 L426.30,366.02 L426.86,366.34 L427.41,366.82 L427.95,367.22 L428.49,367.89 L429.03,368.81 L429.56,369.55 L430.08,369.64 L430.60,370.15 L431.10,371.19 L431.77,371.29 L432.42,371.83 L433.05,372.85 L433.68,373.67 L434.29,373.87 L434.90,374.62 L435.50,374.49 L436.11,375.33 L436.73,375.64 L437.36,375.97 L438.00,376.57 L438.72,377.16 L439.46,377.24 L440.21,378.15 L440.96,378.78 L441.72,378.63 L442.47,379.08 L443.22,380.26 L443.96,380.49 L444.69,380.75 L445.40,380.83 L446.17,381.80 L446.92,382.30 L447.66,382.38 L448.38,382.98 L449.10,383.45 L449.82,383.22 L450.54,383.94 L451.27,383.97 L452.00,384.59 L452.84,384.61 L453.68,384.74 L454.52,385.35 L455.37,385.24 L456.21,385.74 L457.05,385.77 L457.88,386.08 L458.70,385.70 L459.50,386.16 L460.29,385.81 L461.06,385.87 L461.83,385.57 L462.60,384.92 L463.39,384.76 L464.18,384.61 L465.00,384.45 L465.74,384.16 L466.49,384.27 L467.24,383.99 L468.01,383.17 L468.78,383.64 L469.57,383.22 L470.36,382.81 L471.17,382.75 L472.00,381.81 L472.76,381.98 L473.53,381.88 L474.31,381.73 L475.11,380.97 L475.91,381.22 L476.72,380.68 L477.54,380.69 L478.36,380.07 L479.18,380.08 L480.00,379.56 L480.84,379.24 L481.70,379.24 L482.58,378.81 L483.47,378.40 L484.35,378.07 L485.22,377.79 L486.07,377.44 L486.89,377.29 L487.67,377.35 L488.40,376.78 L489.34,377.30 L490.17,377.34 L490.94,376.97 L491.68,377.54 L492.41,377.66 L493.17,377.87 L494.00,377.65 L494.82,378.59 L495.73,378.21 L496.69,378.99 L497.65,379.35 L498.56,379.45 L499.39,379.36 L500.08,379.30 L500.60,379.44" fill="none" stroke="#0000ff" stroke-width="2.0" stroke-linejoin="round" stroke-linecap="round" clip-path="url(#b3)"/>
<path d="M382.20,427.41 L382.31,427.00 L382.44,426.36 L382.60,425.48 L382.77,424.23 L382.96,423.78 L383.16,422.59 L383.37,421.72 L383.59,420.32 L383.80,420.05 L384.00,418.88 L384.24,418.10 L384.46,417.46 L384.68,416.40 L384.91,415.85 L385.17,415.25 L385.46,414.57 L385.80,413.16 L386.20,413.10 L386.74,412.60 L387.36,411.87 L388.04,411.12 L388.76,410.19 L389.51,409.60 L390.26,409.53 L391.00,409.20 L391.70,408.67 L392.36,407.81 L393.02,407.59 L393.72,407.79 L394.49,406.86 L395.37,406.87 L396.40,406.52 L397.10,406.50 L397.88,406.76 L398.72,406.60 L399.62,406.13 L400.55,405.71 L401.50,405.71 L402.45,405.48 L403.38,405.71 L404.27,405.99 L405.12,405.64 L405.90,405.42 L406.60,405.45 L407.61,405.47 L408.45,406.12 L409.17,406.09 L409.83,406.81 L410.49,406.94 L411.19,407.16 L412.00,407.55 L412.69,407.40 L413.41,407.95 L414.14,408.36 L414.90,408.46 L415.67,409.62 L416.46,409.56 L417.26,409.91 L418.07,410.55 L418.90,411.06 L419.59,411.10 L420.30,411.65 L421.02,412.04 L421.75,411.90 L422.50,412.77 L423.24,413.16 L424.00,413.61 L424.75,413.41 L425.50,413.84 L426.26,414.19 L427.00,414.66 L427.81,414.97 L428.61,414.63 L429.40,414.87 L430.20,415.23 L430.99,415.91 L431.80,415.93 L432.62,415.68 L433.46,415.53 L434.31,415.75 L435.20,415.85 L435.96,415.59 L436.73,415.85 L437.52,415.71 L438.31,415.32 L439.12,415.78 L439.94,415.10 L440.77,415.13 L441.61,414.92 L442.45,414.57 L443.30,414.83 L444.15,414.34 L445.00,413.90 L445.80,413.86 L446.62,413.51 L447.46,413.23 L448.30,413.08 L449.16,413.25 L450.02,412.47 L450.87,412.56 L451.72,412.12 L452.56,412.31 L453.38,411.42 L454.18,411.44 L454.95,411.02 L455.70,410.72 L456.48,410.66 L457.23,410.10 L457.95,409.17 L458.66,409.38 L459.34,408.83 L460.02,407.62 L460.68,407.17 L461.34,406.99 L462.00,406.78 L462.66,405.66 L463.33,405.10 L464.00,404.91 L464.74,404.28 L465.47,403.96 L466.20,403.44 L466.93,403.14 L467.66,402.35 L468.38,402.09 L469.10,402.10 L469.83,401.17 L470.55,401.25 L471.27,400.70 L472.00,400.69 L472.80,400.08 L473.59,400.66 L474.39,400.60 L475.18,400.35 L475.97,400.85 L476.77,400.61 L477.57,401.30 L478.37,400.92 L479.18,401.54 L480.00,401.13 L480.84,401.88 L481.70,401.55 L482.58,402.20 L483.47,401.92 L484.35,402.63 L485.22,402.75 L486.07,402.98 L486.89,403.33 L487.67,403.25 L488.40,403.84 L489.34,403.94 L490.17,403.95 L490.94,404.98 L491.68,405.26 L492.41,404.87 L493.17,405.59 L494.00,406.12 L494.73,406.13 L495.53,406.92 L496.37,407.03 L497.23,407.57 L498.06,407.90 L498.85,408.86 L499.56,409.57 L500.15,409.46 L500.60,409.69" fill="none" stroke="#00ff00" stroke-width="2.0" stroke-linejoin="round" stroke-linecap="round" clip-path="url(#b3)"/>
<path d="M382.20,476.07 L382.45,475.50 L382.78,475.07 L383.17,474.70 L383.60,473.91 L384.07,472.87 L384.56,472.17 L385.05,471.71 L385.53,470.40 L386.00,470.33 L386.50,469.49 L386.98,468.62 L387.47,468.31 L387.97,467.62 L388.49,466.46 L389.04,466.21 L389.64,465.47 L390.30,465.27 L390.93,464.23 L391.61,464.12 L392.32,463.33 L393.06,463.50 L393.83,462.69 L394.61,462.59 L395.40,462.36 L396.20,462.10 L397.00,461.44 L397.73,461.06 L398.49,461.22 L399.26,460.92 L400.05,460.22 L400.84,460.33 L401.62,460.08 L402.40,459.30 L403.16,459.53 L403.90,458.62 L404.60,458.76 L405.55,458.16 L406.45,458.31 L407.31,458.25 L408.15,457.96 L408.99,457.67 L409.83,457.12 L410.70,457.13 L411.59,457.73 L412.49,457.52 L413.40,457.44 L414.31,457.17 L415.22,457.70 L416.11,458.02 L417.00,457.58 L417.86,457.87 L418.68,457.90 L419.49,458.06 L420.30,458.06 L421.15,458.24 L422.04,458.30 L423.00,457.96 L423.72,457.83 L424.47,457.48 L425.24,457.16 L426.04,457.25 L426.86,456.60 L427.68,456.36 L428.51,456.42 L429.35,456.34 L430.18,455.49 L431.00,455.34 L431.83,454.91 L432.67,454.75 L433.52,455.06 L434.38,454.10 L435.23,454.36 L436.08,454.09 L436.92,453.39 L437.74,453.18 L438.53,452.71 L439.30,452.77 L440.11,452.16 L440.88,451.69 L441.62,451.72 L442.34,451.09 L443.05,450.65 L443.76,450.67 L444.48,449.91 L445.22,450.29 L446.00,449.55 L446.74,449.20 L447.51,448.72 L448.31,448.26 L449.13,447.98 L449.94,447.18 L450.75,447.24 L451.53,446.94 L452.27,446.25 L452.97,446.06 L453.60,445.70 L454.50,445.07 L455.25,444.24 L455.91,444.14 L456.55,443.30 L457.22,443.24 L458.00,442.34 L458.64,442.12 L459.30,441.74 L459.97,441.44 L460.66,440.65 L461.39,440.22 L462.15,440.50 L462.95,439.64 L463.80,439.79 L464.53,439.18 L465.31,438.61 L466.12,438.40 L466.96,438.12 L467.83,437.98 L468.69,437.53 L469.55,437.23 L470.40,437.04 L471.22,436.63 L472.00,436.30 L472.93,436.02 L473.83,436.58 L474.70,436.21 L475.56,436.52 L476.41,436.93 L477.26,436.79 L478.12,436.98 L479.00,437.68 L479.80,437.63 L480.61,438.04 L481.43,438.26 L482.26,438.64 L483.08,438.35 L483.90,438.38 L484.71,438.77 L485.51,439.53 L486.30,439.13 L487.16,439.88 L488.00,439.94 L488.82,440.52 L489.63,440.89 L490.45,440.93 L491.28,441.32 L492.12,441.48 L493.00,441.68 L493.76,442.01 L494.58,442.49 L495.45,442.89 L496.34,443.86 L497.22,443.55 L498.06,444.58 L498.85,444.33 L499.55,445.40 L500.14,445.44 L500.60,445.34" fill="none" stroke="#ff0000" stroke-width="1.7" stroke-linejoin="round" stroke-linecap="round" clip-path="url(#b3)"/>
<path d="M382.20,523.32 L382.42,523.30 L382.64,523.24 L382.89,522.40 L383.14,523.02 L383.40,522.67 L383.67,522.67 L383.96,521.63 L384.25,522.31 L384.56,521.95 L384.87,521.15 L385.20,521.53 L385.53,521.25 L385.88,520.76 L386.23,520.78 L386.59,520.13 L386.96,519.79 L387.34,519.79 L387.72,519.99 L388.11,519.06 L388.51,518.86 L388.92,518.82 L389.33,518.71 L389.75,518.75 L390.18,518.16 L390.61,517.55 L391.05,517.31 L391.49,517.38 L391.94,517.34 L392.39,517.05 L392.84,516.40 L393.31,515.81 L393.77,516.07 L394.24,515.12 L394.71,515.51 L395.19,514.59 L395.67,514.14 L396.15,513.71 L396.63,513.81 L397.12,513.41 L397.60,513.46 L398.09,513.29 L398.58,512.54 L399.07,512.72 L399.56,512.46 L400.06,511.51 L400.55,511.00 L401.04,510.58 L401.53,510.45 L402.03,510.20 L402.52,510.54 L403.01,509.53 L403.50,509.07 L403.98,509.54 L404.47,508.88 L404.95,508.61 L405.43,508.46 L405.91,507.80 L406.38,507.80 L406.85,507.33 L407.32,506.49 L407.78,506.11 L408.24,506.57 L408.70,505.52 L409.09,506.01 L409.49,505.35 L409.90,505.62 L410.31,504.48 L410.73,504.21 L411.15,504.80 L411.57,503.81 L412.00,504.09 L412.44,503.23 L412.88,503.32 L413.32,502.65 L413.76,502.69 L414.21,502.59 L414.67,502.13 L415.12,502.12 L415.58,501.27 L416.04,501.20 L416.51,500.97 L416.97,500.96 L417.44,500.39 L417.91,499.44 L418.38,499.58 L418.85,498.80 L419.32,498.79 L419.80,499.06 L420.27,498.20 L420.75,497.94 L421.22,498.14 L421.70,497.60 L422.17,496.69 L422.65,497.26 L423.12,496.61 L423.59,496.52 L424.06,496.15 L424.53,496.01 L425.00,494.87 L425.47,494.46 L425.94,494.10 L426.40,494.27 L426.86,493.46 L427.32,493.91 L427.77,492.99 L428.22,493.34 L428.67,492.56 L429.12,492.43 L429.56,491.72 L430.00,491.52 L430.43,491.08 L430.86,491.39 L431.29,490.54 L431.71,490.34 L432.12,490.33 L432.53,490.64 L432.93,489.92 L433.33,489.72 L433.73,489.18 L434.11,488.62 L434.49,488.38 L434.87,488.63 L435.23,488.84 L435.60,488.25 L435.95,487.65 L436.29,487.50 L436.63,487.87 L436.96,486.90 L437.29,487.37 L437.60,486.69 L437.91,486.77 L438.20,486.35 L438.49,485.70 L438.77,485.59 L439.04,486.09 L439.30,485.72 L440.37,485.00 L441.27,484.66 L442.02,484.04 L442.63,483.14 L443.13,483.31 L443.52,482.54 L443.83,482.39 L444.08,481.72 L444.29,482.08 L444.46,481.46 L444.63,481.11 L444.81,481.42 L445.02,480.78 L445.28,481.45 L445.60,481.26 L446.00,480.75 L446.40,479.88 L446.81,479.93 L447.22,479.53 L447.63,479.75 L448.05,479.33 L448.47,478.57 L448.89,478.83 L449.32,477.86 L449.75,477.70 L450.18,477.15 L450.62,477.09 L451.05,477.33 L451.49,476.41 L451.93,476.39 L452.37,476.68 L452.81,475.76 L453.26,476.41 L453.70,475.52 L454.22,475.89 L454.77,475.34 L455.34,475.30 L455.93,475.07 L456.53,475.20 L457.13,475.02 L457.74,474.94 L458.33,474.98 L458.91,474.52 L459.47,474.97 L460.00,474.60 L460.49,474.78 L460.95,474.67 L461.36,474.36 L461.71,474.57 L462.00,474.83" fill="none" stroke="#000000" stroke-width="1.6" stroke-linejoin="round" stroke-linecap="round" clip-path="url(#b3)"/>
<path d="M462.00,472.15 L462.26,473.03 L462.58,476.93 L462.94,474.44 L463.34,472.40 L463.79,476.09 L464.26,475.90 L464.76,475.50 L465.27,472.65 L465.81,477.70 L466.35,472.71 L466.89,476.03 L467.44,475.04 L467.97,477.14 L468.50,475.59 L469.00,475.25 L469.44,476.67 L469.90,473.43 L470.36,476.86 L470.84,477.89 L471.31,475.44 L471.80,475.84 L472.28,475.59 L472.77,475.46 L473.25,476.76 L473.73,476.54 L474.21,477.41 L474.67,477.07 L475.13,474.35 L475.57,477.89 L476.00,476.84 L476.41,474.90 L476.80,479.06 L477.32,475.47 L477.82,478.37 L478.28,476.45 L478.72,478.62 L479.15,478.33 L479.56,475.73 L479.96,478.48 L480.36,478.94 L480.75,478.34 L481.16,480.84 L481.57,476.38 L482.00,479.84 L482.40,477.11 L482.81,479.38 L483.21,477.85 L483.61,481.74 L484.01,479.33 L484.42,479.41 L484.82,478.93 L485.23,481.28 L485.64,479.56 L486.05,481.93 L486.46,481.74 L486.88,479.73 L487.30,480.21 L487.69,480.24 L488.09,480.06 L488.49,483.61 L488.89,482.95 L489.30,483.73 L489.70,483.70 L490.11,485.17 L490.52,484.63 L490.93,486.19 L491.35,485.04 L491.76,485.56 L492.17,484.84 L492.59,482.77 L493.00,485.31 L493.40,483.91 L493.82,485.03 L494.26,486.23 L494.71,484.23 L495.17,485.34 L495.63,488.04 L496.08,488.63 L496.53,488.34 L496.96,485.55 L497.36,486.82 L497.74,489.58 L498.09,489.78 L498.41,488.95 L498.68,490.36 L498.90,490.48" fill="none" stroke="#000000" stroke-width="1.2" stroke-linejoin="round" stroke-linecap="round" clip-path="url(#b3)"/>
<path d="M499.6,481.5 V510.5" stroke="#000" stroke-width="1.1"/>
<path d="M502.50,343.50 C500.62,346.72 494.70,356.37 491.20,362.80 C487.70,369.23 484.50,375.67 481.50,382.10 C478.50,388.53 475.77,394.98 473.20,401.40 C470.63,407.82 468.25,414.18 466.10,420.60 C463.95,427.02 462.03,433.47 460.30,439.90 C458.57,446.33 457.25,452.60 455.70,459.20 C454.15,465.80 451.78,476.12 451.00,479.50" fill="none" stroke="#328a32" stroke-opacity="0.5" stroke-width="19.5" stroke-linecap="round"/>
<path d="M556.30,378.27 L556.42,377.86 L556.56,376.91 L556.73,376.42 L556.91,375.13 L557.12,374.47 L557.34,373.53 L557.56,372.47 L557.80,371.38 L558.03,370.69 L558.27,369.76 L558.50,369.04 L558.81,368.22 L559.12,367.18 L559.44,366.32 L559.77,365.69 L560.12,365.01 L560.49,364.23 L560.88,363.62 L561.30,362.93 L561.90,362.35 L562.53,361.28 L563.19,360.66 L563.91,360.18 L564.67,360.05 L565.50,359.26 L566.24,358.89 L567.01,359.10 L567.82,358.62 L568.67,358.07 L569.58,358.11 L570.55,357.88 L571.60,357.41 L572.33,357.56 L573.11,357.29 L573.94,357.42 L574.80,357.13 L575.68,357.21 L576.58,356.77 L577.47,356.87 L578.35,356.92 L579.21,356.94 L580.03,356.51 L580.80,357.00 L581.68,356.54 L582.52,357.22 L583.31,357.26 L584.09,357.23 L584.85,357.80 L585.61,357.69 L586.38,358.42 L587.17,358.40 L588.00,358.91 L588.71,359.13 L589.43,359.83 L590.18,360.35 L590.93,360.22 L591.69,361.18 L592.45,361.13 L593.21,361.61 L593.95,362.33 L594.69,362.47 L595.41,363.16 L596.10,364.03 L596.72,364.24 L597.31,364.76 L597.90,365.45 L598.47,366.07 L599.03,366.68 L599.59,367.11 L600.15,367.85 L600.71,368.26 L601.27,369.17 L601.83,369.37 L602.41,370.33 L603.00,370.78 L603.51,371.31 L604.03,372.42 L604.55,372.71 L605.07,373.67 L605.60,374.49 L606.13,374.99 L606.66,375.70 L607.19,376.55 L607.72,377.02 L608.26,377.90 L608.79,378.21 L609.33,379.18 L609.86,379.60 L610.40,380.49 L610.98,380.67 L611.55,381.32 L612.12,382.01 L612.69,382.91 L613.26,383.50 L613.83,384.15 L614.41,384.42 L614.99,385.09 L615.57,385.63 L616.17,386.51 L616.77,386.71 L617.38,387.56 L618.00,387.98 L618.64,388.34 L619.29,389.02 L619.96,389.52 L620.64,390.00 L621.33,390.67 L622.02,391.34 L622.72,391.99 L623.41,392.48 L624.09,392.60 L624.77,393.36 L625.43,393.86 L626.07,393.97 L626.70,394.47 L627.49,395.15 L628.25,395.69 L629.00,396.18 L629.73,396.56 L630.45,397.14 L631.16,397.21 L631.87,397.87 L632.58,398.05 L633.28,398.92 L634.00,399.27 L634.80,399.14 L635.60,399.49 L636.39,399.74 L637.18,400.08 L637.97,400.36 L638.76,400.88 L639.54,400.58 L640.32,400.96 L641.10,400.71 L641.97,401.15 L642.83,401.23 L643.68,400.92 L644.53,401.03 L645.38,400.65 L646.24,401.02 L647.11,400.58 L648.00,400.54 L648.79,400.64 L649.57,399.91 L650.35,399.81 L651.13,399.77 L651.93,399.86 L652.75,399.17 L653.60,398.99 L654.48,398.84 L655.40,398.61 L656.12,398.53 L656.87,398.06 L657.64,397.78 L658.43,397.70 L659.23,397.75 L660.05,397.52 L660.87,397.26 L661.70,396.68 L662.53,396.56 L663.36,396.37 L664.19,396.32 L665.00,395.93 L665.84,395.51 L666.74,395.43 L667.67,395.34 L668.61,395.01 L669.57,394.79 L670.50,394.87 L671.40,394.54 L672.25,394.67 L673.03,394.31 L673.73,394.40 L674.33,394.19 L674.80,393.92" fill="none" stroke="#0000ff" stroke-width="2.0" stroke-linejoin="round" stroke-linecap="round" clip-path="url(#b4)"/>
<path d="M556.30,420.18 L556.43,419.72 L556.59,418.82 L556.78,418.03 L556.99,416.94 L557.22,416.38 L557.47,414.90 L557.73,413.83 L557.99,413.32 L558.25,412.45 L558.50,411.56 L558.82,410.45 L559.14,409.59 L559.47,408.78 L559.81,408.04 L560.16,407.47 L560.52,406.92 L560.90,405.96 L561.30,405.75 L561.97,405.13 L562.68,404.49 L563.42,404.04 L564.19,403.52 L565.00,402.83 L565.81,402.48 L566.61,402.72 L567.47,402.46 L568.41,402.65 L569.50,402.10 L570.19,402.47 L570.94,402.38 L571.73,401.68 L572.56,401.79 L573.41,401.94 L574.27,401.69 L575.11,401.63 L575.92,401.37 L576.70,401.36 L577.53,401.75 L578.32,402.05 L579.10,402.19 L579.86,402.13 L580.63,402.59 L581.40,402.58 L582.19,403.38 L583.00,403.76 L583.74,403.94 L584.49,404.09 L585.24,404.17 L586.01,404.66 L586.78,404.93 L587.57,405.42 L588.36,405.89 L589.17,406.48 L590.00,406.62 L590.63,407.09 L591.27,407.54 L591.92,407.75 L592.58,408.40 L593.25,409.13 L593.92,409.39 L594.59,409.87 L595.27,410.59 L595.96,411.06 L596.64,411.69 L597.32,412.32 L598.00,413.23 L598.59,413.40 L599.18,414.23 L599.77,414.48 L600.37,415.31 L600.97,415.98 L601.57,416.53 L602.17,417.12 L602.77,417.92 L603.37,418.11 L603.96,419.08 L604.56,419.46 L605.14,419.85 L605.72,420.60 L606.30,421.06 L607.02,421.36 L607.72,422.02 L608.42,422.46 L609.10,422.83 L609.78,423.56 L610.47,423.76 L611.15,424.21 L611.84,424.64 L612.55,425.01 L613.26,425.34 L614.00,425.42 L614.76,425.82 L615.54,426.22 L616.34,426.41 L617.15,426.53 L617.97,426.81 L618.78,427.14 L619.60,427.29 L620.40,428.06 L621.19,427.72 L621.96,428.12 L622.70,428.24 L623.57,428.06 L624.42,428.24 L625.25,428.19 L626.06,428.27 L626.85,427.67 L627.64,427.96 L628.42,427.20 L629.21,426.99 L630.00,426.70 L630.79,426.92 L631.58,426.39 L632.36,426.31 L633.13,425.89 L633.91,425.28 L634.68,424.99 L635.45,424.69 L636.22,424.72 L637.00,424.34 L637.78,423.78 L638.55,423.48 L639.32,423.06 L640.09,422.94 L640.87,422.28 L641.64,422.01 L642.42,421.87 L643.21,421.09 L644.00,420.73 L644.77,420.97 L645.51,420.24 L646.23,420.14 L646.96,420.14 L647.70,419.44 L648.49,419.34 L649.34,419.13 L650.27,419.09 L651.30,419.23 L651.97,419.19 L652.69,418.80 L653.44,418.79 L654.23,419.07 L655.04,418.74 L655.87,418.88 L656.72,419.14 L657.58,419.35 L658.45,419.30 L659.32,419.26 L660.18,419.28 L661.04,419.36 L661.88,419.65 L662.70,419.69 L663.50,419.96 L664.36,420.11 L665.26,420.21 L666.18,420.59 L667.12,421.08 L668.07,421.01 L669.00,421.06 L669.91,421.76 L670.80,421.69 L671.64,422.08 L672.42,422.54 L673.14,422.47 L673.79,422.93 L674.34,422.77 L674.80,423.22" fill="none" stroke="#00ff00" stroke-width="2.0" stroke-linejoin="round" stroke-linecap="round" clip-path="url(#b4)"/>
<path d="M556.30,467.91 L556.54,467.66 L556.84,467.25 L557.20,466.30 L557.60,465.38 L558.04,464.58 L558.50,463.69 L558.99,462.72 L559.49,461.91 L560.00,461.33 L560.58,460.88 L561.18,460.07 L561.80,459.56 L562.46,458.97 L563.14,458.60 L563.86,457.67 L564.61,457.32 L565.40,456.75 L566.07,456.66 L566.76,456.02 L567.48,456.00 L568.22,455.27 L568.99,455.00 L569.77,454.84 L570.56,454.78 L571.37,454.42 L572.18,454.29 L573.00,454.11 L573.76,453.63 L574.55,453.53 L575.36,453.67 L576.18,453.45 L577.01,453.12 L577.84,453.27 L578.67,452.88 L579.48,452.78 L580.28,452.51 L581.06,452.53 L581.80,452.47 L582.67,452.45 L583.51,453.00 L584.32,452.59 L585.12,453.18 L585.89,453.42 L586.67,453.20 L587.44,453.62 L588.21,453.88 L589.00,453.82 L589.79,454.44 L590.57,454.24 L591.34,454.98 L592.12,455.22 L592.90,455.60 L593.68,455.60 L594.47,456.13 L595.28,456.77 L596.10,456.70 L596.86,457.26 L597.62,457.55 L598.40,457.38 L599.18,457.81 L599.97,458.19 L600.77,458.29 L601.57,458.81 L602.38,458.85 L603.19,459.14 L604.00,459.55 L604.82,459.77 L605.64,459.84 L606.48,460.07 L607.31,460.46 L608.16,460.92 L609.00,461.08 L609.85,460.81 L610.70,461.17 L611.55,461.31 L612.40,461.57 L613.25,461.60 L614.09,461.13 L614.93,461.10 L615.77,460.89 L616.61,460.70 L617.46,460.54 L618.33,460.85 L619.20,460.39 L620.09,460.03 L621.00,459.83 L621.77,459.64 L622.55,459.83 L623.33,459.31 L624.13,459.60 L624.93,459.37 L625.74,458.86 L626.56,458.79 L627.39,458.43 L628.22,458.46 L629.07,458.58 L629.93,458.27 L630.80,457.53 L631.56,457.62 L632.33,457.07 L633.11,456.95 L633.90,456.94 L634.69,456.25 L635.50,456.07 L636.31,455.84 L637.12,455.26 L637.94,455.38 L638.75,454.77 L639.57,454.38 L640.38,454.09 L641.19,453.84 L642.00,453.37 L642.80,453.28 L643.60,452.89 L644.40,452.73 L645.19,452.45 L645.99,451.65 L646.78,451.56 L647.58,451.26 L648.38,450.91 L649.19,450.64 L650.00,450.14 L650.81,449.82 L651.63,450.12 L652.46,449.75 L653.30,449.67 L654.10,449.82 L654.91,449.38 L655.75,449.71 L656.59,449.58 L657.44,449.67 L658.30,449.92 L659.15,449.51 L660.01,449.99 L660.86,449.92 L661.69,450.34 L662.52,450.03 L663.32,450.14 L664.11,450.46 L664.87,450.76 L665.60,450.64 L666.59,451.01 L667.59,451.30 L668.58,451.14 L669.56,451.30 L670.51,451.56 L671.41,452.10 L672.26,452.12 L673.04,452.47 L673.73,453.01 L674.32,453.03 L674.80,453.28" fill="none" stroke="#ff0000" stroke-width="1.7" stroke-linejoin="round" stroke-linecap="round" clip-path="url(#b4)"/>
<path d="M556.30,525.11 L556.50,524.79 L556.72,525.45 L556.95,524.36 L557.19,524.29 L557.45,524.77 L557.71,524.39 L557.99,523.69 L558.28,523.04 L558.58,522.98 L558.89,522.66 L559.21,522.94 L559.54,522.12 L559.87,521.57 L560.22,521.72 L560.58,522.06 L560.94,521.41 L561.32,521.32 L561.70,520.92 L562.09,520.28 L562.48,519.99 L562.88,519.75 L563.29,519.46 L563.71,519.15 L564.13,517.83 L564.56,517.88 L564.99,518.15 L565.43,517.60 L565.87,516.76 L566.32,516.27 L566.77,515.76 L567.22,515.90 L567.68,515.81 L568.14,514.46 L568.61,514.10 L569.07,514.25 L569.54,513.82 L570.01,513.64 L570.49,513.64 L570.96,513.24 L571.44,512.96 L571.91,512.35 L572.39,512.20 L572.86,512.10 L573.34,511.51 L573.81,510.56 L574.29,511.02 L574.76,510.67 L575.23,510.50 L575.70,510.06 L576.11,509.48 L576.53,509.33 L576.96,508.68 L577.40,509.01 L577.84,509.39 L578.29,508.05 L578.74,508.83 L579.20,508.76 L579.67,507.73 L580.14,507.73 L580.61,508.05 L581.09,507.59 L581.57,506.86 L582.06,506.58 L582.55,506.54 L583.05,507.12 L583.55,506.63 L584.05,506.89 L584.55,506.44 L585.05,506.45 L585.56,505.70 L586.07,505.96 L586.58,505.19 L587.09,504.87 L587.60,505.32 L588.11,505.46 L588.63,505.47 L589.14,504.53 L589.65,505.07 L590.16,505.01 L590.67,504.16 L591.18,504.00 L591.68,504.14 L592.19,503.29 L592.69,504.02 L593.19,503.66 L593.69,503.52 L594.18,503.65 L594.67,503.18 L595.16,502.70 L595.64,502.41 L596.12,503.19 L596.59,502.33 L597.06,502.57 L597.53,502.06 L597.98,501.71 L598.44,502.51 L598.88,501.58 L599.32,501.72 L599.76,502.02 L600.18,501.92 L600.60,500.75 L601.01,500.74 L601.42,500.91 L601.81,500.93 L602.20,500.34 L602.83,500.27 L603.44,500.19 L604.05,500.44 L604.64,499.59 L605.23,499.64 L605.80,498.91 L606.37,499.29 L606.93,498.58 L607.48,498.62 L608.02,498.51 L608.55,498.95 L609.07,498.48 L609.58,497.67 L610.09,497.63 L610.58,497.44 L611.07,497.82 L611.55,497.24 L612.02,497.36 L612.49,497.35 L612.94,496.65 L613.39,496.73 L613.83,496.97 L614.27,496.20 L614.69,496.81 L615.11,495.64 L615.53,495.90 L615.93,496.12 L616.33,495.02 L616.73,495.28 L617.11,495.48 L617.49,495.01 L617.87,495.39 L618.24,494.29 L618.60,495.02 L619.22,494.21 L619.79,494.40 L620.32,493.63 L620.81,493.28 L621.27,492.60 L621.70,492.45 L622.10,492.76 L622.48,491.91 L622.85,491.59 L623.21,491.96 L623.56,491.76 L623.91,490.81 L624.26,490.75 L624.62,490.86 L625.00,490.21 L625.39,490.27 L625.80,489.49 L626.23,489.90 L626.70,490.03 L627.14,489.68 L627.60,488.85 L628.07,488.67 L628.54,489.17 L629.03,489.09 L629.52,487.98 L630.02,488.92 L630.52,487.84 L631.03,487.99 L631.54,488.25 L632.05,488.24 L632.56,487.48 L633.07,488.11 L633.58,487.39 L634.09,486.88 L634.59,486.92 L635.09,487.77 L635.58,486.83 L636.06,486.92 L636.54,487.43 L637.00,487.09 L637.53,487.52 L638.05,487.32 L638.57,486.55 L639.08,486.90 L639.58,487.31 L640.08,487.32 L640.58,487.64 L641.07,486.56 L641.56,486.89 L642.04,487.03 L642.53,486.86 L643.02,487.90 L643.51,487.16 L644.00,487.57 L644.49,487.38 L644.99,487.24 L645.49,488.24 L646.00,488.40 L646.49,488.05 L646.99,488.14 L647.49,488.47 L648.00,488.34 L648.52,488.39 L649.03,489.20 L649.55,488.29 L650.07,489.38 L650.59,489.25 L651.11,489.07 L651.62,488.86 L652.13,489.89 L652.62,489.94 L653.12,489.59 L653.60,489.79 L654.07,490.05 L654.53,490.73 L654.97,490.53 L655.40,490.89 L655.96,490.27 L656.50,490.54 L657.02,491.37 L657.52,490.70 L658.00,492.08 L658.48,491.95 L658.94,492.39 L659.39,492.09 L659.83,492.13 L660.27,493.00 L660.70,492.28 L661.13,492.66 L661.57,493.48 L662.00,493.65 L662.43,493.82 L662.84,494.40 L663.24,494.01 L663.63,494.84 L664.01,494.39 L664.39,495.51 L664.76,496.02 L665.14,495.67 L665.52,496.50 L665.91,496.47 L666.31,496.30 L666.72,496.99 L667.15,497.04 L667.60,497.48 L667.99,498.05 L668.42,498.58 L668.87,498.17 L669.34,499.00 L669.82,499.16 L670.31,499.90 L670.81,500.38 L671.30,500.93 L671.79,501.11 L672.27,500.46 L672.73,501.59 L673.16,501.09 L673.57,502.47 L673.94,502.03 L674.27,501.88 L674.56,502.58 L674.80,503.07" fill="none" stroke="#000000" stroke-width="1.6" stroke-linejoin="round" stroke-linecap="round" clip-path="url(#b4)"/>
<path d="M664.50,395.00 C662.92,397.17 657.67,403.67 655.00,408.00 C652.33,412.33 650.17,415.00 648.50,421.00 C646.83,427.00 646.67,436.50 645.00,444.00 C643.33,451.50 640.83,460.00 638.50,466.00 C636.17,472.00 633.02,476.27 631.00,480.00 C628.98,483.73 627.17,487.00 626.40,488.40" fill="none" stroke="#328a32" stroke-opacity="0.5" stroke-width="19.5" stroke-linecap="round"/>
<g font-family='"Liberation Sans", sans-serif' fill="#000">
<text x="-1.4" y="8.7" font-size="16.5" text-anchor="start" font-weight="bold" fill="#000" stroke="#000" stroke-width="0.15" >a</text>
<text x="-0.6" y="308.7" font-size="16" text-anchor="start" font-weight="bold" fill="#000" stroke="#000" stroke-width="0.15" >b</text>
<text x="282" y="14.9" font-size="13" text-anchor="start" font-weight="normal" fill="#000" stroke="#000" stroke-width="0.15" >Sample 3 (<tspan font-style="italic">a</tspan> axis)</text>
<text x="130.5" y="32.4" font-size="11" text-anchor="middle" font-weight="normal" fill="#000" stroke="#000" stroke-width="0.15" >18.3 kbar</text>
<text x="270" y="32.4" font-size="11" text-anchor="middle" font-weight="normal" fill="#000" stroke="#000" stroke-width="0.15" >20 kbar</text>
<text x="409" y="32.4" font-size="11" text-anchor="middle" font-weight="normal" fill="#000" stroke="#000" stroke-width="0.15" >23.5 kbar</text>
<text x="584" y="32.4" font-size="11" text-anchor="middle" font-weight="normal" fill="#000" stroke="#000" stroke-width="0.15" >30 kbar</text>
<text x="69" y="249.1" font-size="10.9" text-anchor="end" font-weight="normal" fill="#000" stroke="#000" stroke-width="0.15" >0</text>
<text x="69" y="204.1" font-size="10.9" text-anchor="end" font-weight="normal" fill="#000" stroke="#000" stroke-width="0.15" >5</text>
<text x="69" y="159.1" font-size="10.9" text-anchor="end" font-weight="normal" fill="#000" stroke="#000" stroke-width="0.15" >10</text>
<text x="69" y="114.10000000000001" font-size="10.9" text-anchor="end" font-weight="normal" fill="#000" stroke="#000" stroke-width="0.15" >15</text>
<text x="69" y="69.10000000000001" font-size="10.9" text-anchor="end" font-weight="normal" fill="#000" stroke="#000" stroke-width="0.15" >20</text>
<text x="523" y="249.8" font-size="10.9" text-anchor="end" font-weight="normal" fill="#000" stroke="#000" stroke-width="0.15" >0</text>
<text x="523" y="180.8" font-size="10.9" text-anchor="end" font-weight="normal" fill="#000" stroke="#000" stroke-width="0.15" >5</text>
<text x="523" y="111.80000000000001" font-size="10.9" text-anchor="end" font-weight="normal" fill="#000" stroke="#000" stroke-width="0.15" >10</text>
<text x="523" y="42.800000000000004" font-size="10.9" text-anchor="end" font-weight="normal" fill="#000" stroke="#000" stroke-width="0.15" >15</text>
<text x="73.7" y="258.3" font-size="10.9" text-anchor="middle" font-weight="normal" fill="#000" stroke="#000" stroke-width="0.15" >0</text>
<text x="110.3" y="258.3" font-size="10.9" text-anchor="middle" font-weight="normal" fill="#000" stroke="#000" stroke-width="0.15" >20</text>
<text x="146.9" y="258.3" font-size="10.9" text-anchor="middle" font-weight="normal" fill="#000" stroke="#000" stroke-width="0.15" >40</text>
<text x="183.5" y="258.3" font-size="10.9" text-anchor="middle" font-weight="normal" fill="#000" stroke="#000" stroke-width="0.15" >60</text>
<text x="213.4" y="258.3" font-size="10.9" text-anchor="middle" font-weight="normal" fill="#000" stroke="#000" stroke-width="0.15" >0</text>
<text x="250.0" y="258.3" font-size="10.9" text-anchor="middle" font-weight="normal" fill="#000" stroke="#000" stroke-width="0.15" >20</text>
<text x="286.6" y="258.3" font-size="10.9" text-anchor="middle" font-weight="normal" fill="#000" stroke="#000" stroke-width="0.15" >40</text>
<text x="323.2" y="258.3" font-size="10.9" text-anchor="middle" font-weight="normal" fill="#000" stroke="#000" stroke-width="0.15" >60</text>
<text x="352.7" y="258.3" font-size="10.9" text-anchor="middle" font-weight="normal" fill="#000" stroke="#000" stroke-width="0.15" >0</text>
<text x="370.9" y="258.3" font-size="10.9" text-anchor="middle" font-weight="normal" fill="#000" stroke="#000" stroke-width="0.15" >10</text>
<text x="389.2" y="258.3" font-size="10.9" text-anchor="middle" font-weight="normal" fill="#000" stroke="#000" stroke-width="0.15" >20</text>
<text x="407.4" y="258.3" font-size="10.9" text-anchor="middle" font-weight="normal" fill="#000" stroke="#000" stroke-width="0.15" >30</text>
<text x="425.7" y="258.3" font-size="10.9" text-anchor="middle" font-weight="normal" fill="#000" stroke="#000" stroke-width="0.15" >40</text>
<text x="443.9" y="258.3" font-size="10.9" text-anchor="middle" font-weight="normal" fill="#000" stroke="#000" stroke-width="0.15" >50</text>
<text x="462.2" y="258.3" font-size="10.9" text-anchor="middle" font-weight="normal" fill="#000" stroke="#000" stroke-width="0.15" >60</text>
<text x="528.1" y="258.3" font-size="10.9" text-anchor="middle" font-weight="normal" fill="#000" stroke="#000" stroke-width="0.15" >0</text>
<text x="560.3" y="258.3" font-size="10.9" text-anchor="middle" font-weight="normal" fill="#000" stroke="#000" stroke-width="0.15" >20</text>
<text x="592.4" y="258.3" font-size="10.9" text-anchor="middle" font-weight="normal" fill="#000" stroke="#000" stroke-width="0.15" >40</text>
<text x="624.6" y="258.3" font-size="10.9" text-anchor="middle" font-weight="normal" fill="#000" stroke="#000" stroke-width="0.15" >60</text>
<text x="179.6" y="275" font-size="11.3" text-anchor="start" font-weight="normal" fill="#000" stroke="#000" stroke-width="0.15" >Field (T)</text>
<text x="318.5" y="275" font-size="11.3" text-anchor="start" font-weight="normal" fill="#000" stroke="#000" stroke-width="0.15" >Field (T)</text>
<text x="476.5" y="275" font-size="11.3" text-anchor="start" font-weight="normal" fill="#000" stroke="#000" stroke-width="0.15" >Field (T)</text>
<text transform="translate(47.2,142.5) rotate(-90)" font-size="11.5" text-anchor="middle"><tspan font-style="italic">ρ</tspan><tspan font-style="italic" font-size="8" dy="2.5">a</tspan><tspan dy="-2.5"> (μΩ cm)</tspan></text>
<text x="95" y="64.7" font-size="11.5" text-anchor="start" font-weight="normal" fill="#000" stroke="#000" stroke-width="0.15" >3.9 K</text>
<text x="110.8" y="107" font-size="11.5" text-anchor="start" font-weight="normal" fill="#000" stroke="#000" stroke-width="0.15" >3.0 K</text>
<text x="114.2" y="132.4" font-size="11.5" text-anchor="start" font-weight="normal" fill="#000" stroke="#000" stroke-width="0.15" >2.5 K</text>
<text x="114.8" y="155" font-size="11.5" text-anchor="start" font-weight="normal" fill="#000" stroke="#000" stroke-width="0.15" >2.0 K</text>
<text x="114.8" y="171.7" font-size="11.5" text-anchor="start" font-weight="normal" fill="#000" stroke="#000" stroke-width="0.15" >1.5 K</text>
<text x="126.3" y="202.8" font-size="11.5" text-anchor="start" font-weight="normal" fill="#000" stroke="#000" stroke-width="0.15" >0.5 K</text>
<text x="253.6" y="88.8" font-size="11.5" text-anchor="start" font-weight="normal" fill="#000" stroke="#000" stroke-width="0.15" >3.9 K</text>
<text x="253.6" y="138.4" font-size="11.5" text-anchor="start" font-weight="normal" fill="#000" stroke="#000" stroke-width="0.15" >3.2 K</text>
<text x="253.7" y="172.9" font-size="11.5" text-anchor="start" font-weight="normal" fill="#000" stroke="#000" stroke-width="0.15" >2.2 K</text>
<text x="253.7" y="206.2" font-size="11.5" text-anchor="start" font-weight="normal" fill="#000" stroke="#000" stroke-width="0.15" >1.2 K</text>
<text x="471.9" y="85.5" font-size="11.5" text-anchor="start" font-weight="normal" fill="#000" stroke="#000" stroke-width="0.15" ><tspan font-style="italic">T</tspan>:</text>
<text x="470.5" y="102.5" font-size="11.5" text-anchor="start" font-weight="normal" fill="#000" stroke="#000" stroke-width="0.15" >3.9 K</text>
<text x="470.5" y="119.48" font-size="11.5" text-anchor="start" font-weight="normal" fill="#000" stroke="#000" stroke-width="0.15" >3.5 K</text>
<text x="470.5" y="136.46" font-size="11.5" text-anchor="start" font-weight="normal" fill="#000" stroke="#000" stroke-width="0.15" >3.2 K</text>
<text x="470.5" y="153.44" font-size="11.5" text-anchor="start" font-weight="normal" fill="#000" stroke="#000" stroke-width="0.15" >2.7 K</text>
<text x="470.5" y="170.42000000000002" font-size="11.5" text-anchor="start" font-weight="normal" fill="#000" stroke="#000" stroke-width="0.15" >2.2 K</text>
<text x="470.5" y="187.4" font-size="11.5" text-anchor="start" font-weight="normal" fill="#000" stroke="#000" stroke-width="0.15" >1.7 K</text>
<text x="470.5" y="204.38" font-size="11.5" text-anchor="start" font-weight="normal" fill="#000" stroke="#000" stroke-width="0.15" >1.3 K</text>
<text x="470.5" y="221.36" font-size="11.5" text-anchor="start" font-weight="normal" fill="#000" stroke="#000" stroke-width="0.15" >0.7 K</text>
<text x="647.6" y="94.2" font-size="11.5" text-anchor="start" font-weight="normal" fill="#000" stroke="#000" stroke-width="0.15" ><tspan font-style="italic">T</tspan>:</text>
<text x="646.4" y="111.5" font-size="11.5" text-anchor="start" font-weight="normal" fill="#000" stroke="#000" stroke-width="0.15" >4.0 K</text>
<text x="646.4" y="128.16" font-size="11.5" text-anchor="start" font-weight="normal" fill="#000" stroke="#000" stroke-width="0.15" >3.5 K</text>
<text x="646.4" y="144.82" font-size="11.5" text-anchor="start" font-weight="normal" fill="#000" stroke="#000" stroke-width="0.15" >3.3 K</text>
<text x="646.4" y="161.48000000000002" font-size="11.5" text-anchor="start" font-weight="normal" fill="#000" stroke="#000" stroke-width="0.15" >2.8 K</text>
<text x="646.4" y="178.14" font-size="11.5" text-anchor="start" font-weight="normal" fill="#000" stroke="#000" stroke-width="0.15" >2.5 K</text>
<text x="646.4" y="194.8" font-size="11.5" text-anchor="start" font-weight="normal" fill="#000" stroke="#000" stroke-width="0.15" >2.1 K</text>
<text x="212" y="313.4" font-size="13" text-anchor="end" font-weight="normal" fill="#000" stroke="#000" stroke-width="0.15" >Sample 2</text>
<text x="506.1" y="313.3" font-size="13" text-anchor="start" font-weight="normal" fill="#000" stroke="#000" stroke-width="0.15" >Sample 3</text>
<text x="31.5" y="536.9" font-size="10.9" text-anchor="end" font-weight="normal" fill="#000" stroke="#000" stroke-width="0.15" >0</text>
<text x="31.5" y="512.58" font-size="10.9" text-anchor="end" font-weight="normal" fill="#000" stroke="#000" stroke-width="0.15" >2</text>
<text x="31.5" y="488.26000000000005" font-size="10.9" text-anchor="end" font-weight="normal" fill="#000" stroke="#000" stroke-width="0.15" >4</text>
<text x="31.5" y="463.94" font-size="10.9" text-anchor="end" font-weight="normal" fill="#000" stroke="#000" stroke-width="0.15" >6</text>
<text x="31.5" y="439.62000000000006" font-size="10.9" text-anchor="end" font-weight="normal" fill="#000" stroke="#000" stroke-width="0.15" >8</text>
<text x="31.5" y="415.3" font-size="10.9" text-anchor="end" font-weight="normal" fill="#000" stroke="#000" stroke-width="0.15" >10</text>
<text x="31.5" y="390.98" font-size="10.9" text-anchor="end" font-weight="normal" fill="#000" stroke="#000" stroke-width="0.15" >12</text>
<text x="31.5" y="366.66" font-size="10.9" text-anchor="end" font-weight="normal" fill="#000" stroke="#000" stroke-width="0.15" >14</text>
<text x="31.5" y="342.34000000000003" font-size="10.9" text-anchor="end" font-weight="normal" fill="#000" stroke="#000" stroke-width="0.15" >16</text>
<text x="377.5" y="536.9" font-size="10.9" text-anchor="end" font-weight="normal" fill="#000" stroke="#000" stroke-width="0.15" >0</text>
<text x="377.5" y="453.90000000000003" font-size="10.9" text-anchor="end" font-weight="normal" fill="#000" stroke="#000" stroke-width="0.15" >10</text>
<text x="377.5" y="370.90000000000003" font-size="10.9" text-anchor="end" font-weight="normal" fill="#000" stroke="#000" stroke-width="0.15" >20</text>
<text x="36.7" y="546.8" font-size="10.9" text-anchor="middle" font-weight="normal" fill="#000" stroke="#000" stroke-width="0.15" >0</text>
<text x="79.4" y="546.8" font-size="10.9" text-anchor="middle" font-weight="normal" fill="#000" stroke="#000" stroke-width="0.15" >20</text>
<text x="122.0" y="546.8" font-size="10.9" text-anchor="middle" font-weight="normal" fill="#000" stroke="#000" stroke-width="0.15" >40</text>
<text x="164.7" y="546.8" font-size="10.9" text-anchor="middle" font-weight="normal" fill="#000" stroke="#000" stroke-width="0.15" >60</text>
<text x="210.2" y="546.8" font-size="10.9" text-anchor="middle" font-weight="normal" fill="#000" stroke="#000" stroke-width="0.15" >0</text>
<text x="253.0" y="546.8" font-size="10.9" text-anchor="middle" font-weight="normal" fill="#000" stroke="#000" stroke-width="0.15" >20</text>
<text x="295.7" y="546.8" font-size="10.9" text-anchor="middle" font-weight="normal" fill="#000" stroke="#000" stroke-width="0.15" >40</text>
<text x="338.5" y="546.8" font-size="10.9" text-anchor="middle" font-weight="normal" fill="#000" stroke="#000" stroke-width="0.15" >60</text>
<text x="382.2" y="546.8" font-size="10.9" text-anchor="middle" font-weight="normal" fill="#000" stroke="#000" stroke-width="0.15" >0</text>
<text x="421.8" y="546.8" font-size="10.9" text-anchor="middle" font-weight="normal" fill="#000" stroke="#000" stroke-width="0.15" >20</text>
<text x="461.4" y="546.8" font-size="10.9" text-anchor="middle" font-weight="normal" fill="#000" stroke="#000" stroke-width="0.15" >40</text>
<text x="501.0" y="546.8" font-size="10.9" text-anchor="middle" font-weight="normal" fill="#000" stroke="#000" stroke-width="0.15" >60</text>
<text x="556.3" y="546.8" font-size="10.9" text-anchor="middle" font-weight="normal" fill="#000" stroke="#000" stroke-width="0.15" >0</text>
<text x="595.7" y="546.8" font-size="10.9" text-anchor="middle" font-weight="normal" fill="#000" stroke="#000" stroke-width="0.15" >20</text>
<text x="635.1" y="546.8" font-size="10.9" text-anchor="middle" font-weight="normal" fill="#000" stroke="#000" stroke-width="0.15" >40</text>
<text x="674.5" y="546.8" font-size="10.9" text-anchor="middle" font-weight="normal" fill="#000" stroke="#000" stroke-width="0.15" >60</text>
<text x="164" y="563" font-size="11.3" text-anchor="start" font-weight="normal" fill="#000" stroke="#000" stroke-width="0.15" >Field (T)</text>
<text x="512.8" y="563" font-size="11.3" text-anchor="start" font-weight="normal" fill="#000" stroke="#000" stroke-width="0.15" >Field (T)</text>
<text transform="translate(10.2,429.5) rotate(-90)" font-size="11" text-anchor="middle"><tspan font-style="italic">ρ</tspan> (μΩ cm)</text>
<text transform="translate(356.3,429.2) rotate(-90)" font-size="11" text-anchor="middle"><tspan font-style="italic">ρ</tspan> (μΩ cm)</text>
<text x="44.3" y="341.8" font-size="11" text-anchor="start" font-weight="normal" fill="#000" stroke="#000" stroke-width="0.15" ><tspan font-style="italic">a</tspan> axis</text>
<text x="215.8" y="338.9" font-size="11" text-anchor="start" font-weight="normal" fill="#000" stroke="#000" stroke-width="0.15" ><tspan font-style="italic">b</tspan><tspan font-size="7" dy="-4">*</tspan><tspan dy="4"> axis</tspan></text>
<text x="473.6" y="338.3" font-size="11" text-anchor="start" font-weight="normal" fill="#000" stroke="#000" stroke-width="0.15" ><tspan font-style="italic">a</tspan> axis</text>
<text x="647" y="341.6" font-size="11" text-anchor="start" font-weight="normal" fill="#000" stroke="#000" stroke-width="0.15" ><tspan font-style="italic">b</tspan><tspan font-size="7" dy="-4">*</tspan><tspan dy="4"> axis</tspan></text>
<text x="186.5" y="354.3" font-size="11" text-anchor="middle" font-weight="normal" fill="#000" stroke="#000" stroke-width="0.15" ><tspan font-style="italic">p</tspan> (kbar)</text>
<text x="186.5" y="370.2" font-size="10.9" text-anchor="middle" font-weight="normal" fill="#000" stroke="#000" stroke-width="0.15" >22</text>
<text x="186.5" y="407.7" font-size="10.9" text-anchor="middle" font-weight="normal" fill="#000" stroke="#000" stroke-width="0.15" >18.9</text>
<text x="186.5" y="443.3" font-size="10.9" text-anchor="middle" font-weight="normal" fill="#000" stroke="#000" stroke-width="0.15" >16.7</text>
<text x="186.5" y="487.9" font-size="10.9" text-anchor="middle" font-weight="normal" fill="#000" stroke="#000" stroke-width="0.15" >12.6</text>
<text x="186.5" y="510.1" font-size="10.9" text-anchor="middle" font-weight="normal" fill="#000" stroke="#000" stroke-width="0.15" >9</text>
<text x="532.8" y="337.1" font-size="11" text-anchor="middle" font-weight="normal" fill="#000" stroke="#000" stroke-width="0.15" ><tspan font-style="italic">p</tspan> (kbar)</text>
<text x="533.1" y="353.4" font-size="10.9" text-anchor="middle" font-weight="normal" fill="#000" stroke="#000" stroke-width="0.15" >30</text>
<text x="533.1" y="383" font-size="10.9" text-anchor="middle" font-weight="normal" fill="#000" stroke="#000" stroke-width="0.15" >23.5</text>
<text x="533.1" y="420.4" font-size="10.9" text-anchor="middle" font-weight="normal" fill="#000" stroke="#000" stroke-width="0.15" >20</text>
<text x="533.1" y="457.2" font-size="10.9" text-anchor="middle" font-weight="normal" fill="#000" stroke="#000" stroke-width="0.15" >18.3</text>
<text x="533.1" y="507.8" font-size="10.9" text-anchor="middle" font-weight="normal" fill="#000" stroke="#000" stroke-width="0.15" >8.7</text>
<text x="44.9" y="414.7" font-size="10" text-anchor="start" font-weight="normal" fill="#000" stroke="#000" stroke-width="0.15" >3.0 K</text>
<text x="44.6" y="464.5" font-size="10" text-anchor="start" font-weight="normal" fill="#000" stroke="#000" stroke-width="0.15" >3.2 K</text>
<text x="44.6" y="495.0" font-size="10" text-anchor="start" font-weight="normal" fill="#000" stroke="#000" stroke-width="0.15" >3.2 K</text>
<text x="44.6" y="524.9" font-size="10" text-anchor="start" font-weight="normal" fill="#000" stroke="#000" stroke-width="0.15" >3.2 K</text>
<text x="220.3" y="360.5" font-size="10" text-anchor="start" font-weight="normal" fill="#000" stroke="#000" stroke-width="0.15" >3.1 K</text>
<text x="220.3" y="404.5" font-size="10" text-anchor="start" font-weight="normal" fill="#000" stroke="#000" stroke-width="0.15" >3.0 K</text>
<text x="220.3" y="447.40000000000003" font-size="10" text-anchor="start" font-weight="normal" fill="#000" stroke="#000" stroke-width="0.15" >3.2 K</text>
<text x="220.3" y="482.1" font-size="10" text-anchor="start" font-weight="normal" fill="#000" stroke="#000" stroke-width="0.15" >3.2 K</text>
<text x="220.3" y="519.9" font-size="10" text-anchor="start" font-weight="normal" fill="#000" stroke="#000" stroke-width="0.15" >3.2 K</text>
<text x="389.9" y="347.3" font-size="10" text-anchor="start" font-weight="normal" fill="#000" stroke="#000" stroke-width="0.15" >3.3 K</text>
<text x="389.9" y="368.3" font-size="10" text-anchor="start" font-weight="normal" fill="#000" stroke="#000" stroke-width="0.15" >3.1 K</text>
<text x="389.9" y="422.90000000000003" font-size="10" text-anchor="start" font-weight="normal" fill="#000" stroke="#000" stroke-width="0.15" >3.2 K</text>
<text x="389.9" y="477.0" font-size="10" text-anchor="start" font-weight="normal" fill="#000" stroke="#000" stroke-width="0.15" >3.0 K</text>
<text x="389.9" y="528.0999999999999" font-size="10" text-anchor="start" font-weight="normal" fill="#000" stroke="#000" stroke-width="0.15" >2.8 K</text>
<text x="565.8" y="375.90000000000003" font-size="10" text-anchor="start" font-weight="normal" fill="#000" stroke="#000" stroke-width="0.15" >3.1 K</text>
<text x="565.8" y="418.8" font-size="10" text-anchor="start" font-weight="normal" fill="#000" stroke="#000" stroke-width="0.15" >3.2 K</text>
<text x="565.8" y="468.2" font-size="10" text-anchor="start" font-weight="normal" fill="#000" stroke="#000" stroke-width="0.15" >3.0 K</text>
<text x="565.8" y="528.0999999999999" font-size="10" text-anchor="start" font-weight="normal" fill="#000" stroke="#000" stroke-width="0.15" >2.8 K</text>
</g>
</svg></body></html>
